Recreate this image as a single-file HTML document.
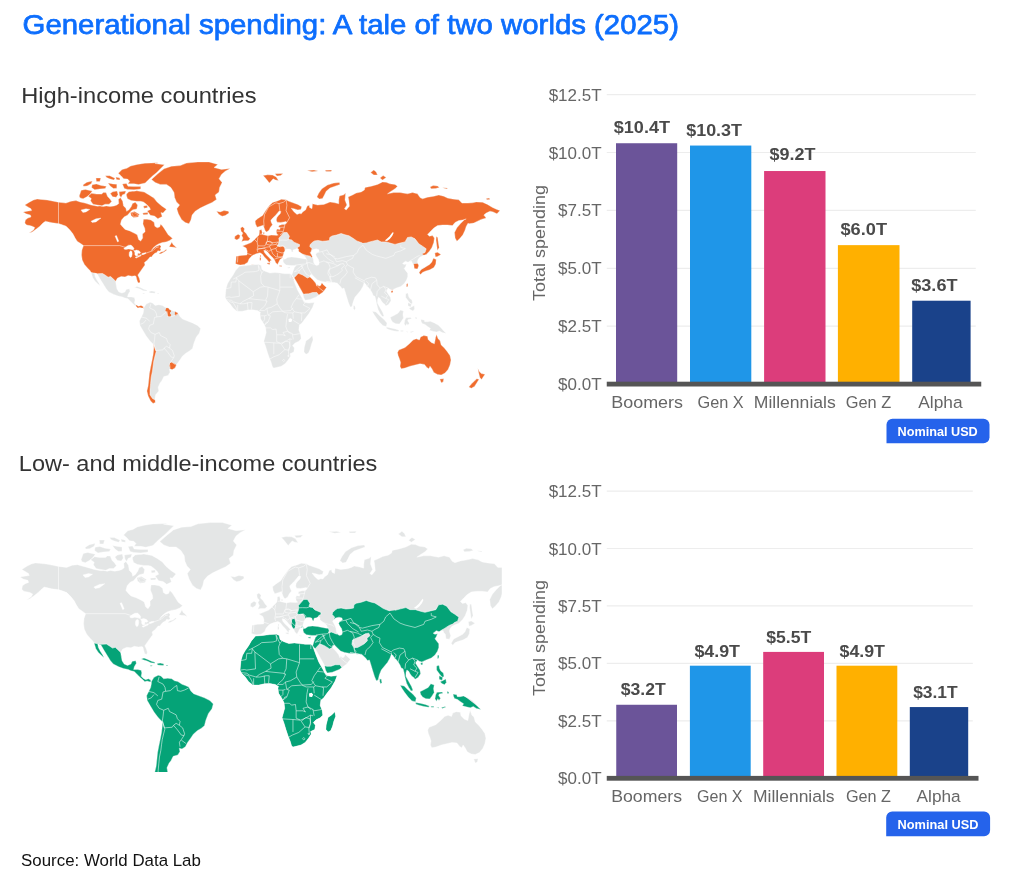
<!DOCTYPE html>
<html lang="en"><head><meta charset="utf-8"><title>Generational spending: A tale of two worlds (2025)</title>
<style>
html,body{margin:0;padding:0;background:#fff;}
body{width:1023px;height:881px;overflow:hidden;font-family:"Liberation Sans", sans-serif;}
svg{display:block;font-family:"Liberation Sans", sans-serif;}
</style></head><body>
<svg width="1023" height="881" viewBox="0 0 1023 881">
<rect width="1023" height="881" fill="#fff"/>
<text x="22.60" y="34.20" font-size="28.3" textLength="656.40" lengthAdjust="spacingAndGlyphs" fill="#0D6EFD" id="title" stroke="#0D6EFD" stroke-width="0.75" stroke-linejoin="round">Generational spending: A tale of two worlds (2025)</text>
<text x="21.20" y="102.60" font-size="21.6" textLength="235.40" lengthAdjust="spacingAndGlyphs" fill="#333" id="sub1">High-income countries</text>
<text x="18.80" y="471.30" font-size="21.6" textLength="358.50" lengthAdjust="spacingAndGlyphs" fill="#333" id="sub2">Low- and middle-income countries</text>
<text x="21.10" y="865.80" font-size="17.2" textLength="179.80" lengthAdjust="spacingAndGlyphs" fill="#111" id="src">Source: World Data Lab</text>
<defs>
<clipPath id="land"><path clip-rule="evenodd" d="M58.5,202.2 L53.5,201.2 L47.2,200.0 L41.0,199.4 L37.2,199.0 L33.5,200.0 L29.8,201.9 L24.8,205.0 L27.9,206.9 L31.0,208.8 L31.6,210.6 L27.2,211.2 L23.2,211.9 L26.0,213.8 L30.4,215.0 L31.0,216.9 L27.9,218.1 L25.4,220.0 L24.8,223.1 L26.6,225.0 L29.8,225.6 L32.2,226.2 L34.8,227.5 L33.5,230.0 L29.1,233.1 L32.2,231.9 L36.6,228.8 L39.8,226.2 L42.9,223.1 L45.4,221.2 L48.5,221.9 L52.2,222.8 L57.9,223.5 L61.0,224.4 L66.0,226.2 L69.8,230.0 L72.9,233.8 L74.8,237.5 L77.2,241.2 L81.0,243.8 L83.5,245.6 L81.9,250.0 L81.5,255.0 L82.2,260.0 L84.4,264.4 L87.5,268.1 L90.0,270.6 L91.2,272.6 L92.8,277.8 L95.1,281.2 L98.0,284.1 L100.2,286.1 L99.1,283.6 L96.9,280.1 L95.1,276.6 L94.5,273.2 L96.0,273.6 L97.5,274.4 L100.0,278.8 L103.1,283.8 L106.2,288.8 L108.8,291.9 L113.8,294.4 L118.1,296.0 L122.5,296.9 L125.0,298.1 L128.1,298.8 L131.2,301.9 L133.8,304.4 L136.2,306.5 L137.8,308.1 L139.8,307.5 L141.9,308.1 L143.5,308.1 L143.1,306.5 L141.0,305.4 L138.5,306.2 L136.2,305.0 L134.4,303.1 L135.0,300.0 L134.4,297.5 L131.2,296.9 L127.5,296.9 L128.1,294.4 L130.0,291.2 L129.4,288.8 L126.2,289.4 L125.0,291.9 L121.9,293.1 L118.8,291.9 L116.9,288.8 L116.2,285.0 L115.6,281.2 L117.5,278.1 L121.2,276.5 L125.0,276.9 L128.1,275.6 L131.9,276.2 L135.0,275.8 L136.1,276.5 L136.8,279.4 L137.6,282.1 L138.8,282.9 L139.6,282.8 L140.1,281.2 L139.2,278.1 L137.8,275.0 L140.0,271.9 L143.1,267.5 L145.0,265.0 L144.4,262.5 L147.5,260.0 L150.0,256.9 L151.6,257.0 L152.9,255.1 L154.8,253.2 L156.8,252.4 L157.8,250.8 L159.8,251.1 L161.1,250.0 L160.1,248.4 L161.1,246.5 L159.8,244.9 L156.0,246.5 L153.5,248.4 L151.3,250.6 L153.5,247.6 L156.0,245.4 L158.5,243.9 L162.2,242.6 L166.0,241.9 L169.8,240.4 L172.6,238.2 L172.1,238.0 L168.2,234.8 L165.8,230.9 L162.7,226.2 L160.7,224.3 L159.6,227.0 L157.2,227.8 L154.8,226.2 L154.1,222.3 L150.9,220.0 L147.0,219.2 L143.5,219.2 L142.9,223.9 L144.8,228.6 L145.1,231.7 L142.5,234.1 L142.7,238.0 L140.7,241.1 L138.6,239.6 L137.2,234.8 L134.5,233.3 L129.8,230.9 L125.1,229.4 L122.7,227.0 L120.4,224.3 L121.5,220.0 L124.3,216.8 L127.4,215.3 L130.9,211.3 L132.9,209.8 L136.8,209.0 L137.6,205.1 L135.3,202.3 L132.5,203.5 L131.3,206.6 L129.0,209.8 L126.6,211.3 L125.9,208.2 L123.5,205.9 L122.7,201.2 L120.4,197.6 L118.4,199.6 L118.8,203.5 L116.8,205.1 L114.1,205.9 L110.2,206.6 L106.3,205.9 L103.1,206.6 L100.0,205.9 L97.5,206.2 L91.2,205.0 L85.0,203.1 L80.0,201.9 L76.0,200.6 L71.0,201.2 L66.0,203.1ZM123.8,248.4 L126.0,246.7 L128.5,245.2 L131.0,245.1 L132.9,246.7 L134.1,248.6 L133.2,249.8 L131.0,249.2 L128.5,248.9 L126.0,249.5 L124.4,249.2ZM129.4,252.0 L130.7,250.8 L131.9,251.4 L132.2,253.9 L131.6,256.7 L130.4,257.6 L129.2,256.1 L129.1,253.9ZM134.1,250.8 L136.6,250.1 L139.1,250.8 L140.7,252.6 L139.8,253.6 L137.9,253.2 L137.6,255.4 L136.0,256.1 L134.8,254.5 L135.1,252.6ZM135.1,257.3 L137.2,256.4 L139.8,255.4 L141.0,254.8 L140.7,256.1 L138.5,257.0 L136.3,258.1ZM141.9,253.6 L144.1,252.9 L146.0,252.6 L145.7,253.6 L143.5,254.4 L141.9,254.5ZM81.0,210.0 L86.0,208.8 L89.8,209.4 L86.0,211.9 L82.9,212.5ZM91.0,221.2 L96.0,218.8 L101.0,218.1 L96.0,221.9 L92.2,222.5ZM115.0,236.0 L116.5,235.6 L118.8,241.2 L117.5,241.9Z"/>
<path clip-rule="evenodd" d="M169.1,246.7 L170.7,244.2 L171.8,242.0 L173.0,244.5 L174.8,245.9 L176.6,248.1 L174.1,247.2 L171.3,247.1Z"/>
<path clip-rule="evenodd" d="M159.1,253.4 L161.0,252.0 L163.5,251.4 L166.0,249.5 L166.9,250.1 L164.1,252.1 L161.0,253.7 L159.4,254.0Z"/>
<path clip-rule="evenodd" d="M126.6,195.2 L126.4,195.4 L127.5,198.7 L131.1,200.5 L136.8,201.3 L140.6,201.3 L143.5,202.0 L146.4,204.2 L149.4,207.2 L150.5,209.4 L147.2,211.0 L150.4,215.3 L154.5,216.1 L157.9,218.7 L162.2,216.5 L160.9,212.6 L163.0,213.1 L166.4,209.2 L161.7,205.9 L157.1,202.1 L153.9,198.1 L149.1,194.9 L144.2,192.1 L136.8,190.8 L134.1,191.2 L132.4,191.2 L128.9,191.7 L126.3,194.2Z"/>
<path clip-rule="evenodd" d="M130.5,212.4 L131.1,215.6 L133.5,217.6 L138.1,217.1 L139.3,214.2 L134.6,211.4Z"/>
<path clip-rule="evenodd" d="M143.5,206.0 L144.0,208.2 L147.3,207.7 L147.3,205.5Z"/>
<path clip-rule="evenodd" d="M142.7,213.0 L143.3,214.8 L147.6,214.5 L148.2,212.6Z"/>
<path clip-rule="evenodd" d="M79.2,196.1 L80.1,197.9 L83.1,198.8 L86.4,197.1 L89.6,194.7 L92.3,191.1 L85.4,189.4 L81.2,190.3Z"/>
<path clip-rule="evenodd" d="M88.0,196.0 L91.3,198.5 L90.5,200.8 L93.0,204.2 L97.1,205.0 L101.9,205.8 L105.1,204.2 L109.1,204.2 L111.7,201.6 L110.0,199.0 L107.6,196.6 L106.0,192.6 L103.3,192.6 L101.7,194.1 L96.4,194.1 L91.6,193.3Z"/>
<path clip-rule="evenodd" d="M82.9,184.9 L83.6,186.3 L87.1,185.9 L91.2,183.8 L92.3,181.0 L86.8,182.3Z"/>
<path clip-rule="evenodd" d="M92.1,184.7 L91.6,187.6 L94.7,189.8 L99.6,189.0 L105.2,188.6 L106.4,186.3 L101.2,185.5 L96.4,183.9Z"/>
<path clip-rule="evenodd" d="M95.9,178.0 L96.4,181.6 L99.8,181.6 L100.8,178.0Z"/>
<path clip-rule="evenodd" d="M108.0,182.9 L110.2,186.1 L113.5,188.6 L116.8,188.2 L116.8,184.3 L112.9,183.9Z"/>
<path clip-rule="evenodd" d="M105.4,175.7 L106.7,177.6 L109.6,178.8 L113.8,180.1 L115.0,178.3 L109.8,175.7Z"/>
<path clip-rule="evenodd" d="M115.8,177.1 L116.4,179.6 L119.9,180.1 L119.9,178.1Z"/>
<path clip-rule="evenodd" d="M118.3,173.3 L121.2,175.9 L123.7,178.7 L127.6,179.1 L129.7,181.2 L127.9,183.8 L134.0,183.8 L138.6,184.6 L138.6,184.6 L145.2,183.0 L149.0,179.2 L152.7,175.8 L156.5,172.7 L164.4,164.8 L155.0,163.5 L157.5,163.3 L157.5,162.8 L144.9,163.2 L137.1,164.4 L130.7,166.0 L126.8,168.3 L122.1,169.5Z"/>
<path clip-rule="evenodd" d="M122.4,184.0 L124.3,188.5 L127.6,189.4 L134.0,189.8 L140.7,189.0 L140.7,186.6 L134.0,186.6 L128.0,186.3 L126.4,183.5Z"/>
<path clip-rule="evenodd" d="M110.3,193.6 L112.6,196.8 L116.2,197.3 L118.0,194.6 L117.0,190.9 L112.7,191.8Z"/>
<path clip-rule="evenodd" d="M119.0,191.8 L119.5,195.4 L121.1,197.6 L122.5,194.8 L124.9,194.0 L125.9,190.9Z"/>
<path clip-rule="evenodd" d="M131.3,211.9 L133.8,216.9 L138.9,215.4 L134.9,212.9Z"/>
<path clip-rule="evenodd" d="M151.5,179.4 L157.8,173.8 L164.0,168.8 L171.5,166.2 L180.2,165.6 L186.5,163.1 L197.8,161.9 L209.0,161.9 L217.8,164.4 L214.0,167.5 L221.5,169.4 L230.2,168.5 L225.2,171.2 L221.5,174.4 L219.0,178.8 L222.1,182.5 L219.6,187.5 L219.0,191.9 L215.2,195.0 L216.5,199.4 L212.1,202.5 L206.5,205.0 L200.2,208.1 L195.2,211.2 L192.1,215.0 L190.9,220.0 L189.0,223.8 L185.2,222.5 L181.5,219.4 L178.4,213.8 L176.8,208.8 L179.6,205.0 L176.5,201.9 L174.6,197.5 L174.0,192.5 L170.9,187.5 L166.5,184.4 L160.2,184.4 L155.2,182.5Z"/>
<path clip-rule="evenodd" d="M216.5,211.2 L220.2,211.9 L224.0,210.6 L228.4,211.2 L229.0,213.1 L225.2,215.6 L222.1,216.2 L219.0,214.4Z"/>
<path clip-rule="evenodd" d="M263.1,175.6 L267.5,174.8 L272.5,175.0 L276.2,176.9 L278.5,180.6 L275.6,180.0 L273.1,178.8 L271.2,181.0 L269.4,183.1 L267.2,180.2 L265.2,177.8Z"/>
<path clip-rule="evenodd" d="M275.0,173.8 L283.1,173.4 L280.6,175.6 L276.9,176.0Z"/>
<path clip-rule="evenodd" d="M262.9,232.6 L264.3,232.4 L264.3,233.7 L263.1,233.8Z"/>
<path clip-rule="evenodd" d="M316.9,196.9 L318.8,193.1 L321.9,188.8 L327.5,185.0 L333.8,183.1 L339.4,182.5 L340.0,184.4 L335.0,186.2 L330.0,188.1 L326.2,191.2 L324.4,195.0 L322.5,198.5 L319.4,199.0Z"/>
<path clip-rule="evenodd" d="M240.5,228.1 L241.1,231.3 L242.9,233.1 L241.7,235.6 L243.0,238.1 L241.6,241.5 L244.4,240.8 L248.2,240.8 L250.2,238.8 L248.2,236.8 L246.4,233.7 L243.9,231.2 L244.5,228.7 L242.5,226.7Z"/>
<path clip-rule="evenodd" d="M234.9,236.2 L234.6,238.8 L236.9,239.9 L239.5,238.2 L240.2,235.6 L238.1,234.2Z"/>
<path clip-rule="evenodd" d="M143.8,307.9 L146.2,304.1 L150.0,302.2 L152.5,302.9 L155.0,305.4 L158.8,304.8 L162.5,305.4 L165.0,307.2 L168.1,307.9 L171.9,310.4 L175.0,311.6 L178.1,312.9 L180.0,316.6 L182.5,319.1 L187.5,321.0 L192.5,322.9 L197.5,325.4 L200.6,328.5 L199.4,332.9 L196.2,337.2 L193.8,343.5 L192.5,348.5 L189.4,351.0 L186.2,352.9 L182.5,356.0 L180.0,359.8 L176.9,364.1 L175.0,367.9 L171.9,369.8 L169.4,369.1 L170.0,372.2 L168.1,375.4 L163.8,376.6 L161.9,380.4 L160.0,382.9 L158.1,387.2 L158.8,391.0 L155.6,394.8 L155.0,398.5 L155.6,402.2 L153.1,403.5 L150.6,401.0 L148.1,396.0 L146.9,391.0 L148.1,386.0 L148.8,379.8 L149.4,373.5 L150.6,367.2 L151.9,361.0 L153.1,354.8 L153.8,348.5 L153.8,344.8 L150.0,341.0 L146.2,336.0 L142.5,329.8 L140.0,325.4 L139.4,321.0 L141.2,317.2 L143.1,313.5 L143.8,309.8Z"/>
<path clip-rule="evenodd" d="M239.4,266.2 L246.2,265.6 L252.5,264.8 L258.8,264.4 L261.2,265.6 L261.9,269.4 L265.0,271.2 L270.0,273.1 L275.0,272.5 L280.0,273.1 L285.0,273.8 L290.0,273.8 L291.9,275.0 L292.5,276.9 L295.0,283.8 L297.5,290.0 L300.6,295.6 L303.1,300.0 L305.0,302.5 L308.8,303.1 L314.4,302.5 L312.5,307.5 L308.8,313.8 L305.0,318.8 L301.9,323.1 L299.4,325.0 L298.8,330.0 L300.6,334.4 L301.2,338.8 L298.8,341.2 L295.0,343.1 L292.5,345.6 L294.4,348.1 L293.8,351.9 L290.0,353.8 L290.6,356.2 L288.1,360.0 L285.0,363.8 L281.2,366.2 L277.5,367.2 L273.8,368.1 L272.5,366.9 L271.2,362.5 L269.4,358.1 L267.5,352.5 L265.6,346.2 L263.8,341.2 L265.0,336.9 L266.2,332.5 L265.6,327.5 L263.8,323.8 L260.6,318.8 L260.0,313.8 L260.6,312.5 L257.5,310.6 L252.5,309.8 L247.5,310.0 L242.5,311.2 L236.9,311.2 L233.1,308.1 L230.0,303.8 L226.9,300.6 L225.2,297.5 L225.6,293.1 L226.0,288.8 L227.5,283.8 L230.0,279.4 L233.1,275.0 L235.6,270.6Z"/>
<path clip-rule="evenodd" d="M312.3,335.5 L309.4,338.5 L305.9,340.9 L305.4,343.2 L304.2,347.8 L304.0,351.9 L306.0,354.3 L308.5,353.1 L310.2,349.0 L311.4,344.4 L313.1,339.8Z"/>
<path clip-rule="evenodd" d="M397.5,352.5 L398.8,350.0 L405.0,347.5 L409.4,343.8 L413.1,340.0 L416.2,338.8 L419.4,340.0 L420.6,336.9 L423.8,335.6 L427.5,336.2 L428.1,339.4 L431.2,342.5 L434.4,343.8 L435.6,337.5 L436.5,334.4 L438.1,338.8 L440.0,340.6 L441.2,345.0 L444.4,348.1 L447.5,351.9 L450.0,355.6 L451.0,360.0 L450.0,365.0 L448.1,369.4 L445.0,373.1 L441.2,375.0 L437.5,374.4 L433.8,372.5 L431.9,368.8 L430.0,366.2 L428.8,368.8 L426.9,367.5 L424.4,364.4 L420.0,363.8 L415.0,365.0 L410.0,366.2 L405.0,368.1 L401.2,368.8 L400.0,366.2 L400.6,362.5 L399.4,358.8 L398.1,355.6Z"/>
<path clip-rule="evenodd" d="M439.8,379.0 L443.8,378.8 L443.1,381.9 L441.2,382.8Z"/>
<path clip-rule="evenodd" d="M477.8,368.7 L479.2,375.0 L479.9,377.6 L481.5,379.6 L483.2,377.0 L485.0,374.3 L481.3,373.6 L479.5,371.8 L477.9,368.7Z"/>
<path clip-rule="evenodd" d="M479.0,379.3 L476.8,378.8 L474.9,380.5 L471.8,383.6 L468.8,386.9 L471.3,388.3 L474.5,386.4 L477.0,382.6Z"/>
<path clip-rule="evenodd" d="M235.6,263.8 L236.0,259.4 L236.2,256.2 L241.2,255.4 L246.9,255.0 L247.2,251.2 L246.2,248.1 L242.5,246.0 L245.6,244.8 L248.8,243.5 L251.2,242.5 L253.5,240.6 L256.0,238.1 L258.1,236.0 L259.0,235.0 L259.0,235.0 L259.4,232.6 L259.4,230.3 L261.4,229.5 L262.2,232.2 L261.8,234.2 L262.9,234.6 L264.9,235.1 L268.0,235.7 L271.2,235.1 L275.9,235.3 L277.8,234.6 L276.7,233.4 L276.3,231.0 L277.1,229.1 L279.8,229.6 L280.2,227.9 L278.6,227.1 L279.0,225.4 L282.1,224.6 L284.9,224.6 L286.9,222.8 L286.1,221.5 L283.7,222.0 L280.6,222.4 L277.1,222.2 L276.3,220.1 L276.8,217.7 L278.2,215.8 L280.2,213.8 L281.0,211.4 L279.2,210.9 L277.1,213.4 L275.1,215.8 L272.7,218.1 L270.8,220.2 L271.2,222.2 L272.5,224.8 L270.4,227.3 L269.0,230.3 L266.5,232.0 L265.1,230.4 L264.0,227.5 L263.3,225.2 L260.2,226.3 L257.1,227.3 L255.5,224.0 L255.1,220.9 L257.9,218.5 L262.6,215.4 L264.9,211.8 L267.3,208.3 L269.6,205.2 L272.7,202.4 L277.4,200.9 L281.4,199.3 L286.1,199.7 L288.4,201.1 L293.1,202.8 L297.8,204.4 L301.7,206.8 L300.9,209.5 L297.8,209.9 L293.9,208.7 L291.2,208.2 L293.9,211.8 L297.0,214.4 L299.4,213.5 L301.3,213.8 L302.9,211.8 L305.6,209.9 L307.2,206.0 L309.2,205.2 L309.6,207.5 L312.0,208.7 L312.5,203.8 L317.5,205.0 L323.8,204.4 L327.5,203.1 L330.0,201.9 L335.0,202.8 L338.8,203.8 L338.8,200.0 L339.4,196.0 L343.8,194.8 L345.6,193.1 L345.0,200.0 L346.9,205.0 L344.4,208.8 L346.2,210.0 L349.4,206.2 L348.8,200.0 L348.1,196.9 L352.5,195.0 L356.2,193.1 L361.2,191.9 L364.4,190.0 L365.0,187.5 L371.2,186.2 L377.5,184.4 L382.5,181.9 L386.2,182.2 L390.0,183.8 L395.0,184.4 L397.5,186.2 L395.0,188.8 L390.0,191.9 L387.5,193.8 L393.8,192.5 L400.0,192.5 L407.5,193.8 L412.5,192.5 L417.5,193.8 L420.0,197.5 L422.5,198.8 L427.5,197.2 L433.8,196.2 L438.8,195.0 L443.8,196.2 L447.5,198.1 L452.5,199.0 L458.8,199.8 L461.9,203.1 L467.9,203.1 L472.5,202.8 L476.2,201.9 L482.5,202.2 L487.5,204.4 L492.5,207.5 L496.9,209.4 L500.0,210.6 L496.9,213.8 L493.1,211.9 L490.0,211.2 L486.2,213.1 L483.8,215.0 L486.2,218.1 L481.2,219.4 L477.5,221.2 L473.8,223.1 L468.8,223.8 L468.1,223.1 L466.2,226.5 L465.0,230.2 L462.9,234.8 L459.8,238.5 L456.9,241.2 L455.1,238.1 L454.5,232.5 L456.9,227.8 L460.6,223.5 L464.4,219.8 L466.2,219.0 L462.5,220.0 L458.8,220.6 L455.0,222.5 L452.5,225.6 L447.5,225.0 L442.5,225.0 L437.5,225.6 L433.8,228.1 L430.6,231.2 L427.5,234.4 L429.4,236.2 L432.5,235.6 L434.4,238.1 L433.8,242.5 L431.9,247.5 L429.4,251.2 L426.2,254.4 L423.1,255.6 L419.7,257.2 L418.0,259.5 L417.4,261.8 L418.7,265.8 L417.5,269.0 L414.3,268.6 L413.8,264.6 L412.3,262.9 L411.7,261.2 L410.0,261.2 L408.2,262.3 L405.4,261.2 L402.5,263.5 L404.2,264.6 L406.5,264.1 L405.4,266.9 L404.2,268.6 L405.9,270.9 L407.7,273.2 L407.7,276.7 L406.5,280.1 L404.2,283.6 L400.8,286.4 L396.2,288.1 L392.2,289.9 L389.9,289.3 L388.1,288.1 L386.4,291.0 L388.1,293.9 L390.4,297.3 L391.0,300.8 L388.7,304.2 L385.9,305.9 L384.7,304.2 L383.0,303.1 L381.3,300.8 L380.1,298.5 L378.4,297.3 L377.6,299.6 L377.5,303.1 L379.0,305.9 L381.0,309.4 L382.6,312.3 L383.9,315.7 L383.2,316.6 L382.1,316.3 L380.1,313.4 L378.1,309.4 L376.7,304.2 L375.8,299.6 L374.9,296.2 L373.2,295.6 L372.1,292.8 L370.4,289.9 L368.6,287.6 L366.9,286.4 L365.8,284.1 L364.1,283.0 L362.9,286.4 L360.6,290.4 L357.7,293.9 L354.9,297.3 L353.1,301.9 L352.0,306.5 L350.3,307.1 L348.6,303.1 L346.8,297.3 L345.1,291.6 L344.0,288.1 L342.2,288.7 L340.5,286.4 L338.8,284.7 L337.1,283.0 L333.1,282.4 L329.6,281.8 L326.2,281.3 L335.0,283.1 L330.0,282.5 L325.0,281.9 L321.2,281.2 L317.5,280.0 L314.4,276.9 L311.9,274.4 L310.0,275.0 L310.0,276.9 L313.1,280.0 L315.6,283.1 L316.9,286.2 L317.8,284.4 L318.8,286.2 L320.6,285.6 L321.9,282.8 L323.1,284.4 L326.5,287.5 L323.1,291.9 L318.8,295.0 L316.2,296.9 L310.0,299.4 L305.2,300.2 L303.8,297.5 L302.5,292.5 L299.4,286.9 L296.2,281.2 L294.0,277.5 L292.8,276.5 L291.9,275.0 L293.1,271.2 L294.4,267.5 L296.2,265.6 L291.2,265.6 L286.2,265.0 L283.8,263.1 L283.1,261.2 L283.1,259.4 L283.8,257.5 L283.8,259.0 L282.5,257.8 L280.0,259.4 L278.8,261.9 L277.5,264.4 L275.6,262.5 L274.8,260.6 L273.1,258.1 L270.0,255.0 L268.1,252.5 L266.0,250.6 L263.8,250.2 L264.4,252.5 L266.5,255.0 L269.0,257.5 L271.5,260.2 L270.0,261.0 L270.2,262.8 L268.8,261.9 L266.9,259.4 L264.4,256.9 L262.2,254.0 L260.0,252.8 L256.2,253.8 L252.8,255.2 L251.2,256.5 L249.0,259.0 L247.8,262.2 L244.4,264.4 L240.6,265.0 L238.8,264.8ZM284.0,252.6 L284.9,250.8 L285.7,249.4 L287.1,249.1 L289.4,249.1 L291.2,249.8 L291.6,251.7 L293.2,252.1 L292.9,250.6 L293.3,249.8 L295.5,249.3 L297.2,248.3 L298.6,249.1 L298.6,251.4 L300.9,253.2 L303.8,255.2 L305.5,257.2 L306.2,259.0 L304.4,258.9 L300.9,258.3 L296.3,257.4 L291.7,256.9 L287.7,257.4 L284.9,259.2 L283.1,258.9 L282.7,257.2 L283.2,254.9ZM311.0,251.5 L312.9,249.6 L316.1,248.8 L318.8,249.6 L319.2,251.5 L316.8,252.7 L315.7,254.6 L316.8,257.0 L318.4,259.3 L319.2,262.5 L318.8,264.8 L316.8,265.6 L314.9,264.8 L313.7,262.5 L313.3,259.3 L312.5,257.0 L311.3,254.6 L310.2,252.7Z"/>
<path clip-rule="evenodd" d="M266.9,263.1 L270.0,262.8 L269.8,264.4 L267.5,264.0Z"/>
<path clip-rule="evenodd" d="M259.8,257.5 L261.0,257.5 L261.0,260.2 L259.8,260.2Z"/>
<path clip-rule="evenodd" d="M260.2,255.0 L261.0,255.0 L261.0,256.9 L260.2,256.9Z"/>
<path clip-rule="evenodd" d="M279.4,265.6 L281.9,265.8 L281.9,266.4 L279.4,266.2Z"/>
<path clip-rule="evenodd" d="M287.5,267.5 L290.0,266.9 L290.0,268.1 L287.8,268.2Z"/>
<path clip-rule="evenodd" d="M370.6,172.5 L373.8,170.0 L376.2,171.9 L377.5,175.0 L373.8,175.0Z"/>
<path clip-rule="evenodd" d="M380.0,178.1 L383.1,175.6 L386.2,177.5 L382.5,180.0Z"/>
<path clip-rule="evenodd" d="M430.0,186.9 L433.1,185.6 L437.5,186.0 L439.4,187.5 L435.6,188.5 L431.2,188.8Z"/>
<path clip-rule="evenodd" d="M442.5,187.8 L447.5,188.1 L446.9,189.0Z"/>
<path clip-rule="evenodd" d="M486.2,198.5 L489.4,198.1 L489.8,199.4 L486.9,199.8Z"/>
<path clip-rule="evenodd" d="M436.3,236.5 L436.0,240.0 L436.7,245.0 L437.4,250.6 L439.2,247.5 L438.3,242.5 L437.7,237.4Z"/>
<path clip-rule="evenodd" d="M434.8,253.0 L435.5,257.1 L437.6,256.4 L441.0,254.4 L437.5,252.3Z"/>
<path clip-rule="evenodd" d="M433.4,258.2 L431.8,262.1 L429.6,264.6 L425.9,266.6 L421.4,268.8 L419.1,272.8 L420.6,274.6 L422.4,272.4 L425.1,271.2 L429.8,269.8 L433.9,267.6 L435.8,264.1 L436.2,259.6Z"/>
<path clip-rule="evenodd" d="M406.5,284.1 L407.9,283.6 L407.7,286.4 L406.5,287.0Z"/>
<path clip-rule="evenodd" d="M391.0,291.0 L392.8,290.4 L393.0,292.2 L391.4,292.8Z"/>
<path clip-rule="evenodd" d="M353.5,305.4 L354.9,305.9 L355.4,308.8 L354.3,310.2 L353.5,308.2Z"/>
<path clip-rule="evenodd" d="M405.7,293.7 L405.7,297.4 L407.5,299.8 L409.2,302.1 L411.1,304.0 L412.5,303.2 L411.9,300.1 L409.6,298.3 L408.5,296.1 L407.9,293.0Z"/>
<path clip-rule="evenodd" d="M408.0,302.7 L408.0,305.8 L410.7,306.9 L411.4,304.1Z"/>
<path clip-rule="evenodd" d="M409.0,308.2 L410.4,309.6 L412.9,310.9 L414.6,308.9 L414.2,305.6 L411.6,306.9Z"/>
<path clip-rule="evenodd" d="M372.3,311.3 L373.8,314.1 L376.1,317.6 L379.6,322.2 L383.1,325.7 L386.3,326.4 L387.0,323.1 L384.0,319.5 L380.0,316.1 L375.9,312.0Z"/>
<path clip-rule="evenodd" d="M386.3,327.1 L386.8,328.8 L389.5,329.7 L394.1,330.9 L398.3,331.5 L399.1,330.3 L395.3,329.0 L390.7,327.9Z"/>
<path clip-rule="evenodd" d="M400.4,330.6 L403.3,330.6 L403.1,331.5 L400.8,331.5Z"/>
<path clip-rule="evenodd" d="M405.6,331.5 L407.9,331.8 L407.7,332.5Z"/>
<path clip-rule="evenodd" d="M410.2,331.8 L413.6,330.9 L413.9,331.5 L410.8,332.7Z"/>
<path clip-rule="evenodd" d="M390.4,317.3 L391.1,319.8 L392.8,322.2 L395.8,323.7 L399.4,323.9 L401.2,321.6 L403.5,318.0 L402.9,314.6 L403.5,311.0 L400.4,310.0 L398.0,313.3 L394.0,315.5Z"/>
<path clip-rule="evenodd" d="M404.8,320.2 L404.2,323.8 L405.6,326.0 L406.8,323.7 L407.9,325.3 L409.3,323.2 L407.6,320.8 L408.1,319.4 L411.5,318.8 L410.9,317.5 L406.0,317.8Z"/>
<path clip-rule="evenodd" d="M415.4,316.9 L417.1,317.8 L416.5,319.1 L415.4,318.6Z"/>
<path clip-rule="evenodd" d="M420.8,319.4 L421.2,321.5 L422.1,323.4 L425.0,324.5 L427.3,326.2 L430.5,328.4 L429.3,330.2 L433.7,331.4 L436.6,332.0 L439.4,330.9 L442.2,332.6 L446.4,333.6 L443.7,331.0 L441.4,328.2 L438.5,325.3 L434.4,322.9 L430.3,321.2 L427.4,321.8 L424.7,321.8 L424.2,320.1Z"/>
<path clip-rule="evenodd" d="M134.5,287.2 L137.0,286.4 L140.4,287.6 L143.9,289.3 L147.1,290.2 L146.8,291.1 L143.3,290.7 L139.9,289.1 L136.8,288.1Z"/>
<path clip-rule="evenodd" d="M149.1,291.4 L151.9,291.0 L155.4,291.8 L154.8,293.2 L151.9,293.0 L149.4,292.8Z"/>
<path clip-rule="evenodd" d="M157.4,293.0 L158.8,293.0 L158.8,293.7 L157.4,293.7Z"/>
<path clip-rule="evenodd" d="M142.8,293.1 L144.5,293.1 L144.5,293.8 L142.8,293.8Z"/>
<path clip-rule="evenodd" d="M307.0,170.5 L314.0,170.0 L318.0,171.0 L312.0,171.8Z"/>
<path clip-rule="evenodd" d="M325.0,170.2 L332.0,170.0 L331.0,171.5 L326.0,171.5Z"/></clipPath>
<clipPath id="clipB"><rect x="0" y="480" width="501.8" height="292"/></clipPath>
</defs>
<g id="maptop"><g fill="#E4E6E6" fill-rule="evenodd"><path clip-rule="evenodd" d="M58.5,202.2 L53.5,201.2 L47.2,200.0 L41.0,199.4 L37.2,199.0 L33.5,200.0 L29.8,201.9 L24.8,205.0 L27.9,206.9 L31.0,208.8 L31.6,210.6 L27.2,211.2 L23.2,211.9 L26.0,213.8 L30.4,215.0 L31.0,216.9 L27.9,218.1 L25.4,220.0 L24.8,223.1 L26.6,225.0 L29.8,225.6 L32.2,226.2 L34.8,227.5 L33.5,230.0 L29.1,233.1 L32.2,231.9 L36.6,228.8 L39.8,226.2 L42.9,223.1 L45.4,221.2 L48.5,221.9 L52.2,222.8 L57.9,223.5 L61.0,224.4 L66.0,226.2 L69.8,230.0 L72.9,233.8 L74.8,237.5 L77.2,241.2 L81.0,243.8 L83.5,245.6 L81.9,250.0 L81.5,255.0 L82.2,260.0 L84.4,264.4 L87.5,268.1 L90.0,270.6 L91.2,272.6 L92.8,277.8 L95.1,281.2 L98.0,284.1 L100.2,286.1 L99.1,283.6 L96.9,280.1 L95.1,276.6 L94.5,273.2 L96.0,273.6 L97.5,274.4 L100.0,278.8 L103.1,283.8 L106.2,288.8 L108.8,291.9 L113.8,294.4 L118.1,296.0 L122.5,296.9 L125.0,298.1 L128.1,298.8 L131.2,301.9 L133.8,304.4 L136.2,306.5 L137.8,308.1 L139.8,307.5 L141.9,308.1 L143.5,308.1 L143.1,306.5 L141.0,305.4 L138.5,306.2 L136.2,305.0 L134.4,303.1 L135.0,300.0 L134.4,297.5 L131.2,296.9 L127.5,296.9 L128.1,294.4 L130.0,291.2 L129.4,288.8 L126.2,289.4 L125.0,291.9 L121.9,293.1 L118.8,291.9 L116.9,288.8 L116.2,285.0 L115.6,281.2 L117.5,278.1 L121.2,276.5 L125.0,276.9 L128.1,275.6 L131.9,276.2 L135.0,275.8 L136.1,276.5 L136.8,279.4 L137.6,282.1 L138.8,282.9 L139.6,282.8 L140.1,281.2 L139.2,278.1 L137.8,275.0 L140.0,271.9 L143.1,267.5 L145.0,265.0 L144.4,262.5 L147.5,260.0 L150.0,256.9 L151.6,257.0 L152.9,255.1 L154.8,253.2 L156.8,252.4 L157.8,250.8 L159.8,251.1 L161.1,250.0 L160.1,248.4 L161.1,246.5 L159.8,244.9 L156.0,246.5 L153.5,248.4 L151.3,250.6 L153.5,247.6 L156.0,245.4 L158.5,243.9 L162.2,242.6 L166.0,241.9 L169.8,240.4 L172.6,238.2 L172.1,238.0 L168.2,234.8 L165.8,230.9 L162.7,226.2 L160.7,224.3 L159.6,227.0 L157.2,227.8 L154.8,226.2 L154.1,222.3 L150.9,220.0 L147.0,219.2 L143.5,219.2 L142.9,223.9 L144.8,228.6 L145.1,231.7 L142.5,234.1 L142.7,238.0 L140.7,241.1 L138.6,239.6 L137.2,234.8 L134.5,233.3 L129.8,230.9 L125.1,229.4 L122.7,227.0 L120.4,224.3 L121.5,220.0 L124.3,216.8 L127.4,215.3 L130.9,211.3 L132.9,209.8 L136.8,209.0 L137.6,205.1 L135.3,202.3 L132.5,203.5 L131.3,206.6 L129.0,209.8 L126.6,211.3 L125.9,208.2 L123.5,205.9 L122.7,201.2 L120.4,197.6 L118.4,199.6 L118.8,203.5 L116.8,205.1 L114.1,205.9 L110.2,206.6 L106.3,205.9 L103.1,206.6 L100.0,205.9 L97.5,206.2 L91.2,205.0 L85.0,203.1 L80.0,201.9 L76.0,200.6 L71.0,201.2 L66.0,203.1ZM123.8,248.4 L126.0,246.7 L128.5,245.2 L131.0,245.1 L132.9,246.7 L134.1,248.6 L133.2,249.8 L131.0,249.2 L128.5,248.9 L126.0,249.5 L124.4,249.2ZM129.4,252.0 L130.7,250.8 L131.9,251.4 L132.2,253.9 L131.6,256.7 L130.4,257.6 L129.2,256.1 L129.1,253.9ZM134.1,250.8 L136.6,250.1 L139.1,250.8 L140.7,252.6 L139.8,253.6 L137.9,253.2 L137.6,255.4 L136.0,256.1 L134.8,254.5 L135.1,252.6ZM135.1,257.3 L137.2,256.4 L139.8,255.4 L141.0,254.8 L140.7,256.1 L138.5,257.0 L136.3,258.1ZM141.9,253.6 L144.1,252.9 L146.0,252.6 L145.7,253.6 L143.5,254.4 L141.9,254.5ZM81.0,210.0 L86.0,208.8 L89.8,209.4 L86.0,211.9 L82.9,212.5ZM91.0,221.2 L96.0,218.8 L101.0,218.1 L96.0,221.9 L92.2,222.5ZM115.0,236.0 L116.5,235.6 L118.8,241.2 L117.5,241.9Z"/>
<path clip-rule="evenodd" d="M169.1,246.7 L170.7,244.2 L171.8,242.0 L173.0,244.5 L174.8,245.9 L176.6,248.1 L174.1,247.2 L171.3,247.1Z"/>
<path clip-rule="evenodd" d="M159.1,253.4 L161.0,252.0 L163.5,251.4 L166.0,249.5 L166.9,250.1 L164.1,252.1 L161.0,253.7 L159.4,254.0Z"/>
<path clip-rule="evenodd" d="M126.6,195.2 L126.4,195.4 L127.5,198.7 L131.1,200.5 L136.8,201.3 L140.6,201.3 L143.5,202.0 L146.4,204.2 L149.4,207.2 L150.5,209.4 L147.2,211.0 L150.4,215.3 L154.5,216.1 L157.9,218.7 L162.2,216.5 L160.9,212.6 L163.0,213.1 L166.4,209.2 L161.7,205.9 L157.1,202.1 L153.9,198.1 L149.1,194.9 L144.2,192.1 L136.8,190.8 L134.1,191.2 L132.4,191.2 L128.9,191.7 L126.3,194.2Z"/>
<path clip-rule="evenodd" d="M130.5,212.4 L131.1,215.6 L133.5,217.6 L138.1,217.1 L139.3,214.2 L134.6,211.4Z"/>
<path clip-rule="evenodd" d="M143.5,206.0 L144.0,208.2 L147.3,207.7 L147.3,205.5Z"/>
<path clip-rule="evenodd" d="M142.7,213.0 L143.3,214.8 L147.6,214.5 L148.2,212.6Z"/>
<path clip-rule="evenodd" d="M79.2,196.1 L80.1,197.9 L83.1,198.8 L86.4,197.1 L89.6,194.7 L92.3,191.1 L85.4,189.4 L81.2,190.3Z"/>
<path clip-rule="evenodd" d="M88.0,196.0 L91.3,198.5 L90.5,200.8 L93.0,204.2 L97.1,205.0 L101.9,205.8 L105.1,204.2 L109.1,204.2 L111.7,201.6 L110.0,199.0 L107.6,196.6 L106.0,192.6 L103.3,192.6 L101.7,194.1 L96.4,194.1 L91.6,193.3Z"/>
<path clip-rule="evenodd" d="M82.9,184.9 L83.6,186.3 L87.1,185.9 L91.2,183.8 L92.3,181.0 L86.8,182.3Z"/>
<path clip-rule="evenodd" d="M92.1,184.7 L91.6,187.6 L94.7,189.8 L99.6,189.0 L105.2,188.6 L106.4,186.3 L101.2,185.5 L96.4,183.9Z"/>
<path clip-rule="evenodd" d="M95.9,178.0 L96.4,181.6 L99.8,181.6 L100.8,178.0Z"/>
<path clip-rule="evenodd" d="M108.0,182.9 L110.2,186.1 L113.5,188.6 L116.8,188.2 L116.8,184.3 L112.9,183.9Z"/>
<path clip-rule="evenodd" d="M105.4,175.7 L106.7,177.6 L109.6,178.8 L113.8,180.1 L115.0,178.3 L109.8,175.7Z"/>
<path clip-rule="evenodd" d="M115.8,177.1 L116.4,179.6 L119.9,180.1 L119.9,178.1Z"/>
<path clip-rule="evenodd" d="M118.3,173.3 L121.2,175.9 L123.7,178.7 L127.6,179.1 L129.7,181.2 L127.9,183.8 L134.0,183.8 L138.6,184.6 L138.6,184.6 L145.2,183.0 L149.0,179.2 L152.7,175.8 L156.5,172.7 L164.4,164.8 L155.0,163.5 L157.5,163.3 L157.5,162.8 L144.9,163.2 L137.1,164.4 L130.7,166.0 L126.8,168.3 L122.1,169.5Z"/>
<path clip-rule="evenodd" d="M122.4,184.0 L124.3,188.5 L127.6,189.4 L134.0,189.8 L140.7,189.0 L140.7,186.6 L134.0,186.6 L128.0,186.3 L126.4,183.5Z"/>
<path clip-rule="evenodd" d="M110.3,193.6 L112.6,196.8 L116.2,197.3 L118.0,194.6 L117.0,190.9 L112.7,191.8Z"/>
<path clip-rule="evenodd" d="M119.0,191.8 L119.5,195.4 L121.1,197.6 L122.5,194.8 L124.9,194.0 L125.9,190.9Z"/>
<path clip-rule="evenodd" d="M131.3,211.9 L133.8,216.9 L138.9,215.4 L134.9,212.9Z"/>
<path clip-rule="evenodd" d="M151.5,179.4 L157.8,173.8 L164.0,168.8 L171.5,166.2 L180.2,165.6 L186.5,163.1 L197.8,161.9 L209.0,161.9 L217.8,164.4 L214.0,167.5 L221.5,169.4 L230.2,168.5 L225.2,171.2 L221.5,174.4 L219.0,178.8 L222.1,182.5 L219.6,187.5 L219.0,191.9 L215.2,195.0 L216.5,199.4 L212.1,202.5 L206.5,205.0 L200.2,208.1 L195.2,211.2 L192.1,215.0 L190.9,220.0 L189.0,223.8 L185.2,222.5 L181.5,219.4 L178.4,213.8 L176.8,208.8 L179.6,205.0 L176.5,201.9 L174.6,197.5 L174.0,192.5 L170.9,187.5 L166.5,184.4 L160.2,184.4 L155.2,182.5Z"/>
<path clip-rule="evenodd" d="M216.5,211.2 L220.2,211.9 L224.0,210.6 L228.4,211.2 L229.0,213.1 L225.2,215.6 L222.1,216.2 L219.0,214.4Z"/>
<path clip-rule="evenodd" d="M263.1,175.6 L267.5,174.8 L272.5,175.0 L276.2,176.9 L278.5,180.6 L275.6,180.0 L273.1,178.8 L271.2,181.0 L269.4,183.1 L267.2,180.2 L265.2,177.8Z"/>
<path clip-rule="evenodd" d="M275.0,173.8 L283.1,173.4 L280.6,175.6 L276.9,176.0Z"/>
<path clip-rule="evenodd" d="M262.9,232.6 L264.3,232.4 L264.3,233.7 L263.1,233.8Z"/>
<path clip-rule="evenodd" d="M316.9,196.9 L318.8,193.1 L321.9,188.8 L327.5,185.0 L333.8,183.1 L339.4,182.5 L340.0,184.4 L335.0,186.2 L330.0,188.1 L326.2,191.2 L324.4,195.0 L322.5,198.5 L319.4,199.0Z"/>
<path clip-rule="evenodd" d="M240.5,228.1 L241.1,231.3 L242.9,233.1 L241.7,235.6 L243.0,238.1 L241.6,241.5 L244.4,240.8 L248.2,240.8 L250.2,238.8 L248.2,236.8 L246.4,233.7 L243.9,231.2 L244.5,228.7 L242.5,226.7Z"/>
<path clip-rule="evenodd" d="M234.9,236.2 L234.6,238.8 L236.9,239.9 L239.5,238.2 L240.2,235.6 L238.1,234.2Z"/>
<path clip-rule="evenodd" d="M143.8,307.9 L146.2,304.1 L150.0,302.2 L152.5,302.9 L155.0,305.4 L158.8,304.8 L162.5,305.4 L165.0,307.2 L168.1,307.9 L171.9,310.4 L175.0,311.6 L178.1,312.9 L180.0,316.6 L182.5,319.1 L187.5,321.0 L192.5,322.9 L197.5,325.4 L200.6,328.5 L199.4,332.9 L196.2,337.2 L193.8,343.5 L192.5,348.5 L189.4,351.0 L186.2,352.9 L182.5,356.0 L180.0,359.8 L176.9,364.1 L175.0,367.9 L171.9,369.8 L169.4,369.1 L170.0,372.2 L168.1,375.4 L163.8,376.6 L161.9,380.4 L160.0,382.9 L158.1,387.2 L158.8,391.0 L155.6,394.8 L155.0,398.5 L155.6,402.2 L153.1,403.5 L150.6,401.0 L148.1,396.0 L146.9,391.0 L148.1,386.0 L148.8,379.8 L149.4,373.5 L150.6,367.2 L151.9,361.0 L153.1,354.8 L153.8,348.5 L153.8,344.8 L150.0,341.0 L146.2,336.0 L142.5,329.8 L140.0,325.4 L139.4,321.0 L141.2,317.2 L143.1,313.5 L143.8,309.8Z"/>
<path clip-rule="evenodd" d="M239.4,266.2 L246.2,265.6 L252.5,264.8 L258.8,264.4 L261.2,265.6 L261.9,269.4 L265.0,271.2 L270.0,273.1 L275.0,272.5 L280.0,273.1 L285.0,273.8 L290.0,273.8 L291.9,275.0 L292.5,276.9 L295.0,283.8 L297.5,290.0 L300.6,295.6 L303.1,300.0 L305.0,302.5 L308.8,303.1 L314.4,302.5 L312.5,307.5 L308.8,313.8 L305.0,318.8 L301.9,323.1 L299.4,325.0 L298.8,330.0 L300.6,334.4 L301.2,338.8 L298.8,341.2 L295.0,343.1 L292.5,345.6 L294.4,348.1 L293.8,351.9 L290.0,353.8 L290.6,356.2 L288.1,360.0 L285.0,363.8 L281.2,366.2 L277.5,367.2 L273.8,368.1 L272.5,366.9 L271.2,362.5 L269.4,358.1 L267.5,352.5 L265.6,346.2 L263.8,341.2 L265.0,336.9 L266.2,332.5 L265.6,327.5 L263.8,323.8 L260.6,318.8 L260.0,313.8 L260.6,312.5 L257.5,310.6 L252.5,309.8 L247.5,310.0 L242.5,311.2 L236.9,311.2 L233.1,308.1 L230.0,303.8 L226.9,300.6 L225.2,297.5 L225.6,293.1 L226.0,288.8 L227.5,283.8 L230.0,279.4 L233.1,275.0 L235.6,270.6Z"/>
<path clip-rule="evenodd" d="M312.3,335.5 L309.4,338.5 L305.9,340.9 L305.4,343.2 L304.2,347.8 L304.0,351.9 L306.0,354.3 L308.5,353.1 L310.2,349.0 L311.4,344.4 L313.1,339.8Z"/>
<path clip-rule="evenodd" d="M397.5,352.5 L398.8,350.0 L405.0,347.5 L409.4,343.8 L413.1,340.0 L416.2,338.8 L419.4,340.0 L420.6,336.9 L423.8,335.6 L427.5,336.2 L428.1,339.4 L431.2,342.5 L434.4,343.8 L435.6,337.5 L436.5,334.4 L438.1,338.8 L440.0,340.6 L441.2,345.0 L444.4,348.1 L447.5,351.9 L450.0,355.6 L451.0,360.0 L450.0,365.0 L448.1,369.4 L445.0,373.1 L441.2,375.0 L437.5,374.4 L433.8,372.5 L431.9,368.8 L430.0,366.2 L428.8,368.8 L426.9,367.5 L424.4,364.4 L420.0,363.8 L415.0,365.0 L410.0,366.2 L405.0,368.1 L401.2,368.8 L400.0,366.2 L400.6,362.5 L399.4,358.8 L398.1,355.6Z"/>
<path clip-rule="evenodd" d="M439.8,379.0 L443.8,378.8 L443.1,381.9 L441.2,382.8Z"/>
<path clip-rule="evenodd" d="M477.8,368.7 L479.2,375.0 L479.9,377.6 L481.5,379.6 L483.2,377.0 L485.0,374.3 L481.3,373.6 L479.5,371.8 L477.9,368.7Z"/>
<path clip-rule="evenodd" d="M479.0,379.3 L476.8,378.8 L474.9,380.5 L471.8,383.6 L468.8,386.9 L471.3,388.3 L474.5,386.4 L477.0,382.6Z"/>
<path clip-rule="evenodd" d="M235.6,263.8 L236.0,259.4 L236.2,256.2 L241.2,255.4 L246.9,255.0 L247.2,251.2 L246.2,248.1 L242.5,246.0 L245.6,244.8 L248.8,243.5 L251.2,242.5 L253.5,240.6 L256.0,238.1 L258.1,236.0 L259.0,235.0 L259.0,235.0 L259.4,232.6 L259.4,230.3 L261.4,229.5 L262.2,232.2 L261.8,234.2 L262.9,234.6 L264.9,235.1 L268.0,235.7 L271.2,235.1 L275.9,235.3 L277.8,234.6 L276.7,233.4 L276.3,231.0 L277.1,229.1 L279.8,229.6 L280.2,227.9 L278.6,227.1 L279.0,225.4 L282.1,224.6 L284.9,224.6 L286.9,222.8 L286.1,221.5 L283.7,222.0 L280.6,222.4 L277.1,222.2 L276.3,220.1 L276.8,217.7 L278.2,215.8 L280.2,213.8 L281.0,211.4 L279.2,210.9 L277.1,213.4 L275.1,215.8 L272.7,218.1 L270.8,220.2 L271.2,222.2 L272.5,224.8 L270.4,227.3 L269.0,230.3 L266.5,232.0 L265.1,230.4 L264.0,227.5 L263.3,225.2 L260.2,226.3 L257.1,227.3 L255.5,224.0 L255.1,220.9 L257.9,218.5 L262.6,215.4 L264.9,211.8 L267.3,208.3 L269.6,205.2 L272.7,202.4 L277.4,200.9 L281.4,199.3 L286.1,199.7 L288.4,201.1 L293.1,202.8 L297.8,204.4 L301.7,206.8 L300.9,209.5 L297.8,209.9 L293.9,208.7 L291.2,208.2 L293.9,211.8 L297.0,214.4 L299.4,213.5 L301.3,213.8 L302.9,211.8 L305.6,209.9 L307.2,206.0 L309.2,205.2 L309.6,207.5 L312.0,208.7 L312.5,203.8 L317.5,205.0 L323.8,204.4 L327.5,203.1 L330.0,201.9 L335.0,202.8 L338.8,203.8 L338.8,200.0 L339.4,196.0 L343.8,194.8 L345.6,193.1 L345.0,200.0 L346.9,205.0 L344.4,208.8 L346.2,210.0 L349.4,206.2 L348.8,200.0 L348.1,196.9 L352.5,195.0 L356.2,193.1 L361.2,191.9 L364.4,190.0 L365.0,187.5 L371.2,186.2 L377.5,184.4 L382.5,181.9 L386.2,182.2 L390.0,183.8 L395.0,184.4 L397.5,186.2 L395.0,188.8 L390.0,191.9 L387.5,193.8 L393.8,192.5 L400.0,192.5 L407.5,193.8 L412.5,192.5 L417.5,193.8 L420.0,197.5 L422.5,198.8 L427.5,197.2 L433.8,196.2 L438.8,195.0 L443.8,196.2 L447.5,198.1 L452.5,199.0 L458.8,199.8 L461.9,203.1 L467.9,203.1 L472.5,202.8 L476.2,201.9 L482.5,202.2 L487.5,204.4 L492.5,207.5 L496.9,209.4 L500.0,210.6 L496.9,213.8 L493.1,211.9 L490.0,211.2 L486.2,213.1 L483.8,215.0 L486.2,218.1 L481.2,219.4 L477.5,221.2 L473.8,223.1 L468.8,223.8 L468.1,223.1 L466.2,226.5 L465.0,230.2 L462.9,234.8 L459.8,238.5 L456.9,241.2 L455.1,238.1 L454.5,232.5 L456.9,227.8 L460.6,223.5 L464.4,219.8 L466.2,219.0 L462.5,220.0 L458.8,220.6 L455.0,222.5 L452.5,225.6 L447.5,225.0 L442.5,225.0 L437.5,225.6 L433.8,228.1 L430.6,231.2 L427.5,234.4 L429.4,236.2 L432.5,235.6 L434.4,238.1 L433.8,242.5 L431.9,247.5 L429.4,251.2 L426.2,254.4 L423.1,255.6 L419.7,257.2 L418.0,259.5 L417.4,261.8 L418.7,265.8 L417.5,269.0 L414.3,268.6 L413.8,264.6 L412.3,262.9 L411.7,261.2 L410.0,261.2 L408.2,262.3 L405.4,261.2 L402.5,263.5 L404.2,264.6 L406.5,264.1 L405.4,266.9 L404.2,268.6 L405.9,270.9 L407.7,273.2 L407.7,276.7 L406.5,280.1 L404.2,283.6 L400.8,286.4 L396.2,288.1 L392.2,289.9 L389.9,289.3 L388.1,288.1 L386.4,291.0 L388.1,293.9 L390.4,297.3 L391.0,300.8 L388.7,304.2 L385.9,305.9 L384.7,304.2 L383.0,303.1 L381.3,300.8 L380.1,298.5 L378.4,297.3 L377.6,299.6 L377.5,303.1 L379.0,305.9 L381.0,309.4 L382.6,312.3 L383.9,315.7 L383.2,316.6 L382.1,316.3 L380.1,313.4 L378.1,309.4 L376.7,304.2 L375.8,299.6 L374.9,296.2 L373.2,295.6 L372.1,292.8 L370.4,289.9 L368.6,287.6 L366.9,286.4 L365.8,284.1 L364.1,283.0 L362.9,286.4 L360.6,290.4 L357.7,293.9 L354.9,297.3 L353.1,301.9 L352.0,306.5 L350.3,307.1 L348.6,303.1 L346.8,297.3 L345.1,291.6 L344.0,288.1 L342.2,288.7 L340.5,286.4 L338.8,284.7 L337.1,283.0 L333.1,282.4 L329.6,281.8 L326.2,281.3 L335.0,283.1 L330.0,282.5 L325.0,281.9 L321.2,281.2 L317.5,280.0 L314.4,276.9 L311.9,274.4 L310.0,275.0 L310.0,276.9 L313.1,280.0 L315.6,283.1 L316.9,286.2 L317.8,284.4 L318.8,286.2 L320.6,285.6 L321.9,282.8 L323.1,284.4 L326.5,287.5 L323.1,291.9 L318.8,295.0 L316.2,296.9 L310.0,299.4 L305.2,300.2 L303.8,297.5 L302.5,292.5 L299.4,286.9 L296.2,281.2 L294.0,277.5 L292.8,276.5 L291.9,275.0 L293.1,271.2 L294.4,267.5 L296.2,265.6 L291.2,265.6 L286.2,265.0 L283.8,263.1 L283.1,261.2 L283.1,259.4 L283.8,257.5 L283.8,259.0 L282.5,257.8 L280.0,259.4 L278.8,261.9 L277.5,264.4 L275.6,262.5 L274.8,260.6 L273.1,258.1 L270.0,255.0 L268.1,252.5 L266.0,250.6 L263.8,250.2 L264.4,252.5 L266.5,255.0 L269.0,257.5 L271.5,260.2 L270.0,261.0 L270.2,262.8 L268.8,261.9 L266.9,259.4 L264.4,256.9 L262.2,254.0 L260.0,252.8 L256.2,253.8 L252.8,255.2 L251.2,256.5 L249.0,259.0 L247.8,262.2 L244.4,264.4 L240.6,265.0 L238.8,264.8ZM284.0,252.6 L284.9,250.8 L285.7,249.4 L287.1,249.1 L289.4,249.1 L291.2,249.8 L291.6,251.7 L293.2,252.1 L292.9,250.6 L293.3,249.8 L295.5,249.3 L297.2,248.3 L298.6,249.1 L298.6,251.4 L300.9,253.2 L303.8,255.2 L305.5,257.2 L306.2,259.0 L304.4,258.9 L300.9,258.3 L296.3,257.4 L291.7,256.9 L287.7,257.4 L284.9,259.2 L283.1,258.9 L282.7,257.2 L283.2,254.9ZM311.0,251.5 L312.9,249.6 L316.1,248.8 L318.8,249.6 L319.2,251.5 L316.8,252.7 L315.7,254.6 L316.8,257.0 L318.4,259.3 L319.2,262.5 L318.8,264.8 L316.8,265.6 L314.9,264.8 L313.7,262.5 L313.3,259.3 L312.5,257.0 L311.3,254.6 L310.2,252.7Z"/>
<path clip-rule="evenodd" d="M266.9,263.1 L270.0,262.8 L269.8,264.4 L267.5,264.0Z"/>
<path clip-rule="evenodd" d="M259.8,257.5 L261.0,257.5 L261.0,260.2 L259.8,260.2Z"/>
<path clip-rule="evenodd" d="M260.2,255.0 L261.0,255.0 L261.0,256.9 L260.2,256.9Z"/>
<path clip-rule="evenodd" d="M279.4,265.6 L281.9,265.8 L281.9,266.4 L279.4,266.2Z"/>
<path clip-rule="evenodd" d="M287.5,267.5 L290.0,266.9 L290.0,268.1 L287.8,268.2Z"/>
<path clip-rule="evenodd" d="M370.6,172.5 L373.8,170.0 L376.2,171.9 L377.5,175.0 L373.8,175.0Z"/>
<path clip-rule="evenodd" d="M380.0,178.1 L383.1,175.6 L386.2,177.5 L382.5,180.0Z"/>
<path clip-rule="evenodd" d="M430.0,186.9 L433.1,185.6 L437.5,186.0 L439.4,187.5 L435.6,188.5 L431.2,188.8Z"/>
<path clip-rule="evenodd" d="M442.5,187.8 L447.5,188.1 L446.9,189.0Z"/>
<path clip-rule="evenodd" d="M486.2,198.5 L489.4,198.1 L489.8,199.4 L486.9,199.8Z"/>
<path clip-rule="evenodd" d="M436.3,236.5 L436.0,240.0 L436.7,245.0 L437.4,250.6 L439.2,247.5 L438.3,242.5 L437.7,237.4Z"/>
<path clip-rule="evenodd" d="M434.8,253.0 L435.5,257.1 L437.6,256.4 L441.0,254.4 L437.5,252.3Z"/>
<path clip-rule="evenodd" d="M433.4,258.2 L431.8,262.1 L429.6,264.6 L425.9,266.6 L421.4,268.8 L419.1,272.8 L420.6,274.6 L422.4,272.4 L425.1,271.2 L429.8,269.8 L433.9,267.6 L435.8,264.1 L436.2,259.6Z"/>
<path clip-rule="evenodd" d="M406.5,284.1 L407.9,283.6 L407.7,286.4 L406.5,287.0Z"/>
<path clip-rule="evenodd" d="M391.0,291.0 L392.8,290.4 L393.0,292.2 L391.4,292.8Z"/>
<path clip-rule="evenodd" d="M353.5,305.4 L354.9,305.9 L355.4,308.8 L354.3,310.2 L353.5,308.2Z"/>
<path clip-rule="evenodd" d="M405.7,293.7 L405.7,297.4 L407.5,299.8 L409.2,302.1 L411.1,304.0 L412.5,303.2 L411.9,300.1 L409.6,298.3 L408.5,296.1 L407.9,293.0Z"/>
<path clip-rule="evenodd" d="M408.0,302.7 L408.0,305.8 L410.7,306.9 L411.4,304.1Z"/>
<path clip-rule="evenodd" d="M409.0,308.2 L410.4,309.6 L412.9,310.9 L414.6,308.9 L414.2,305.6 L411.6,306.9Z"/>
<path clip-rule="evenodd" d="M372.3,311.3 L373.8,314.1 L376.1,317.6 L379.6,322.2 L383.1,325.7 L386.3,326.4 L387.0,323.1 L384.0,319.5 L380.0,316.1 L375.9,312.0Z"/>
<path clip-rule="evenodd" d="M386.3,327.1 L386.8,328.8 L389.5,329.7 L394.1,330.9 L398.3,331.5 L399.1,330.3 L395.3,329.0 L390.7,327.9Z"/>
<path clip-rule="evenodd" d="M400.4,330.6 L403.3,330.6 L403.1,331.5 L400.8,331.5Z"/>
<path clip-rule="evenodd" d="M405.6,331.5 L407.9,331.8 L407.7,332.5Z"/>
<path clip-rule="evenodd" d="M410.2,331.8 L413.6,330.9 L413.9,331.5 L410.8,332.7Z"/>
<path clip-rule="evenodd" d="M390.4,317.3 L391.1,319.8 L392.8,322.2 L395.8,323.7 L399.4,323.9 L401.2,321.6 L403.5,318.0 L402.9,314.6 L403.5,311.0 L400.4,310.0 L398.0,313.3 L394.0,315.5Z"/>
<path clip-rule="evenodd" d="M404.8,320.2 L404.2,323.8 L405.6,326.0 L406.8,323.7 L407.9,325.3 L409.3,323.2 L407.6,320.8 L408.1,319.4 L411.5,318.8 L410.9,317.5 L406.0,317.8Z"/>
<path clip-rule="evenodd" d="M415.4,316.9 L417.1,317.8 L416.5,319.1 L415.4,318.6Z"/>
<path clip-rule="evenodd" d="M420.8,319.4 L421.2,321.5 L422.1,323.4 L425.0,324.5 L427.3,326.2 L430.5,328.4 L429.3,330.2 L433.7,331.4 L436.6,332.0 L439.4,330.9 L442.2,332.6 L446.4,333.6 L443.7,331.0 L441.4,328.2 L438.5,325.3 L434.4,322.9 L430.3,321.2 L427.4,321.8 L424.7,321.8 L424.2,320.1Z"/>
<path clip-rule="evenodd" d="M134.5,287.2 L137.0,286.4 L140.4,287.6 L143.9,289.3 L147.1,290.2 L146.8,291.1 L143.3,290.7 L139.9,289.1 L136.8,288.1Z"/>
<path clip-rule="evenodd" d="M149.1,291.4 L151.9,291.0 L155.4,291.8 L154.8,293.2 L151.9,293.0 L149.4,292.8Z"/>
<path clip-rule="evenodd" d="M157.4,293.0 L158.8,293.0 L158.8,293.7 L157.4,293.7Z"/>
<path clip-rule="evenodd" d="M142.8,293.1 L144.5,293.1 L144.5,293.8 L142.8,293.8Z"/>
<path clip-rule="evenodd" d="M307.0,170.5 L314.0,170.0 L318.0,171.0 L312.0,171.8Z"/>
<path clip-rule="evenodd" d="M325.0,170.2 L332.0,170.0 L331.0,171.5 L326.0,171.5Z"/></g>
<g clip-path="url(#land)" fill="#F06C2D">
<path d="M10.0,150.0 L232.0,150.0 L232.0,222.0 L205.0,222.0 L205.0,284.0 L125.0,284.2 L118.8,283.1 L115.6,281.2 L113.1,278.8 L110.6,276.5 L108.1,277.2 L105.0,275.0 L102.5,273.5 L97.5,273.8 L91.2,272.6 L85.0,272.6 L10.0,272.6Z"/>
<path d="M136.1,303.8 L144.0,303.8 L144.0,309.0 L136.1,309.0Z"/>
<path d="M153.8,344.5 L155.0,347.9 L156.2,351.6 L155.0,356.0 L153.8,361.0 L153.1,366.0 L152.5,371.0 L151.2,377.2 L150.6,383.5 L150.0,389.8 L150.0,394.8 L152.5,398.5 L155.2,400.0 L155.8,404.8 L142.5,404.8 L142.5,344.5Z"/>
<path d="M170.0,362.9 L171.9,362.2 L175.0,364.1 L177.5,366.0 L176.2,369.8 L173.1,370.4 L170.2,368.5 L169.4,365.4Z"/>
<path d="M165.4,310.4 L166.2,308.3 L167.6,307.3 L168.9,308.3 L169.6,310.0 L171.1,310.5 L170.9,311.7 L170.0,312.4 L170.0,313.6 L171.3,315.1 L170.4,316.4 L168.8,316.9 L167.5,315.6 L167.2,313.6 L166.6,312.0Z"/>
<path d="M174.9,311.0 L176.7,310.8 L178.1,312.8 L177.4,314.5 L175.8,315.5 L174.9,314.9Z"/>
<path d="M232.5,265.8 L240.0,265.6 L245.0,265.1 L250.0,264.8 L257.5,263.5 L263.1,263.5 L265.6,265.0 L272.5,266.0 L278.8,267.5 L282.5,267.2 L283.1,265.0 L282.5,261.2 L283.1,259.0 L283.1,257.5 L284.4,256.2 L286.2,252.5 L285.1,250.7 L284.7,248.0 L283.1,246.0 L281.4,246.0 L279.1,246.5 L277.4,245.7 L278.5,243.4 L279.1,240.5 L278.8,238.2 L280.8,235.9 L283.7,232.5 L287.1,232.5 L289.4,236.2 L288.6,238.5 L288.9,239.4 L291.7,239.9 L294.0,242.2 L296.9,243.4 L299.5,244.5 L299.5,246.3 L297.5,247.4 L297.2,248.3 L297.8,249.1 L296.3,249.8 L298.6,252.0 L297.9,251.3 L301.9,253.9 L306.6,255.4 L310.2,256.2 L311.3,257.6 L313.5,256.0 L313.5,252.5 L311.3,250.7 L312.1,248.8 L309.8,246.4 L310.2,244.5 L312.5,242.3 L314.5,240.9 L318.0,240.4 L322.3,241.3 L326.0,241.0 L329.4,240.5 L329.8,237.4 L332.0,236.0 L336.4,235.1 L341.1,233.5 L345.0,234.8 L349.0,235.8 L353.0,238.3 L356.8,240.9 L357.5,241.2 L362.5,243.1 L367.5,242.5 L372.5,241.2 L377.5,240.0 L381.2,241.9 L386.2,241.9 L390.0,243.1 L395.0,244.4 L400.0,243.1 L405.0,241.9 L407.5,237.5 L411.2,236.9 L415.0,238.8 L418.8,243.8 L422.5,246.2 L426.2,248.8 L425.0,252.5 L421.9,253.8 L423.8,255.0 L427.0,257.5 L520.0,257.5 L520.0,140.0 L225.0,140.0 L225.0,266.0Z"/>
<path d="M294.1,277.8 L298.4,273.3 L302.7,275.0 L307.4,278.0 L309.5,277.0 L311.8,276.2 L312.5,276.9 L317.5,282.5 L320.0,283.8 L322.5,281.9 L328.1,287.5 L323.1,293.1 L319.0,295.4 L316.9,292.5 L312.5,292.5 L308.8,293.8 L304.4,294.0 L301.9,293.1 L297.5,286.2 L293.8,280.0 L292.5,277.2Z"/>
<path d="M413.1,264.0 L420.0,263.5 L420.0,270.0 L413.1,270.0Z"/>
<path d="M432.8,251.9 L442.5,251.9 L442.5,257.5 L437.5,260.0 L436.9,267.5 L431.2,271.2 L418.8,276.2 L417.5,271.9 L425.0,267.5 L431.2,262.5Z"/>
<path d="M405.4,282.4 L408.8,282.4 L408.8,288.1 L405.4,288.1Z"/>
<path d="M390.4,289.9 L393.9,289.9 L393.9,293.3 L390.4,293.3Z"/>
<path d="M390.0,340.0 L410.0,335.0 L428.0,334.0 L432.0,333.2 L441.0,333.2 L446.0,340.0 L500.0,340.0 L500.0,400.0 L390.0,400.0Z"/>
</g>
<path d="M258.3,265.3 L258.9,270.5 L255.5,271.6 L245.1,272.2 L242.8,273.9 L236.5,277.4 L233.1,279.1 M236.5,277.4 L235.9,282.0 L231.4,282.0 L230.8,287.7 L225.6,288.8 M236.5,277.9 L238.8,280.8 L253.2,291.7 M253.2,291.7 L260.6,287.1 L264.6,286.6 M264.6,286.6 L261.2,283.1 L260.6,276.2 L261.8,272.8 L260.1,269.3 L258.3,265.3 M261.8,272.8 L263.3,271.4 L263.7,270.2 M279.8,273.9 L279.8,287.1 L293.3,287.1 M279.8,287.1 L279.8,290.6 M264.6,286.6 L268.1,287.1 L279.8,290.6 M268.1,287.1 L267.5,296.3 L265.8,299.8 L266.9,301.5 M279.8,290.6 L278.4,294.6 L276.7,299.2 L277.3,303.8 L281.3,310.1 M238.8,280.8 L239.4,296.3 L231.4,297.4 L229.1,296.9 L225.6,297.4 M253.2,291.7 L253.7,295.7 L248.6,298.6 L247.4,299.2 L242.8,301.5 L240.0,303.8 M248.6,298.6 L253.7,299.2 L264.6,300.3 L266.9,301.5 M252.0,302.6 L251.4,309.5 M266.9,301.5 L264.6,306.1 L259.5,310.6 M237.7,304.9 L237.7,311.8 M247.4,302.6 L248.0,310.1 M229.1,301.5 L233.1,302.6 L235.9,307.2 L237.1,310.6 M226.8,299.8 L231.4,300.3 L233.7,302.0 L240.0,303.8 L243.4,303.8 L249.2,302.6 L252.0,302.6 M266.9,308.4 L271.5,307.2 L277.3,303.8 M259.5,310.6 L264.6,310.6 L266.9,308.4 L268.1,315.2 L270.4,315.8 M268.1,315.2 L272.7,311.8 L281.9,311.2 L285.9,312.9 M281.3,310.1 L283.0,311.2 L290.5,310.6 L293.3,307.8 M299.1,294.6 L296.2,298.6 L293.3,302.6 L291.1,307.2 L294.5,311.8 L300.2,312.9 M296.2,298.6 L302.5,299.2 L304.8,303.2 M304.8,303.2 L303.1,304.9 L310.0,308.4 L304.8,312.9 L300.2,312.9 L301.9,313.5 L301.4,321.0 M292.8,312.9 L293.3,318.7 M293.3,320.4 L299.7,324.4 M287.6,314.1 L286.5,319.8 L285.9,326.7 L287.6,331.3 L290.5,333.6 M285.9,312.9 L292.8,312.9 L294.5,311.8 M270.4,315.8 L268.1,322.1 L264.6,325.0 M265.2,327.9 L270.4,327.9 L272.7,329.6 L276.1,329.0 L276.7,334.8 L283.0,334.8 L285.3,335.9 L283.0,332.5 L287.6,331.3 M287.6,331.3 L292.2,333.6 L293.3,334.8 L300.2,333.6 M292.2,333.6 L293.3,339.4 M264.1,342.2 L273.8,342.8 L280.7,343.4 M276.7,334.8 L276.7,341.6 L280.7,343.4 L285.3,341.6 L289.9,338.8 L292.2,339.4 M273.8,342.8 L273.8,354.2 M289.9,338.8 L289.9,345.1 L288.8,350.8 M260.6,315.8 L264.6,315.8 L266.9,315.2 M264.6,315.8 L264.6,319.8 L262.4,322.1 M264.6,325.0 L266.4,322.1 L268.1,322.1 M294.5,271.6 L301.4,265.9 L303.7,265.3 M301.4,265.9 L306.0,273.9 L309.4,276.2 M150.9,303.7 L149.7,307.9 L154.5,310.3 L156.3,313.3 L156.9,316.9 M156.9,316.9 L161.1,316.3 L165.3,312.7 L167.1,311.5 M167.1,311.5 L167.7,316.3 L170.7,316.9 L174.3,315.7 L177.9,313.9 M140.7,316.9 L146.1,318.1 L149.7,321.1 M140.7,324.1 L143.7,322.9 L146.1,319.9 M156.9,316.9 L154.5,317.5 L153.3,324.1 L149.7,325.3 L148.5,328.9 L150.9,332.5 L155.1,334.3 M155.1,334.3 L154.5,339.7 L153.9,343.9 L155.7,350.5 M155.1,334.3 L159.3,332.5 L160.5,335.5 L166.5,338.5 L167.7,342.1 L170.1,344.5 L169.5,348.1 M155.7,350.5 L162.9,349.9 L164.1,348.1 L166.5,346.3 L169.5,348.1 M169.5,348.1 L172.5,350.5 L174.3,355.9 L173.7,357.6 M164.1,348.1 L167.7,352.3 L171.3,357.1 L173.7,357.6 L171.3,361.2 L169.5,363.6 L170.1,367.8 M171.3,361.8 L175.5,364.8 M326.2,253.7 L330.8,254.9 L334.8,258.3 L337.6,258.9 L342.2,257.7 L346.3,256.6 L353.7,255.4 L357.2,252.6 L358.9,248.6 L362.9,245.1 M362.9,245.1 L366.4,250.3 L372.1,254.3 L376.7,256.0 L385.9,258.3 L393.9,255.4 L395.0,252.6 L400.8,250.8 L405.4,248.6 L400.8,247.4 L400.8,245.1 M353.7,255.4 L352.6,258.3 L349.1,260.0 L346.3,261.8 L347.4,264.6 M347.4,264.6 L350.9,266.9 L353.7,268.1 L353.1,272.1 L356.0,276.7 L364.1,280.7 L365.8,279.0 L371.5,277.2 L375.5,277.8 L376.7,280.1 M354.9,277.8 L363.5,282.4 M347.4,264.6 L345.1,267.5 L347.4,272.1 L344.5,276.1 L341.1,279.0 L339.9,283.6 M329.6,276.7 L330.8,281.3 M364.1,281.3 L364.6,285.9 L367.5,286.4 L368.6,283.6 L366.4,281.3 M376.7,280.1 L372.1,283.6 L370.4,289.9 M376.7,280.1 L377.2,284.7 L380.1,288.1 L377.2,291.6 L376.7,296.2 M380.1,288.1 L383.6,286.4 L385.9,289.3 L384.7,292.8 L387.6,295.6 L385.9,298.5 M383.6,286.4 L388.1,288.1 M381.3,296.2 L385.9,298.5 L388.7,299.6 L385.9,304.2 M326.2,261.8 L333.1,263.5 L337.6,265.8 L340.5,264.1 M334.8,258.3 L336.5,261.8 L342.2,260.6 L346.3,261.8 M328.5,269.8 L331.9,268.1 L336.5,266.4 L340.5,264.1 L343.4,263.5 L344.5,265.8 L341.7,268.1 L342.2,270.4 L339.4,273.2 L336.5,274.9 L333.1,276.7 L329.6,276.7 L327.9,273.8 L328.5,269.8 M91.2,272.6 L97.5,273.8 L102.5,273.5 L105.0,275.0 L108.1,277.2 L110.6,276.5 L113.1,278.8 L115.6,281.2 M285.1,250.7 L284.7,248.0 L283.1,246.0 L281.4,246.0 L279.1,246.5 L277.4,245.7 L278.5,243.4 L279.1,240.5 L278.8,238.2 L280.8,235.9 L283.7,232.5 L287.1,232.5 M287.1,232.5 L289.4,236.2 L288.6,238.5 L288.9,239.4 L291.7,239.9 L294.0,242.2 L296.9,243.4 L299.5,244.5 L299.5,246.3 L297.5,247.4 L297.2,248.3 M297.9,251.3 L301.9,253.9 L306.6,255.4 L310.2,256.2 L311.3,257.6 M311.3,250.7 L312.1,248.8 L309.8,246.4 L310.2,244.5 L312.5,242.3 L314.5,240.9 L318.0,240.4 L322.3,241.3 L326.0,241.0 L329.4,240.5 L329.8,237.4 L332.0,236.0 L336.4,235.1 L341.1,233.5 L345.0,234.8 L349.0,235.8 L353.0,238.3 L356.8,240.9 L357.5,241.2 L362.5,243.1 M367.5,242.5 L372.5,241.2 L377.5,240.0 L381.2,241.9 L386.2,241.9 L390.0,243.1 L395.0,244.4 L400.0,243.1 L405.0,241.9 L407.5,237.5 L411.2,236.9 L415.0,238.8 L418.8,243.8 L422.5,246.2 L426.2,248.8 L425.0,252.5 L421.9,253.8 M419.7,255.4 L416.9,256.6 L413.4,258.9 L410.5,260.6 L408.2,262.3 M305.9,258.2 L307.0,260.9 L306.6,263.3 L309.0,262.5 L311.3,263.3 L313.9,264.4 M294.1,277.8 L298.4,273.3 L302.7,275.0 L307.4,278.0 L309.5,277.0 L311.8,276.2 M304.4,294.0 L308.8,293.8 L312.5,292.5 L316.9,292.5 L319.0,295.4 M153.8,344.5 L155.0,347.9 L156.2,351.6 L155.0,356.0 L153.8,361.0 L153.1,366.0 L152.5,371.0 L151.2,377.2 L150.6,383.5 L150.0,389.8 L150.0,394.8 L152.5,398.5 L155.2,400.0 M279.1,240.2 L282.6,240.1 L286.6,240.2 L288.9,239.4 M58.5,202.2 L58.5,223.8 L66.0,226.5 L69.8,230.2 L74.8,238.1 M83.5,245.6 L119.8,245.6 L123.8,246.9 L130.0,248.8 L133.8,250.0 L136.2,255.6 L141.2,255.0 L146.2,253.1 L153.1,250.6 L156.2,247.5 L158.8,246.9 M269.4,359.3 L273.4,357.0 L279.1,354.7 L284.9,349.6 L288.3,350.1 L288.9,357.0 M281.4,344.4 L284.9,349.6 M281.4,344.4 L285.4,341.0 L289.4,342.1 L290.0,346.7 L288.3,350.1 M282.6,360.5 L283.7,359.3 L284.9,360.5 L283.7,361.6 L282.6,360.5 M287.6,355.9 L288.3,355.2 L288.8,356.1 L288.1,356.7 L287.6,355.9 M264.1,226.3 L263.7,220.9 L264.5,214.6 L268.8,206.8 L275.9,202.8 L279.0,203.6 L279.8,210.7 M279.0,203.6 L283.7,202.1 L286.1,199.9 L286.9,205.2 L286.1,210.7 L289.6,217.7 L286.9,222.4 M284.9,224.6 L283.7,229.5 L282.9,232.6 L279.9,235.0 M279.0,227.5 L284.5,227.1 M276.7,231.2 L282.9,231.4 M275.9,235.3 L278.4,235.1 M268.0,235.7 L267.3,241.2 L272.7,242.8 L278.2,242.0 M259.8,234.2 L261.8,234.2 M257.9,237.3 L257.1,242.0 L257.9,245.9 L264.9,245.9 L266.5,242.0 L267.3,241.2 M254.3,239.3 L257.1,242.0 M257.9,245.9 L257.1,249.8 L257.9,252.2 M246.9,253.4 L251.6,254.9 M257.9,248.3 L261.0,248.7 L264.9,247.5 L269.6,246.7 L270.4,245.2 L266.5,244.4 L266.5,242.0 M266.5,242.0 L269.6,241.2 L272.7,242.8 L270.4,245.2 M257.1,249.8 L260.2,248.7 L264.9,248.3 L265.7,249.8 M270.4,245.2 L275.9,244.4 L278.2,242.0 M269.6,246.7 L271.2,249.8 L275.9,248.3 L278.2,245.9 L275.9,244.4 M275.9,248.3 L276.7,251.4 L282.1,253.0 L285.3,252.2 M278.2,245.9 L280.6,246.7 L283.7,245.9 L286.1,248.3 M277.4,253.0 L277.4,256.9 L283.7,256.9 M271.2,249.8 L272.7,253.8 L275.9,256.9 L277.4,256.9 M274.3,259.2 L279.0,257.7 L283.7,256.9 M237.9,255.3 L237.5,262.4 M266.5,249.8 L268.8,251.4 L271.2,249.8 M294.9,265.2 L300.4,264.4 L305.9,264.0 L307.0,262.5 M307.0,262.5 L307.8,267.2 L309.8,271.1 L312.1,275.0 M300.4,264.4 L302.7,267.2 L299.6,270.3 L298.4,273.3 M294.1,271.9 L299.6,270.3 M319.2,262.5 L323.9,260.9 L328.6,263.3 L330.1,267.2 M330.1,267.2 L329.0,271.9 L330.9,275.8 L330.1,278.1 L331.7,280.5 L330.9,282.9 M316.8,252.7 L322.3,251.5 L323.9,254.6 L328.6,259.3 L334.1,262.5 M322.3,251.5 L327.0,249.9 L329.4,253.9 L334.9,257.0 M317.6,286.4 L320.7,289.1 L323.9,291.5 M290.2,274.2 L290.2,278.1" fill="none" stroke="#fff" stroke-width="0.55" stroke-linejoin="round" opacity="0.9"/><path d="M288.5,318.9 L290.8,318.2 L292.4,319.8 L291.3,322.1 L288.8,321.9Z M384.8,240.5 L386.9,238.8 L389.4,236.6 L391.6,233.5 L393.0,232.0 L393.6,233.0 L392.2,236.0 L389.8,239.0 L387.0,241.0Z" fill="#fff"/>
<g fill="none" stroke="#fff" stroke-width="0.35"><path clip-rule="evenodd" d="M58.5,202.2 L53.5,201.2 L47.2,200.0 L41.0,199.4 L37.2,199.0 L33.5,200.0 L29.8,201.9 L24.8,205.0 L27.9,206.9 L31.0,208.8 L31.6,210.6 L27.2,211.2 L23.2,211.9 L26.0,213.8 L30.4,215.0 L31.0,216.9 L27.9,218.1 L25.4,220.0 L24.8,223.1 L26.6,225.0 L29.8,225.6 L32.2,226.2 L34.8,227.5 L33.5,230.0 L29.1,233.1 L32.2,231.9 L36.6,228.8 L39.8,226.2 L42.9,223.1 L45.4,221.2 L48.5,221.9 L52.2,222.8 L57.9,223.5 L61.0,224.4 L66.0,226.2 L69.8,230.0 L72.9,233.8 L74.8,237.5 L77.2,241.2 L81.0,243.8 L83.5,245.6 L81.9,250.0 L81.5,255.0 L82.2,260.0 L84.4,264.4 L87.5,268.1 L90.0,270.6 L91.2,272.6 L92.8,277.8 L95.1,281.2 L98.0,284.1 L100.2,286.1 L99.1,283.6 L96.9,280.1 L95.1,276.6 L94.5,273.2 L96.0,273.6 L97.5,274.4 L100.0,278.8 L103.1,283.8 L106.2,288.8 L108.8,291.9 L113.8,294.4 L118.1,296.0 L122.5,296.9 L125.0,298.1 L128.1,298.8 L131.2,301.9 L133.8,304.4 L136.2,306.5 L137.8,308.1 L139.8,307.5 L141.9,308.1 L143.5,308.1 L143.1,306.5 L141.0,305.4 L138.5,306.2 L136.2,305.0 L134.4,303.1 L135.0,300.0 L134.4,297.5 L131.2,296.9 L127.5,296.9 L128.1,294.4 L130.0,291.2 L129.4,288.8 L126.2,289.4 L125.0,291.9 L121.9,293.1 L118.8,291.9 L116.9,288.8 L116.2,285.0 L115.6,281.2 L117.5,278.1 L121.2,276.5 L125.0,276.9 L128.1,275.6 L131.9,276.2 L135.0,275.8 L136.1,276.5 L136.8,279.4 L137.6,282.1 L138.8,282.9 L139.6,282.8 L140.1,281.2 L139.2,278.1 L137.8,275.0 L140.0,271.9 L143.1,267.5 L145.0,265.0 L144.4,262.5 L147.5,260.0 L150.0,256.9 L151.6,257.0 L152.9,255.1 L154.8,253.2 L156.8,252.4 L157.8,250.8 L159.8,251.1 L161.1,250.0 L160.1,248.4 L161.1,246.5 L159.8,244.9 L156.0,246.5 L153.5,248.4 L151.3,250.6 L153.5,247.6 L156.0,245.4 L158.5,243.9 L162.2,242.6 L166.0,241.9 L169.8,240.4 L172.6,238.2 L172.1,238.0 L168.2,234.8 L165.8,230.9 L162.7,226.2 L160.7,224.3 L159.6,227.0 L157.2,227.8 L154.8,226.2 L154.1,222.3 L150.9,220.0 L147.0,219.2 L143.5,219.2 L142.9,223.9 L144.8,228.6 L145.1,231.7 L142.5,234.1 L142.7,238.0 L140.7,241.1 L138.6,239.6 L137.2,234.8 L134.5,233.3 L129.8,230.9 L125.1,229.4 L122.7,227.0 L120.4,224.3 L121.5,220.0 L124.3,216.8 L127.4,215.3 L130.9,211.3 L132.9,209.8 L136.8,209.0 L137.6,205.1 L135.3,202.3 L132.5,203.5 L131.3,206.6 L129.0,209.8 L126.6,211.3 L125.9,208.2 L123.5,205.9 L122.7,201.2 L120.4,197.6 L118.4,199.6 L118.8,203.5 L116.8,205.1 L114.1,205.9 L110.2,206.6 L106.3,205.9 L103.1,206.6 L100.0,205.9 L97.5,206.2 L91.2,205.0 L85.0,203.1 L80.0,201.9 L76.0,200.6 L71.0,201.2 L66.0,203.1ZM123.8,248.4 L126.0,246.7 L128.5,245.2 L131.0,245.1 L132.9,246.7 L134.1,248.6 L133.2,249.8 L131.0,249.2 L128.5,248.9 L126.0,249.5 L124.4,249.2ZM129.4,252.0 L130.7,250.8 L131.9,251.4 L132.2,253.9 L131.6,256.7 L130.4,257.6 L129.2,256.1 L129.1,253.9ZM134.1,250.8 L136.6,250.1 L139.1,250.8 L140.7,252.6 L139.8,253.6 L137.9,253.2 L137.6,255.4 L136.0,256.1 L134.8,254.5 L135.1,252.6ZM135.1,257.3 L137.2,256.4 L139.8,255.4 L141.0,254.8 L140.7,256.1 L138.5,257.0 L136.3,258.1ZM141.9,253.6 L144.1,252.9 L146.0,252.6 L145.7,253.6 L143.5,254.4 L141.9,254.5ZM81.0,210.0 L86.0,208.8 L89.8,209.4 L86.0,211.9 L82.9,212.5ZM91.0,221.2 L96.0,218.8 L101.0,218.1 L96.0,221.9 L92.2,222.5ZM115.0,236.0 L116.5,235.6 L118.8,241.2 L117.5,241.9Z"/>
<path clip-rule="evenodd" d="M169.1,246.7 L170.7,244.2 L171.8,242.0 L173.0,244.5 L174.8,245.9 L176.6,248.1 L174.1,247.2 L171.3,247.1Z"/>
<path clip-rule="evenodd" d="M159.1,253.4 L161.0,252.0 L163.5,251.4 L166.0,249.5 L166.9,250.1 L164.1,252.1 L161.0,253.7 L159.4,254.0Z"/>
<path clip-rule="evenodd" d="M126.6,195.2 L126.4,195.4 L127.5,198.7 L131.1,200.5 L136.8,201.3 L140.6,201.3 L143.5,202.0 L146.4,204.2 L149.4,207.2 L150.5,209.4 L147.2,211.0 L150.4,215.3 L154.5,216.1 L157.9,218.7 L162.2,216.5 L160.9,212.6 L163.0,213.1 L166.4,209.2 L161.7,205.9 L157.1,202.1 L153.9,198.1 L149.1,194.9 L144.2,192.1 L136.8,190.8 L134.1,191.2 L132.4,191.2 L128.9,191.7 L126.3,194.2Z"/>
<path clip-rule="evenodd" d="M130.5,212.4 L131.1,215.6 L133.5,217.6 L138.1,217.1 L139.3,214.2 L134.6,211.4Z"/>
<path clip-rule="evenodd" d="M143.5,206.0 L144.0,208.2 L147.3,207.7 L147.3,205.5Z"/>
<path clip-rule="evenodd" d="M142.7,213.0 L143.3,214.8 L147.6,214.5 L148.2,212.6Z"/>
<path clip-rule="evenodd" d="M79.2,196.1 L80.1,197.9 L83.1,198.8 L86.4,197.1 L89.6,194.7 L92.3,191.1 L85.4,189.4 L81.2,190.3Z"/>
<path clip-rule="evenodd" d="M88.0,196.0 L91.3,198.5 L90.5,200.8 L93.0,204.2 L97.1,205.0 L101.9,205.8 L105.1,204.2 L109.1,204.2 L111.7,201.6 L110.0,199.0 L107.6,196.6 L106.0,192.6 L103.3,192.6 L101.7,194.1 L96.4,194.1 L91.6,193.3Z"/>
<path clip-rule="evenodd" d="M82.9,184.9 L83.6,186.3 L87.1,185.9 L91.2,183.8 L92.3,181.0 L86.8,182.3Z"/>
<path clip-rule="evenodd" d="M92.1,184.7 L91.6,187.6 L94.7,189.8 L99.6,189.0 L105.2,188.6 L106.4,186.3 L101.2,185.5 L96.4,183.9Z"/>
<path clip-rule="evenodd" d="M95.9,178.0 L96.4,181.6 L99.8,181.6 L100.8,178.0Z"/>
<path clip-rule="evenodd" d="M108.0,182.9 L110.2,186.1 L113.5,188.6 L116.8,188.2 L116.8,184.3 L112.9,183.9Z"/>
<path clip-rule="evenodd" d="M105.4,175.7 L106.7,177.6 L109.6,178.8 L113.8,180.1 L115.0,178.3 L109.8,175.7Z"/>
<path clip-rule="evenodd" d="M115.8,177.1 L116.4,179.6 L119.9,180.1 L119.9,178.1Z"/>
<path clip-rule="evenodd" d="M118.3,173.3 L121.2,175.9 L123.7,178.7 L127.6,179.1 L129.7,181.2 L127.9,183.8 L134.0,183.8 L138.6,184.6 L138.6,184.6 L145.2,183.0 L149.0,179.2 L152.7,175.8 L156.5,172.7 L164.4,164.8 L155.0,163.5 L157.5,163.3 L157.5,162.8 L144.9,163.2 L137.1,164.4 L130.7,166.0 L126.8,168.3 L122.1,169.5Z"/>
<path clip-rule="evenodd" d="M122.4,184.0 L124.3,188.5 L127.6,189.4 L134.0,189.8 L140.7,189.0 L140.7,186.6 L134.0,186.6 L128.0,186.3 L126.4,183.5Z"/>
<path clip-rule="evenodd" d="M110.3,193.6 L112.6,196.8 L116.2,197.3 L118.0,194.6 L117.0,190.9 L112.7,191.8Z"/>
<path clip-rule="evenodd" d="M119.0,191.8 L119.5,195.4 L121.1,197.6 L122.5,194.8 L124.9,194.0 L125.9,190.9Z"/>
<path clip-rule="evenodd" d="M131.3,211.9 L133.8,216.9 L138.9,215.4 L134.9,212.9Z"/>
<path clip-rule="evenodd" d="M151.5,179.4 L157.8,173.8 L164.0,168.8 L171.5,166.2 L180.2,165.6 L186.5,163.1 L197.8,161.9 L209.0,161.9 L217.8,164.4 L214.0,167.5 L221.5,169.4 L230.2,168.5 L225.2,171.2 L221.5,174.4 L219.0,178.8 L222.1,182.5 L219.6,187.5 L219.0,191.9 L215.2,195.0 L216.5,199.4 L212.1,202.5 L206.5,205.0 L200.2,208.1 L195.2,211.2 L192.1,215.0 L190.9,220.0 L189.0,223.8 L185.2,222.5 L181.5,219.4 L178.4,213.8 L176.8,208.8 L179.6,205.0 L176.5,201.9 L174.6,197.5 L174.0,192.5 L170.9,187.5 L166.5,184.4 L160.2,184.4 L155.2,182.5Z"/>
<path clip-rule="evenodd" d="M216.5,211.2 L220.2,211.9 L224.0,210.6 L228.4,211.2 L229.0,213.1 L225.2,215.6 L222.1,216.2 L219.0,214.4Z"/>
<path clip-rule="evenodd" d="M263.1,175.6 L267.5,174.8 L272.5,175.0 L276.2,176.9 L278.5,180.6 L275.6,180.0 L273.1,178.8 L271.2,181.0 L269.4,183.1 L267.2,180.2 L265.2,177.8Z"/>
<path clip-rule="evenodd" d="M275.0,173.8 L283.1,173.4 L280.6,175.6 L276.9,176.0Z"/>
<path clip-rule="evenodd" d="M262.9,232.6 L264.3,232.4 L264.3,233.7 L263.1,233.8Z"/>
<path clip-rule="evenodd" d="M316.9,196.9 L318.8,193.1 L321.9,188.8 L327.5,185.0 L333.8,183.1 L339.4,182.5 L340.0,184.4 L335.0,186.2 L330.0,188.1 L326.2,191.2 L324.4,195.0 L322.5,198.5 L319.4,199.0Z"/>
<path clip-rule="evenodd" d="M240.5,228.1 L241.1,231.3 L242.9,233.1 L241.7,235.6 L243.0,238.1 L241.6,241.5 L244.4,240.8 L248.2,240.8 L250.2,238.8 L248.2,236.8 L246.4,233.7 L243.9,231.2 L244.5,228.7 L242.5,226.7Z"/>
<path clip-rule="evenodd" d="M234.9,236.2 L234.6,238.8 L236.9,239.9 L239.5,238.2 L240.2,235.6 L238.1,234.2Z"/>
<path clip-rule="evenodd" d="M143.8,307.9 L146.2,304.1 L150.0,302.2 L152.5,302.9 L155.0,305.4 L158.8,304.8 L162.5,305.4 L165.0,307.2 L168.1,307.9 L171.9,310.4 L175.0,311.6 L178.1,312.9 L180.0,316.6 L182.5,319.1 L187.5,321.0 L192.5,322.9 L197.5,325.4 L200.6,328.5 L199.4,332.9 L196.2,337.2 L193.8,343.5 L192.5,348.5 L189.4,351.0 L186.2,352.9 L182.5,356.0 L180.0,359.8 L176.9,364.1 L175.0,367.9 L171.9,369.8 L169.4,369.1 L170.0,372.2 L168.1,375.4 L163.8,376.6 L161.9,380.4 L160.0,382.9 L158.1,387.2 L158.8,391.0 L155.6,394.8 L155.0,398.5 L155.6,402.2 L153.1,403.5 L150.6,401.0 L148.1,396.0 L146.9,391.0 L148.1,386.0 L148.8,379.8 L149.4,373.5 L150.6,367.2 L151.9,361.0 L153.1,354.8 L153.8,348.5 L153.8,344.8 L150.0,341.0 L146.2,336.0 L142.5,329.8 L140.0,325.4 L139.4,321.0 L141.2,317.2 L143.1,313.5 L143.8,309.8Z"/>
<path clip-rule="evenodd" d="M239.4,266.2 L246.2,265.6 L252.5,264.8 L258.8,264.4 L261.2,265.6 L261.9,269.4 L265.0,271.2 L270.0,273.1 L275.0,272.5 L280.0,273.1 L285.0,273.8 L290.0,273.8 L291.9,275.0 L292.5,276.9 L295.0,283.8 L297.5,290.0 L300.6,295.6 L303.1,300.0 L305.0,302.5 L308.8,303.1 L314.4,302.5 L312.5,307.5 L308.8,313.8 L305.0,318.8 L301.9,323.1 L299.4,325.0 L298.8,330.0 L300.6,334.4 L301.2,338.8 L298.8,341.2 L295.0,343.1 L292.5,345.6 L294.4,348.1 L293.8,351.9 L290.0,353.8 L290.6,356.2 L288.1,360.0 L285.0,363.8 L281.2,366.2 L277.5,367.2 L273.8,368.1 L272.5,366.9 L271.2,362.5 L269.4,358.1 L267.5,352.5 L265.6,346.2 L263.8,341.2 L265.0,336.9 L266.2,332.5 L265.6,327.5 L263.8,323.8 L260.6,318.8 L260.0,313.8 L260.6,312.5 L257.5,310.6 L252.5,309.8 L247.5,310.0 L242.5,311.2 L236.9,311.2 L233.1,308.1 L230.0,303.8 L226.9,300.6 L225.2,297.5 L225.6,293.1 L226.0,288.8 L227.5,283.8 L230.0,279.4 L233.1,275.0 L235.6,270.6Z"/>
<path clip-rule="evenodd" d="M312.3,335.5 L309.4,338.5 L305.9,340.9 L305.4,343.2 L304.2,347.8 L304.0,351.9 L306.0,354.3 L308.5,353.1 L310.2,349.0 L311.4,344.4 L313.1,339.8Z"/>
<path clip-rule="evenodd" d="M397.5,352.5 L398.8,350.0 L405.0,347.5 L409.4,343.8 L413.1,340.0 L416.2,338.8 L419.4,340.0 L420.6,336.9 L423.8,335.6 L427.5,336.2 L428.1,339.4 L431.2,342.5 L434.4,343.8 L435.6,337.5 L436.5,334.4 L438.1,338.8 L440.0,340.6 L441.2,345.0 L444.4,348.1 L447.5,351.9 L450.0,355.6 L451.0,360.0 L450.0,365.0 L448.1,369.4 L445.0,373.1 L441.2,375.0 L437.5,374.4 L433.8,372.5 L431.9,368.8 L430.0,366.2 L428.8,368.8 L426.9,367.5 L424.4,364.4 L420.0,363.8 L415.0,365.0 L410.0,366.2 L405.0,368.1 L401.2,368.8 L400.0,366.2 L400.6,362.5 L399.4,358.8 L398.1,355.6Z"/>
<path clip-rule="evenodd" d="M439.8,379.0 L443.8,378.8 L443.1,381.9 L441.2,382.8Z"/>
<path clip-rule="evenodd" d="M477.8,368.7 L479.2,375.0 L479.9,377.6 L481.5,379.6 L483.2,377.0 L485.0,374.3 L481.3,373.6 L479.5,371.8 L477.9,368.7Z"/>
<path clip-rule="evenodd" d="M479.0,379.3 L476.8,378.8 L474.9,380.5 L471.8,383.6 L468.8,386.9 L471.3,388.3 L474.5,386.4 L477.0,382.6Z"/>
<path clip-rule="evenodd" d="M235.6,263.8 L236.0,259.4 L236.2,256.2 L241.2,255.4 L246.9,255.0 L247.2,251.2 L246.2,248.1 L242.5,246.0 L245.6,244.8 L248.8,243.5 L251.2,242.5 L253.5,240.6 L256.0,238.1 L258.1,236.0 L259.0,235.0 L259.0,235.0 L259.4,232.6 L259.4,230.3 L261.4,229.5 L262.2,232.2 L261.8,234.2 L262.9,234.6 L264.9,235.1 L268.0,235.7 L271.2,235.1 L275.9,235.3 L277.8,234.6 L276.7,233.4 L276.3,231.0 L277.1,229.1 L279.8,229.6 L280.2,227.9 L278.6,227.1 L279.0,225.4 L282.1,224.6 L284.9,224.6 L286.9,222.8 L286.1,221.5 L283.7,222.0 L280.6,222.4 L277.1,222.2 L276.3,220.1 L276.8,217.7 L278.2,215.8 L280.2,213.8 L281.0,211.4 L279.2,210.9 L277.1,213.4 L275.1,215.8 L272.7,218.1 L270.8,220.2 L271.2,222.2 L272.5,224.8 L270.4,227.3 L269.0,230.3 L266.5,232.0 L265.1,230.4 L264.0,227.5 L263.3,225.2 L260.2,226.3 L257.1,227.3 L255.5,224.0 L255.1,220.9 L257.9,218.5 L262.6,215.4 L264.9,211.8 L267.3,208.3 L269.6,205.2 L272.7,202.4 L277.4,200.9 L281.4,199.3 L286.1,199.7 L288.4,201.1 L293.1,202.8 L297.8,204.4 L301.7,206.8 L300.9,209.5 L297.8,209.9 L293.9,208.7 L291.2,208.2 L293.9,211.8 L297.0,214.4 L299.4,213.5 L301.3,213.8 L302.9,211.8 L305.6,209.9 L307.2,206.0 L309.2,205.2 L309.6,207.5 L312.0,208.7 L312.5,203.8 L317.5,205.0 L323.8,204.4 L327.5,203.1 L330.0,201.9 L335.0,202.8 L338.8,203.8 L338.8,200.0 L339.4,196.0 L343.8,194.8 L345.6,193.1 L345.0,200.0 L346.9,205.0 L344.4,208.8 L346.2,210.0 L349.4,206.2 L348.8,200.0 L348.1,196.9 L352.5,195.0 L356.2,193.1 L361.2,191.9 L364.4,190.0 L365.0,187.5 L371.2,186.2 L377.5,184.4 L382.5,181.9 L386.2,182.2 L390.0,183.8 L395.0,184.4 L397.5,186.2 L395.0,188.8 L390.0,191.9 L387.5,193.8 L393.8,192.5 L400.0,192.5 L407.5,193.8 L412.5,192.5 L417.5,193.8 L420.0,197.5 L422.5,198.8 L427.5,197.2 L433.8,196.2 L438.8,195.0 L443.8,196.2 L447.5,198.1 L452.5,199.0 L458.8,199.8 L461.9,203.1 L467.9,203.1 L472.5,202.8 L476.2,201.9 L482.5,202.2 L487.5,204.4 L492.5,207.5 L496.9,209.4 L500.0,210.6 L496.9,213.8 L493.1,211.9 L490.0,211.2 L486.2,213.1 L483.8,215.0 L486.2,218.1 L481.2,219.4 L477.5,221.2 L473.8,223.1 L468.8,223.8 L468.1,223.1 L466.2,226.5 L465.0,230.2 L462.9,234.8 L459.8,238.5 L456.9,241.2 L455.1,238.1 L454.5,232.5 L456.9,227.8 L460.6,223.5 L464.4,219.8 L466.2,219.0 L462.5,220.0 L458.8,220.6 L455.0,222.5 L452.5,225.6 L447.5,225.0 L442.5,225.0 L437.5,225.6 L433.8,228.1 L430.6,231.2 L427.5,234.4 L429.4,236.2 L432.5,235.6 L434.4,238.1 L433.8,242.5 L431.9,247.5 L429.4,251.2 L426.2,254.4 L423.1,255.6 L419.7,257.2 L418.0,259.5 L417.4,261.8 L418.7,265.8 L417.5,269.0 L414.3,268.6 L413.8,264.6 L412.3,262.9 L411.7,261.2 L410.0,261.2 L408.2,262.3 L405.4,261.2 L402.5,263.5 L404.2,264.6 L406.5,264.1 L405.4,266.9 L404.2,268.6 L405.9,270.9 L407.7,273.2 L407.7,276.7 L406.5,280.1 L404.2,283.6 L400.8,286.4 L396.2,288.1 L392.2,289.9 L389.9,289.3 L388.1,288.1 L386.4,291.0 L388.1,293.9 L390.4,297.3 L391.0,300.8 L388.7,304.2 L385.9,305.9 L384.7,304.2 L383.0,303.1 L381.3,300.8 L380.1,298.5 L378.4,297.3 L377.6,299.6 L377.5,303.1 L379.0,305.9 L381.0,309.4 L382.6,312.3 L383.9,315.7 L383.2,316.6 L382.1,316.3 L380.1,313.4 L378.1,309.4 L376.7,304.2 L375.8,299.6 L374.9,296.2 L373.2,295.6 L372.1,292.8 L370.4,289.9 L368.6,287.6 L366.9,286.4 L365.8,284.1 L364.1,283.0 L362.9,286.4 L360.6,290.4 L357.7,293.9 L354.9,297.3 L353.1,301.9 L352.0,306.5 L350.3,307.1 L348.6,303.1 L346.8,297.3 L345.1,291.6 L344.0,288.1 L342.2,288.7 L340.5,286.4 L338.8,284.7 L337.1,283.0 L333.1,282.4 L329.6,281.8 L326.2,281.3 L335.0,283.1 L330.0,282.5 L325.0,281.9 L321.2,281.2 L317.5,280.0 L314.4,276.9 L311.9,274.4 L310.0,275.0 L310.0,276.9 L313.1,280.0 L315.6,283.1 L316.9,286.2 L317.8,284.4 L318.8,286.2 L320.6,285.6 L321.9,282.8 L323.1,284.4 L326.5,287.5 L323.1,291.9 L318.8,295.0 L316.2,296.9 L310.0,299.4 L305.2,300.2 L303.8,297.5 L302.5,292.5 L299.4,286.9 L296.2,281.2 L294.0,277.5 L292.8,276.5 L291.9,275.0 L293.1,271.2 L294.4,267.5 L296.2,265.6 L291.2,265.6 L286.2,265.0 L283.8,263.1 L283.1,261.2 L283.1,259.4 L283.8,257.5 L283.8,259.0 L282.5,257.8 L280.0,259.4 L278.8,261.9 L277.5,264.4 L275.6,262.5 L274.8,260.6 L273.1,258.1 L270.0,255.0 L268.1,252.5 L266.0,250.6 L263.8,250.2 L264.4,252.5 L266.5,255.0 L269.0,257.5 L271.5,260.2 L270.0,261.0 L270.2,262.8 L268.8,261.9 L266.9,259.4 L264.4,256.9 L262.2,254.0 L260.0,252.8 L256.2,253.8 L252.8,255.2 L251.2,256.5 L249.0,259.0 L247.8,262.2 L244.4,264.4 L240.6,265.0 L238.8,264.8ZM284.0,252.6 L284.9,250.8 L285.7,249.4 L287.1,249.1 L289.4,249.1 L291.2,249.8 L291.6,251.7 L293.2,252.1 L292.9,250.6 L293.3,249.8 L295.5,249.3 L297.2,248.3 L298.6,249.1 L298.6,251.4 L300.9,253.2 L303.8,255.2 L305.5,257.2 L306.2,259.0 L304.4,258.9 L300.9,258.3 L296.3,257.4 L291.7,256.9 L287.7,257.4 L284.9,259.2 L283.1,258.9 L282.7,257.2 L283.2,254.9ZM311.0,251.5 L312.9,249.6 L316.1,248.8 L318.8,249.6 L319.2,251.5 L316.8,252.7 L315.7,254.6 L316.8,257.0 L318.4,259.3 L319.2,262.5 L318.8,264.8 L316.8,265.6 L314.9,264.8 L313.7,262.5 L313.3,259.3 L312.5,257.0 L311.3,254.6 L310.2,252.7Z"/>
<path clip-rule="evenodd" d="M266.9,263.1 L270.0,262.8 L269.8,264.4 L267.5,264.0Z"/>
<path clip-rule="evenodd" d="M259.8,257.5 L261.0,257.5 L261.0,260.2 L259.8,260.2Z"/>
<path clip-rule="evenodd" d="M260.2,255.0 L261.0,255.0 L261.0,256.9 L260.2,256.9Z"/>
<path clip-rule="evenodd" d="M279.4,265.6 L281.9,265.8 L281.9,266.4 L279.4,266.2Z"/>
<path clip-rule="evenodd" d="M287.5,267.5 L290.0,266.9 L290.0,268.1 L287.8,268.2Z"/>
<path clip-rule="evenodd" d="M370.6,172.5 L373.8,170.0 L376.2,171.9 L377.5,175.0 L373.8,175.0Z"/>
<path clip-rule="evenodd" d="M380.0,178.1 L383.1,175.6 L386.2,177.5 L382.5,180.0Z"/>
<path clip-rule="evenodd" d="M430.0,186.9 L433.1,185.6 L437.5,186.0 L439.4,187.5 L435.6,188.5 L431.2,188.8Z"/>
<path clip-rule="evenodd" d="M442.5,187.8 L447.5,188.1 L446.9,189.0Z"/>
<path clip-rule="evenodd" d="M486.2,198.5 L489.4,198.1 L489.8,199.4 L486.9,199.8Z"/>
<path clip-rule="evenodd" d="M436.3,236.5 L436.0,240.0 L436.7,245.0 L437.4,250.6 L439.2,247.5 L438.3,242.5 L437.7,237.4Z"/>
<path clip-rule="evenodd" d="M434.8,253.0 L435.5,257.1 L437.6,256.4 L441.0,254.4 L437.5,252.3Z"/>
<path clip-rule="evenodd" d="M433.4,258.2 L431.8,262.1 L429.6,264.6 L425.9,266.6 L421.4,268.8 L419.1,272.8 L420.6,274.6 L422.4,272.4 L425.1,271.2 L429.8,269.8 L433.9,267.6 L435.8,264.1 L436.2,259.6Z"/>
<path clip-rule="evenodd" d="M406.5,284.1 L407.9,283.6 L407.7,286.4 L406.5,287.0Z"/>
<path clip-rule="evenodd" d="M391.0,291.0 L392.8,290.4 L393.0,292.2 L391.4,292.8Z"/>
<path clip-rule="evenodd" d="M353.5,305.4 L354.9,305.9 L355.4,308.8 L354.3,310.2 L353.5,308.2Z"/>
<path clip-rule="evenodd" d="M405.7,293.7 L405.7,297.4 L407.5,299.8 L409.2,302.1 L411.1,304.0 L412.5,303.2 L411.9,300.1 L409.6,298.3 L408.5,296.1 L407.9,293.0Z"/>
<path clip-rule="evenodd" d="M408.0,302.7 L408.0,305.8 L410.7,306.9 L411.4,304.1Z"/>
<path clip-rule="evenodd" d="M409.0,308.2 L410.4,309.6 L412.9,310.9 L414.6,308.9 L414.2,305.6 L411.6,306.9Z"/>
<path clip-rule="evenodd" d="M372.3,311.3 L373.8,314.1 L376.1,317.6 L379.6,322.2 L383.1,325.7 L386.3,326.4 L387.0,323.1 L384.0,319.5 L380.0,316.1 L375.9,312.0Z"/>
<path clip-rule="evenodd" d="M386.3,327.1 L386.8,328.8 L389.5,329.7 L394.1,330.9 L398.3,331.5 L399.1,330.3 L395.3,329.0 L390.7,327.9Z"/>
<path clip-rule="evenodd" d="M400.4,330.6 L403.3,330.6 L403.1,331.5 L400.8,331.5Z"/>
<path clip-rule="evenodd" d="M405.6,331.5 L407.9,331.8 L407.7,332.5Z"/>
<path clip-rule="evenodd" d="M410.2,331.8 L413.6,330.9 L413.9,331.5 L410.8,332.7Z"/>
<path clip-rule="evenodd" d="M390.4,317.3 L391.1,319.8 L392.8,322.2 L395.8,323.7 L399.4,323.9 L401.2,321.6 L403.5,318.0 L402.9,314.6 L403.5,311.0 L400.4,310.0 L398.0,313.3 L394.0,315.5Z"/>
<path clip-rule="evenodd" d="M404.8,320.2 L404.2,323.8 L405.6,326.0 L406.8,323.7 L407.9,325.3 L409.3,323.2 L407.6,320.8 L408.1,319.4 L411.5,318.8 L410.9,317.5 L406.0,317.8Z"/>
<path clip-rule="evenodd" d="M415.4,316.9 L417.1,317.8 L416.5,319.1 L415.4,318.6Z"/>
<path clip-rule="evenodd" d="M420.8,319.4 L421.2,321.5 L422.1,323.4 L425.0,324.5 L427.3,326.2 L430.5,328.4 L429.3,330.2 L433.7,331.4 L436.6,332.0 L439.4,330.9 L442.2,332.6 L446.4,333.6 L443.7,331.0 L441.4,328.2 L438.5,325.3 L434.4,322.9 L430.3,321.2 L427.4,321.8 L424.7,321.8 L424.2,320.1Z"/>
<path clip-rule="evenodd" d="M134.5,287.2 L137.0,286.4 L140.4,287.6 L143.9,289.3 L147.1,290.2 L146.8,291.1 L143.3,290.7 L139.9,289.1 L136.8,288.1Z"/>
<path clip-rule="evenodd" d="M149.1,291.4 L151.9,291.0 L155.4,291.8 L154.8,293.2 L151.9,293.0 L149.4,292.8Z"/>
<path clip-rule="evenodd" d="M157.4,293.0 L158.8,293.0 L158.8,293.7 L157.4,293.7Z"/>
<path clip-rule="evenodd" d="M142.8,293.1 L144.5,293.1 L144.5,293.8 L142.8,293.8Z"/>
<path clip-rule="evenodd" d="M307.0,170.5 L314.0,170.0 L318.0,171.0 L312.0,171.8Z"/>
<path clip-rule="evenodd" d="M325.0,170.2 L332.0,170.0 L331.0,171.5 L326.0,171.5Z"/></g>
</g>
<g id="mapbot" clip-path="url(#clipB)"><g transform="translate(-5.2,346.2) scale(1.089)">
<g fill="#E4E6E6" fill-rule="evenodd"><path clip-rule="evenodd" d="M58.5,202.2 L53.5,201.2 L47.2,200.0 L41.0,199.4 L37.2,199.0 L33.5,200.0 L29.8,201.9 L24.8,205.0 L27.9,206.9 L31.0,208.8 L31.6,210.6 L27.2,211.2 L23.2,211.9 L26.0,213.8 L30.4,215.0 L31.0,216.9 L27.9,218.1 L25.4,220.0 L24.8,223.1 L26.6,225.0 L29.8,225.6 L32.2,226.2 L34.8,227.5 L33.5,230.0 L29.1,233.1 L32.2,231.9 L36.6,228.8 L39.8,226.2 L42.9,223.1 L45.4,221.2 L48.5,221.9 L52.2,222.8 L57.9,223.5 L61.0,224.4 L66.0,226.2 L69.8,230.0 L72.9,233.8 L74.8,237.5 L77.2,241.2 L81.0,243.8 L83.5,245.6 L81.9,250.0 L81.5,255.0 L82.2,260.0 L84.4,264.4 L87.5,268.1 L90.0,270.6 L91.2,272.6 L92.8,277.8 L95.1,281.2 L98.0,284.1 L100.2,286.1 L99.1,283.6 L96.9,280.1 L95.1,276.6 L94.5,273.2 L96.0,273.6 L97.5,274.4 L100.0,278.8 L103.1,283.8 L106.2,288.8 L108.8,291.9 L113.8,294.4 L118.1,296.0 L122.5,296.9 L125.0,298.1 L128.1,298.8 L131.2,301.9 L133.8,304.4 L136.2,306.5 L137.8,308.1 L139.8,307.5 L141.9,308.1 L143.5,308.1 L143.1,306.5 L141.0,305.4 L138.5,306.2 L136.2,305.0 L134.4,303.1 L135.0,300.0 L134.4,297.5 L131.2,296.9 L127.5,296.9 L128.1,294.4 L130.0,291.2 L129.4,288.8 L126.2,289.4 L125.0,291.9 L121.9,293.1 L118.8,291.9 L116.9,288.8 L116.2,285.0 L115.6,281.2 L117.5,278.1 L121.2,276.5 L125.0,276.9 L128.1,275.6 L131.9,276.2 L135.0,275.8 L136.1,276.5 L136.8,279.4 L137.6,282.1 L138.8,282.9 L139.6,282.8 L140.1,281.2 L139.2,278.1 L137.8,275.0 L140.0,271.9 L143.1,267.5 L145.0,265.0 L144.4,262.5 L147.5,260.0 L150.0,256.9 L151.6,257.0 L152.9,255.1 L154.8,253.2 L156.8,252.4 L157.8,250.8 L159.8,251.1 L161.1,250.0 L160.1,248.4 L161.1,246.5 L159.8,244.9 L156.0,246.5 L153.5,248.4 L151.3,250.6 L153.5,247.6 L156.0,245.4 L158.5,243.9 L162.2,242.6 L166.0,241.9 L169.8,240.4 L172.6,238.2 L172.1,238.0 L168.2,234.8 L165.8,230.9 L162.7,226.2 L160.7,224.3 L159.6,227.0 L157.2,227.8 L154.8,226.2 L154.1,222.3 L150.9,220.0 L147.0,219.2 L143.5,219.2 L142.9,223.9 L144.8,228.6 L145.1,231.7 L142.5,234.1 L142.7,238.0 L140.7,241.1 L138.6,239.6 L137.2,234.8 L134.5,233.3 L129.8,230.9 L125.1,229.4 L122.7,227.0 L120.4,224.3 L121.5,220.0 L124.3,216.8 L127.4,215.3 L130.9,211.3 L132.9,209.8 L136.8,209.0 L137.6,205.1 L135.3,202.3 L132.5,203.5 L131.3,206.6 L129.0,209.8 L126.6,211.3 L125.9,208.2 L123.5,205.9 L122.7,201.2 L120.4,197.6 L118.4,199.6 L118.8,203.5 L116.8,205.1 L114.1,205.9 L110.2,206.6 L106.3,205.9 L103.1,206.6 L100.0,205.9 L97.5,206.2 L91.2,205.0 L85.0,203.1 L80.0,201.9 L76.0,200.6 L71.0,201.2 L66.0,203.1ZM123.8,248.4 L126.0,246.7 L128.5,245.2 L131.0,245.1 L132.9,246.7 L134.1,248.6 L133.2,249.8 L131.0,249.2 L128.5,248.9 L126.0,249.5 L124.4,249.2ZM129.4,252.0 L130.7,250.8 L131.9,251.4 L132.2,253.9 L131.6,256.7 L130.4,257.6 L129.2,256.1 L129.1,253.9ZM134.1,250.8 L136.6,250.1 L139.1,250.8 L140.7,252.6 L139.8,253.6 L137.9,253.2 L137.6,255.4 L136.0,256.1 L134.8,254.5 L135.1,252.6ZM135.1,257.3 L137.2,256.4 L139.8,255.4 L141.0,254.8 L140.7,256.1 L138.5,257.0 L136.3,258.1ZM141.9,253.6 L144.1,252.9 L146.0,252.6 L145.7,253.6 L143.5,254.4 L141.9,254.5ZM81.0,210.0 L86.0,208.8 L89.8,209.4 L86.0,211.9 L82.9,212.5ZM91.0,221.2 L96.0,218.8 L101.0,218.1 L96.0,221.9 L92.2,222.5ZM115.0,236.0 L116.5,235.6 L118.8,241.2 L117.5,241.9Z"/>
<path clip-rule="evenodd" d="M169.1,246.7 L170.7,244.2 L171.8,242.0 L173.0,244.5 L174.8,245.9 L176.6,248.1 L174.1,247.2 L171.3,247.1Z"/>
<path clip-rule="evenodd" d="M159.1,253.4 L161.0,252.0 L163.5,251.4 L166.0,249.5 L166.9,250.1 L164.1,252.1 L161.0,253.7 L159.4,254.0Z"/>
<path clip-rule="evenodd" d="M126.6,195.2 L126.4,195.4 L127.5,198.7 L131.1,200.5 L136.8,201.3 L140.6,201.3 L143.5,202.0 L146.4,204.2 L149.4,207.2 L150.5,209.4 L147.2,211.0 L150.4,215.3 L154.5,216.1 L157.9,218.7 L162.2,216.5 L160.9,212.6 L163.0,213.1 L166.4,209.2 L161.7,205.9 L157.1,202.1 L153.9,198.1 L149.1,194.9 L144.2,192.1 L136.8,190.8 L134.1,191.2 L132.4,191.2 L128.9,191.7 L126.3,194.2Z"/>
<path clip-rule="evenodd" d="M130.5,212.4 L131.1,215.6 L133.5,217.6 L138.1,217.1 L139.3,214.2 L134.6,211.4Z"/>
<path clip-rule="evenodd" d="M143.5,206.0 L144.0,208.2 L147.3,207.7 L147.3,205.5Z"/>
<path clip-rule="evenodd" d="M142.7,213.0 L143.3,214.8 L147.6,214.5 L148.2,212.6Z"/>
<path clip-rule="evenodd" d="M79.2,196.1 L80.1,197.9 L83.1,198.8 L86.4,197.1 L89.6,194.7 L92.3,191.1 L85.4,189.4 L81.2,190.3Z"/>
<path clip-rule="evenodd" d="M88.0,196.0 L91.3,198.5 L90.5,200.8 L93.0,204.2 L97.1,205.0 L101.9,205.8 L105.1,204.2 L109.1,204.2 L111.7,201.6 L110.0,199.0 L107.6,196.6 L106.0,192.6 L103.3,192.6 L101.7,194.1 L96.4,194.1 L91.6,193.3Z"/>
<path clip-rule="evenodd" d="M82.9,184.9 L83.6,186.3 L87.1,185.9 L91.2,183.8 L92.3,181.0 L86.8,182.3Z"/>
<path clip-rule="evenodd" d="M92.1,184.7 L91.6,187.6 L94.7,189.8 L99.6,189.0 L105.2,188.6 L106.4,186.3 L101.2,185.5 L96.4,183.9Z"/>
<path clip-rule="evenodd" d="M95.9,178.0 L96.4,181.6 L99.8,181.6 L100.8,178.0Z"/>
<path clip-rule="evenodd" d="M108.0,182.9 L110.2,186.1 L113.5,188.6 L116.8,188.2 L116.8,184.3 L112.9,183.9Z"/>
<path clip-rule="evenodd" d="M105.4,175.7 L106.7,177.6 L109.6,178.8 L113.8,180.1 L115.0,178.3 L109.8,175.7Z"/>
<path clip-rule="evenodd" d="M115.8,177.1 L116.4,179.6 L119.9,180.1 L119.9,178.1Z"/>
<path clip-rule="evenodd" d="M118.3,173.3 L121.2,175.9 L123.7,178.7 L127.6,179.1 L129.7,181.2 L127.9,183.8 L134.0,183.8 L138.6,184.6 L138.6,184.6 L145.2,183.0 L149.0,179.2 L152.7,175.8 L156.5,172.7 L164.4,164.8 L155.0,163.5 L157.5,163.3 L157.5,162.8 L144.9,163.2 L137.1,164.4 L130.7,166.0 L126.8,168.3 L122.1,169.5Z"/>
<path clip-rule="evenodd" d="M122.4,184.0 L124.3,188.5 L127.6,189.4 L134.0,189.8 L140.7,189.0 L140.7,186.6 L134.0,186.6 L128.0,186.3 L126.4,183.5Z"/>
<path clip-rule="evenodd" d="M110.3,193.6 L112.6,196.8 L116.2,197.3 L118.0,194.6 L117.0,190.9 L112.7,191.8Z"/>
<path clip-rule="evenodd" d="M119.0,191.8 L119.5,195.4 L121.1,197.6 L122.5,194.8 L124.9,194.0 L125.9,190.9Z"/>
<path clip-rule="evenodd" d="M131.3,211.9 L133.8,216.9 L138.9,215.4 L134.9,212.9Z"/>
<path clip-rule="evenodd" d="M151.5,179.4 L157.8,173.8 L164.0,168.8 L171.5,166.2 L180.2,165.6 L186.5,163.1 L197.8,161.9 L209.0,161.9 L217.8,164.4 L214.0,167.5 L221.5,169.4 L230.2,168.5 L225.2,171.2 L221.5,174.4 L219.0,178.8 L222.1,182.5 L219.6,187.5 L219.0,191.9 L215.2,195.0 L216.5,199.4 L212.1,202.5 L206.5,205.0 L200.2,208.1 L195.2,211.2 L192.1,215.0 L190.9,220.0 L189.0,223.8 L185.2,222.5 L181.5,219.4 L178.4,213.8 L176.8,208.8 L179.6,205.0 L176.5,201.9 L174.6,197.5 L174.0,192.5 L170.9,187.5 L166.5,184.4 L160.2,184.4 L155.2,182.5Z"/>
<path clip-rule="evenodd" d="M216.5,211.2 L220.2,211.9 L224.0,210.6 L228.4,211.2 L229.0,213.1 L225.2,215.6 L222.1,216.2 L219.0,214.4Z"/>
<path clip-rule="evenodd" d="M263.1,175.6 L267.5,174.8 L272.5,175.0 L276.2,176.9 L278.5,180.6 L275.6,180.0 L273.1,178.8 L271.2,181.0 L269.4,183.1 L267.2,180.2 L265.2,177.8Z"/>
<path clip-rule="evenodd" d="M275.0,173.8 L283.1,173.4 L280.6,175.6 L276.9,176.0Z"/>
<path clip-rule="evenodd" d="M262.9,232.6 L264.3,232.4 L264.3,233.7 L263.1,233.8Z"/>
<path clip-rule="evenodd" d="M316.9,196.9 L318.8,193.1 L321.9,188.8 L327.5,185.0 L333.8,183.1 L339.4,182.5 L340.0,184.4 L335.0,186.2 L330.0,188.1 L326.2,191.2 L324.4,195.0 L322.5,198.5 L319.4,199.0Z"/>
<path clip-rule="evenodd" d="M240.5,228.1 L241.1,231.3 L242.9,233.1 L241.7,235.6 L243.0,238.1 L241.6,241.5 L244.4,240.8 L248.2,240.8 L250.2,238.8 L248.2,236.8 L246.4,233.7 L243.9,231.2 L244.5,228.7 L242.5,226.7Z"/>
<path clip-rule="evenodd" d="M234.9,236.2 L234.6,238.8 L236.9,239.9 L239.5,238.2 L240.2,235.6 L238.1,234.2Z"/>
<path clip-rule="evenodd" d="M143.8,307.9 L146.2,304.1 L150.0,302.2 L152.5,302.9 L155.0,305.4 L158.8,304.8 L162.5,305.4 L165.0,307.2 L168.1,307.9 L171.9,310.4 L175.0,311.6 L178.1,312.9 L180.0,316.6 L182.5,319.1 L187.5,321.0 L192.5,322.9 L197.5,325.4 L200.6,328.5 L199.4,332.9 L196.2,337.2 L193.8,343.5 L192.5,348.5 L189.4,351.0 L186.2,352.9 L182.5,356.0 L180.0,359.8 L176.9,364.1 L175.0,367.9 L171.9,369.8 L169.4,369.1 L170.0,372.2 L168.1,375.4 L163.8,376.6 L161.9,380.4 L160.0,382.9 L158.1,387.2 L158.8,391.0 L155.6,394.8 L155.0,398.5 L155.6,402.2 L153.1,403.5 L150.6,401.0 L148.1,396.0 L146.9,391.0 L148.1,386.0 L148.8,379.8 L149.4,373.5 L150.6,367.2 L151.9,361.0 L153.1,354.8 L153.8,348.5 L153.8,344.8 L150.0,341.0 L146.2,336.0 L142.5,329.8 L140.0,325.4 L139.4,321.0 L141.2,317.2 L143.1,313.5 L143.8,309.8Z"/>
<path clip-rule="evenodd" d="M239.4,266.2 L246.2,265.6 L252.5,264.8 L258.8,264.4 L261.2,265.6 L261.9,269.4 L265.0,271.2 L270.0,273.1 L275.0,272.5 L280.0,273.1 L285.0,273.8 L290.0,273.8 L291.9,275.0 L292.5,276.9 L295.0,283.8 L297.5,290.0 L300.6,295.6 L303.1,300.0 L305.0,302.5 L308.8,303.1 L314.4,302.5 L312.5,307.5 L308.8,313.8 L305.0,318.8 L301.9,323.1 L299.4,325.0 L298.8,330.0 L300.6,334.4 L301.2,338.8 L298.8,341.2 L295.0,343.1 L292.5,345.6 L294.4,348.1 L293.8,351.9 L290.0,353.8 L290.6,356.2 L288.1,360.0 L285.0,363.8 L281.2,366.2 L277.5,367.2 L273.8,368.1 L272.5,366.9 L271.2,362.5 L269.4,358.1 L267.5,352.5 L265.6,346.2 L263.8,341.2 L265.0,336.9 L266.2,332.5 L265.6,327.5 L263.8,323.8 L260.6,318.8 L260.0,313.8 L260.6,312.5 L257.5,310.6 L252.5,309.8 L247.5,310.0 L242.5,311.2 L236.9,311.2 L233.1,308.1 L230.0,303.8 L226.9,300.6 L225.2,297.5 L225.6,293.1 L226.0,288.8 L227.5,283.8 L230.0,279.4 L233.1,275.0 L235.6,270.6Z"/>
<path clip-rule="evenodd" d="M312.3,335.5 L309.4,338.5 L305.9,340.9 L305.4,343.2 L304.2,347.8 L304.0,351.9 L306.0,354.3 L308.5,353.1 L310.2,349.0 L311.4,344.4 L313.1,339.8Z"/>
<path clip-rule="evenodd" d="M397.5,352.5 L398.8,350.0 L405.0,347.5 L409.4,343.8 L413.1,340.0 L416.2,338.8 L419.4,340.0 L420.6,336.9 L423.8,335.6 L427.5,336.2 L428.1,339.4 L431.2,342.5 L434.4,343.8 L435.6,337.5 L436.5,334.4 L438.1,338.8 L440.0,340.6 L441.2,345.0 L444.4,348.1 L447.5,351.9 L450.0,355.6 L451.0,360.0 L450.0,365.0 L448.1,369.4 L445.0,373.1 L441.2,375.0 L437.5,374.4 L433.8,372.5 L431.9,368.8 L430.0,366.2 L428.8,368.8 L426.9,367.5 L424.4,364.4 L420.0,363.8 L415.0,365.0 L410.0,366.2 L405.0,368.1 L401.2,368.8 L400.0,366.2 L400.6,362.5 L399.4,358.8 L398.1,355.6Z"/>
<path clip-rule="evenodd" d="M439.8,379.0 L443.8,378.8 L443.1,381.9 L441.2,382.8Z"/>
<path clip-rule="evenodd" d="M477.8,368.7 L479.2,375.0 L479.9,377.6 L481.5,379.6 L483.2,377.0 L485.0,374.3 L481.3,373.6 L479.5,371.8 L477.9,368.7Z"/>
<path clip-rule="evenodd" d="M479.0,379.3 L476.8,378.8 L474.9,380.5 L471.8,383.6 L468.8,386.9 L471.3,388.3 L474.5,386.4 L477.0,382.6Z"/>
<path clip-rule="evenodd" d="M235.6,263.8 L236.0,259.4 L236.2,256.2 L241.2,255.4 L246.9,255.0 L247.2,251.2 L246.2,248.1 L242.5,246.0 L245.6,244.8 L248.8,243.5 L251.2,242.5 L253.5,240.6 L256.0,238.1 L258.1,236.0 L259.0,235.0 L259.0,235.0 L259.4,232.6 L259.4,230.3 L261.4,229.5 L262.2,232.2 L261.8,234.2 L262.9,234.6 L264.9,235.1 L268.0,235.7 L271.2,235.1 L275.9,235.3 L277.8,234.6 L276.7,233.4 L276.3,231.0 L277.1,229.1 L279.8,229.6 L280.2,227.9 L278.6,227.1 L279.0,225.4 L282.1,224.6 L284.9,224.6 L286.9,222.8 L286.1,221.5 L283.7,222.0 L280.6,222.4 L277.1,222.2 L276.3,220.1 L276.8,217.7 L278.2,215.8 L280.2,213.8 L281.0,211.4 L279.2,210.9 L277.1,213.4 L275.1,215.8 L272.7,218.1 L270.8,220.2 L271.2,222.2 L272.5,224.8 L270.4,227.3 L269.0,230.3 L266.5,232.0 L265.1,230.4 L264.0,227.5 L263.3,225.2 L260.2,226.3 L257.1,227.3 L255.5,224.0 L255.1,220.9 L257.9,218.5 L262.6,215.4 L264.9,211.8 L267.3,208.3 L269.6,205.2 L272.7,202.4 L277.4,200.9 L281.4,199.3 L286.1,199.7 L288.4,201.1 L293.1,202.8 L297.8,204.4 L301.7,206.8 L300.9,209.5 L297.8,209.9 L293.9,208.7 L291.2,208.2 L293.9,211.8 L297.0,214.4 L299.4,213.5 L301.3,213.8 L302.9,211.8 L305.6,209.9 L307.2,206.0 L309.2,205.2 L309.6,207.5 L312.0,208.7 L312.5,203.8 L317.5,205.0 L323.8,204.4 L327.5,203.1 L330.0,201.9 L335.0,202.8 L338.8,203.8 L338.8,200.0 L339.4,196.0 L343.8,194.8 L345.6,193.1 L345.0,200.0 L346.9,205.0 L344.4,208.8 L346.2,210.0 L349.4,206.2 L348.8,200.0 L348.1,196.9 L352.5,195.0 L356.2,193.1 L361.2,191.9 L364.4,190.0 L365.0,187.5 L371.2,186.2 L377.5,184.4 L382.5,181.9 L386.2,182.2 L390.0,183.8 L395.0,184.4 L397.5,186.2 L395.0,188.8 L390.0,191.9 L387.5,193.8 L393.8,192.5 L400.0,192.5 L407.5,193.8 L412.5,192.5 L417.5,193.8 L420.0,197.5 L422.5,198.8 L427.5,197.2 L433.8,196.2 L438.8,195.0 L443.8,196.2 L447.5,198.1 L452.5,199.0 L458.8,199.8 L461.9,203.1 L467.9,203.1 L472.5,202.8 L476.2,201.9 L482.5,202.2 L487.5,204.4 L492.5,207.5 L496.9,209.4 L500.0,210.6 L496.9,213.8 L493.1,211.9 L490.0,211.2 L486.2,213.1 L483.8,215.0 L486.2,218.1 L481.2,219.4 L477.5,221.2 L473.8,223.1 L468.8,223.8 L468.1,223.1 L466.2,226.5 L465.0,230.2 L462.9,234.8 L459.8,238.5 L456.9,241.2 L455.1,238.1 L454.5,232.5 L456.9,227.8 L460.6,223.5 L464.4,219.8 L466.2,219.0 L462.5,220.0 L458.8,220.6 L455.0,222.5 L452.5,225.6 L447.5,225.0 L442.5,225.0 L437.5,225.6 L433.8,228.1 L430.6,231.2 L427.5,234.4 L429.4,236.2 L432.5,235.6 L434.4,238.1 L433.8,242.5 L431.9,247.5 L429.4,251.2 L426.2,254.4 L423.1,255.6 L419.7,257.2 L418.0,259.5 L417.4,261.8 L418.7,265.8 L417.5,269.0 L414.3,268.6 L413.8,264.6 L412.3,262.9 L411.7,261.2 L410.0,261.2 L408.2,262.3 L405.4,261.2 L402.5,263.5 L404.2,264.6 L406.5,264.1 L405.4,266.9 L404.2,268.6 L405.9,270.9 L407.7,273.2 L407.7,276.7 L406.5,280.1 L404.2,283.6 L400.8,286.4 L396.2,288.1 L392.2,289.9 L389.9,289.3 L388.1,288.1 L386.4,291.0 L388.1,293.9 L390.4,297.3 L391.0,300.8 L388.7,304.2 L385.9,305.9 L384.7,304.2 L383.0,303.1 L381.3,300.8 L380.1,298.5 L378.4,297.3 L377.6,299.6 L377.5,303.1 L379.0,305.9 L381.0,309.4 L382.6,312.3 L383.9,315.7 L383.2,316.6 L382.1,316.3 L380.1,313.4 L378.1,309.4 L376.7,304.2 L375.8,299.6 L374.9,296.2 L373.2,295.6 L372.1,292.8 L370.4,289.9 L368.6,287.6 L366.9,286.4 L365.8,284.1 L364.1,283.0 L362.9,286.4 L360.6,290.4 L357.7,293.9 L354.9,297.3 L353.1,301.9 L352.0,306.5 L350.3,307.1 L348.6,303.1 L346.8,297.3 L345.1,291.6 L344.0,288.1 L342.2,288.7 L340.5,286.4 L338.8,284.7 L337.1,283.0 L333.1,282.4 L329.6,281.8 L326.2,281.3 L335.0,283.1 L330.0,282.5 L325.0,281.9 L321.2,281.2 L317.5,280.0 L314.4,276.9 L311.9,274.4 L310.0,275.0 L310.0,276.9 L313.1,280.0 L315.6,283.1 L316.9,286.2 L317.8,284.4 L318.8,286.2 L320.6,285.6 L321.9,282.8 L323.1,284.4 L326.5,287.5 L323.1,291.9 L318.8,295.0 L316.2,296.9 L310.0,299.4 L305.2,300.2 L303.8,297.5 L302.5,292.5 L299.4,286.9 L296.2,281.2 L294.0,277.5 L292.8,276.5 L291.9,275.0 L293.1,271.2 L294.4,267.5 L296.2,265.6 L291.2,265.6 L286.2,265.0 L283.8,263.1 L283.1,261.2 L283.1,259.4 L283.8,257.5 L283.8,259.0 L282.5,257.8 L280.0,259.4 L278.8,261.9 L277.5,264.4 L275.6,262.5 L274.8,260.6 L273.1,258.1 L270.0,255.0 L268.1,252.5 L266.0,250.6 L263.8,250.2 L264.4,252.5 L266.5,255.0 L269.0,257.5 L271.5,260.2 L270.0,261.0 L270.2,262.8 L268.8,261.9 L266.9,259.4 L264.4,256.9 L262.2,254.0 L260.0,252.8 L256.2,253.8 L252.8,255.2 L251.2,256.5 L249.0,259.0 L247.8,262.2 L244.4,264.4 L240.6,265.0 L238.8,264.8ZM284.0,252.6 L284.9,250.8 L285.7,249.4 L287.1,249.1 L289.4,249.1 L291.2,249.8 L291.6,251.7 L293.2,252.1 L292.9,250.6 L293.3,249.8 L295.5,249.3 L297.2,248.3 L298.6,249.1 L298.6,251.4 L300.9,253.2 L303.8,255.2 L305.5,257.2 L306.2,259.0 L304.4,258.9 L300.9,258.3 L296.3,257.4 L291.7,256.9 L287.7,257.4 L284.9,259.2 L283.1,258.9 L282.7,257.2 L283.2,254.9ZM311.0,251.5 L312.9,249.6 L316.1,248.8 L318.8,249.6 L319.2,251.5 L316.8,252.7 L315.7,254.6 L316.8,257.0 L318.4,259.3 L319.2,262.5 L318.8,264.8 L316.8,265.6 L314.9,264.8 L313.7,262.5 L313.3,259.3 L312.5,257.0 L311.3,254.6 L310.2,252.7Z"/>
<path clip-rule="evenodd" d="M266.9,263.1 L270.0,262.8 L269.8,264.4 L267.5,264.0Z"/>
<path clip-rule="evenodd" d="M259.8,257.5 L261.0,257.5 L261.0,260.2 L259.8,260.2Z"/>
<path clip-rule="evenodd" d="M260.2,255.0 L261.0,255.0 L261.0,256.9 L260.2,256.9Z"/>
<path clip-rule="evenodd" d="M279.4,265.6 L281.9,265.8 L281.9,266.4 L279.4,266.2Z"/>
<path clip-rule="evenodd" d="M287.5,267.5 L290.0,266.9 L290.0,268.1 L287.8,268.2Z"/>
<path clip-rule="evenodd" d="M370.6,172.5 L373.8,170.0 L376.2,171.9 L377.5,175.0 L373.8,175.0Z"/>
<path clip-rule="evenodd" d="M380.0,178.1 L383.1,175.6 L386.2,177.5 L382.5,180.0Z"/>
<path clip-rule="evenodd" d="M430.0,186.9 L433.1,185.6 L437.5,186.0 L439.4,187.5 L435.6,188.5 L431.2,188.8Z"/>
<path clip-rule="evenodd" d="M442.5,187.8 L447.5,188.1 L446.9,189.0Z"/>
<path clip-rule="evenodd" d="M486.2,198.5 L489.4,198.1 L489.8,199.4 L486.9,199.8Z"/>
<path clip-rule="evenodd" d="M436.3,236.5 L436.0,240.0 L436.7,245.0 L437.4,250.6 L439.2,247.5 L438.3,242.5 L437.7,237.4Z"/>
<path clip-rule="evenodd" d="M434.8,253.0 L435.5,257.1 L437.6,256.4 L441.0,254.4 L437.5,252.3Z"/>
<path clip-rule="evenodd" d="M433.4,258.2 L431.8,262.1 L429.6,264.6 L425.9,266.6 L421.4,268.8 L419.1,272.8 L420.6,274.6 L422.4,272.4 L425.1,271.2 L429.8,269.8 L433.9,267.6 L435.8,264.1 L436.2,259.6Z"/>
<path clip-rule="evenodd" d="M406.5,284.1 L407.9,283.6 L407.7,286.4 L406.5,287.0Z"/>
<path clip-rule="evenodd" d="M391.0,291.0 L392.8,290.4 L393.0,292.2 L391.4,292.8Z"/>
<path clip-rule="evenodd" d="M353.5,305.4 L354.9,305.9 L355.4,308.8 L354.3,310.2 L353.5,308.2Z"/>
<path clip-rule="evenodd" d="M405.7,293.7 L405.7,297.4 L407.5,299.8 L409.2,302.1 L411.1,304.0 L412.5,303.2 L411.9,300.1 L409.6,298.3 L408.5,296.1 L407.9,293.0Z"/>
<path clip-rule="evenodd" d="M408.0,302.7 L408.0,305.8 L410.7,306.9 L411.4,304.1Z"/>
<path clip-rule="evenodd" d="M409.0,308.2 L410.4,309.6 L412.9,310.9 L414.6,308.9 L414.2,305.6 L411.6,306.9Z"/>
<path clip-rule="evenodd" d="M372.3,311.3 L373.8,314.1 L376.1,317.6 L379.6,322.2 L383.1,325.7 L386.3,326.4 L387.0,323.1 L384.0,319.5 L380.0,316.1 L375.9,312.0Z"/>
<path clip-rule="evenodd" d="M386.3,327.1 L386.8,328.8 L389.5,329.7 L394.1,330.9 L398.3,331.5 L399.1,330.3 L395.3,329.0 L390.7,327.9Z"/>
<path clip-rule="evenodd" d="M400.4,330.6 L403.3,330.6 L403.1,331.5 L400.8,331.5Z"/>
<path clip-rule="evenodd" d="M405.6,331.5 L407.9,331.8 L407.7,332.5Z"/>
<path clip-rule="evenodd" d="M410.2,331.8 L413.6,330.9 L413.9,331.5 L410.8,332.7Z"/>
<path clip-rule="evenodd" d="M390.4,317.3 L391.1,319.8 L392.8,322.2 L395.8,323.7 L399.4,323.9 L401.2,321.6 L403.5,318.0 L402.9,314.6 L403.5,311.0 L400.4,310.0 L398.0,313.3 L394.0,315.5Z"/>
<path clip-rule="evenodd" d="M404.8,320.2 L404.2,323.8 L405.6,326.0 L406.8,323.7 L407.9,325.3 L409.3,323.2 L407.6,320.8 L408.1,319.4 L411.5,318.8 L410.9,317.5 L406.0,317.8Z"/>
<path clip-rule="evenodd" d="M415.4,316.9 L417.1,317.8 L416.5,319.1 L415.4,318.6Z"/>
<path clip-rule="evenodd" d="M420.8,319.4 L421.2,321.5 L422.1,323.4 L425.0,324.5 L427.3,326.2 L430.5,328.4 L429.3,330.2 L433.7,331.4 L436.6,332.0 L439.4,330.9 L442.2,332.6 L446.4,333.6 L443.7,331.0 L441.4,328.2 L438.5,325.3 L434.4,322.9 L430.3,321.2 L427.4,321.8 L424.7,321.8 L424.2,320.1Z"/>
<path clip-rule="evenodd" d="M134.5,287.2 L137.0,286.4 L140.4,287.6 L143.9,289.3 L147.1,290.2 L146.8,291.1 L143.3,290.7 L139.9,289.1 L136.8,288.1Z"/>
<path clip-rule="evenodd" d="M149.1,291.4 L151.9,291.0 L155.4,291.8 L154.8,293.2 L151.9,293.0 L149.4,292.8Z"/>
<path clip-rule="evenodd" d="M157.4,293.0 L158.8,293.0 L158.8,293.7 L157.4,293.7Z"/>
<path clip-rule="evenodd" d="M142.8,293.1 L144.5,293.1 L144.5,293.8 L142.8,293.8Z"/>
<path clip-rule="evenodd" d="M307.0,170.5 L314.0,170.0 L318.0,171.0 L312.0,171.8Z"/>
<path clip-rule="evenodd" d="M325.0,170.2 L332.0,170.0 L331.0,171.5 L326.0,171.5Z"/></g>
<g clip-path="url(#land)"><g fill="#05A377">
<path d="M60.0,272.6 L85.0,272.6 L91.2,272.6 L97.5,273.8 L102.5,273.5 L105.0,275.0 L108.1,277.2 L110.6,276.5 L113.1,278.8 L115.6,281.2 L118.8,283.1 L125.0,284.2 L215.0,284.2 L215.0,420.0 L60.0,420.0Z"/>
<path d="M239.4,266.2 L246.2,265.6 L252.5,264.8 L258.8,264.4 L261.2,265.6 L261.9,269.4 L265.0,271.2 L270.0,273.1 L275.0,272.5 L280.0,273.1 L285.0,273.8 L290.0,273.8 L291.9,275.0 L292.5,276.9 L295.0,283.8 L297.5,290.0 L300.6,295.6 L303.1,300.0 L305.0,302.5 L308.8,303.1 L314.4,302.5 L312.5,307.5 L308.8,313.8 L305.0,318.8 L301.9,323.1 L299.4,325.0 L298.8,330.0 L300.6,334.4 L301.2,338.8 L298.8,341.2 L295.0,343.1 L292.5,345.6 L294.4,348.1 L293.8,351.9 L290.0,353.8 L290.6,356.2 L288.1,360.0 L285.0,363.8 L281.2,366.2 L277.5,367.2 L273.8,368.1 L272.5,366.9 L271.2,362.5 L269.4,358.1 L267.5,352.5 L265.6,346.2 L263.8,341.2 L265.0,336.9 L266.2,332.5 L265.6,327.5 L263.8,323.8 L260.6,318.8 L260.0,313.8 L260.6,312.5 L257.5,310.6 L252.5,309.8 L247.5,310.0 L242.5,311.2 L236.9,311.2 L233.1,308.1 L230.0,303.8 L226.9,300.6 L225.2,297.5 L225.6,293.1 L226.0,288.8 L227.5,283.8 L230.0,279.4 L233.1,275.0 L235.6,270.6Z"/>
<path d="M312.2,335.8 L313.0,339.8 L311.2,344.4 L310.1,349.0 L308.4,353.0 L306.1,354.2 L304.1,351.9 L304.4,347.8 L305.5,343.2 L306.1,341.0 L309.5,338.7Z"/>
<path d="M285.1,250.7 L284.7,248.0 L283.1,246.0 L281.4,246.0 L279.1,246.5 L277.4,245.7 L278.5,243.4 L279.1,240.5 L278.8,238.2 L280.8,235.9 L283.7,232.5 L287.1,232.5 L289.4,236.2 L288.6,238.5 L288.9,239.4 L291.7,239.9 L294.0,242.2 L296.9,243.4 L299.5,244.5 L299.5,246.3 L297.5,247.4 L297.2,248.3 L296.3,249.7 L294.0,250.6 L294.0,253.2 L290.6,253.2 L289.4,250.6 L286.0,251.4Z"/>
<path d="M272.9,250.9 L275.1,250.2 L276.1,253.8 L275.5,258.9 L273.6,259.7 L272.6,255.3Z"/>
<path d="M304.4,294.0 L308.8,293.8 L312.5,292.5 L316.9,292.5 L319.0,295.4 L317.5,298.1 L310.0,300.6 L305.0,301.5 L303.1,298.1 L302.5,293.8Z"/>
<path d="M311.3,250.7 L312.1,248.8 L309.8,246.4 L310.2,244.5 L312.5,242.3 L314.5,240.9 L318.0,240.4 L322.3,241.3 L326.0,241.0 L329.4,240.5 L329.8,237.4 L332.0,236.0 L336.4,235.1 L341.1,233.5 L345.0,234.8 L349.0,235.8 L353.0,238.3 L356.8,240.9 L357.5,241.2 L362.5,243.1 L367.5,242.5 L372.5,241.2 L377.5,240.0 L381.2,241.9 L386.2,241.9 L390.0,243.1 L395.0,244.4 L400.0,243.1 L405.0,241.9 L407.5,237.5 L411.2,236.9 L415.0,238.8 L418.8,243.8 L422.5,246.2 L426.2,248.8 L425.0,252.5 L421.9,253.8 L419.7,255.4 L416.9,256.6 L413.4,258.9 L410.5,260.6 L408.2,262.3 L406.5,262.9 L409.0,263.8 L409.4,269.8 L410.0,279.0 L409.7,284.7 L415.7,292.8 L418.0,311.1 L449.2,335.2 L446.0,340.0 L441.0,333.2 L432.0,333.2 L428.0,334.0 L410.0,335.0 L390.0,340.0 L330.0,340.0 L330.0,300.0 L335.0,285.6 L328.8,284.4 L323.8,282.8 L321.6,282.0 L318.8,281.9 L315.6,280.0 L312.8,277.5 L312.3,277.0 L311.8,276.2 L309.5,277.0 L307.4,278.0 L302.7,275.0 L298.4,273.3 L294.1,277.8 L292.5,276.5 L290.6,273.8 L290.0,268.8 L285.0,266.9 L281.9,263.8 L281.2,260.0 L281.9,256.9 L285.0,256.0 L290.0,256.9 L297.5,256.2 L305.0,256.9 L305.9,258.2 L307.0,260.9 L306.6,263.3 L309.0,262.5 L311.3,263.3 L313.9,264.4 L315.5,263.0 L315.0,258.0 L314.0,254.0 L313.2,251.5Z"/>
</g><g fill="#E4E6E6">
<path d="M328.5,269.8 L331.9,268.1 L336.5,266.4 L340.5,264.1 L343.4,263.5 L344.5,265.8 L341.7,268.1 L342.2,270.4 L339.4,273.2 L336.5,274.9 L333.1,276.7 L329.6,276.7 L327.9,273.8Z"/>
</g></g>
<path d="M258.3,265.3 L258.9,270.5 L255.5,271.6 L245.1,272.2 L242.8,273.9 L236.5,277.4 L233.1,279.1 M236.5,277.4 L235.9,282.0 L231.4,282.0 L230.8,287.7 L225.6,288.8 M236.5,277.9 L238.8,280.8 L253.2,291.7 M253.2,291.7 L260.6,287.1 L264.6,286.6 M264.6,286.6 L261.2,283.1 L260.6,276.2 L261.8,272.8 L260.1,269.3 L258.3,265.3 M261.8,272.8 L263.3,271.4 L263.7,270.2 M279.8,273.9 L279.8,287.1 L293.3,287.1 M279.8,287.1 L279.8,290.6 M264.6,286.6 L268.1,287.1 L279.8,290.6 M268.1,287.1 L267.5,296.3 L265.8,299.8 L266.9,301.5 M279.8,290.6 L278.4,294.6 L276.7,299.2 L277.3,303.8 L281.3,310.1 M238.8,280.8 L239.4,296.3 L231.4,297.4 L229.1,296.9 L225.6,297.4 M253.2,291.7 L253.7,295.7 L248.6,298.6 L247.4,299.2 L242.8,301.5 L240.0,303.8 M248.6,298.6 L253.7,299.2 L264.6,300.3 L266.9,301.5 M252.0,302.6 L251.4,309.5 M266.9,301.5 L264.6,306.1 L259.5,310.6 M237.7,304.9 L237.7,311.8 M247.4,302.6 L248.0,310.1 M229.1,301.5 L233.1,302.6 L235.9,307.2 L237.1,310.6 M226.8,299.8 L231.4,300.3 L233.7,302.0 L240.0,303.8 L243.4,303.8 L249.2,302.6 L252.0,302.6 M266.9,308.4 L271.5,307.2 L277.3,303.8 M259.5,310.6 L264.6,310.6 L266.9,308.4 L268.1,315.2 L270.4,315.8 M268.1,315.2 L272.7,311.8 L281.9,311.2 L285.9,312.9 M281.3,310.1 L283.0,311.2 L290.5,310.6 L293.3,307.8 M299.1,294.6 L296.2,298.6 L293.3,302.6 L291.1,307.2 L294.5,311.8 L300.2,312.9 M296.2,298.6 L302.5,299.2 L304.8,303.2 M304.8,303.2 L303.1,304.9 L310.0,308.4 L304.8,312.9 L300.2,312.9 L301.9,313.5 L301.4,321.0 M292.8,312.9 L293.3,318.7 M293.3,320.4 L299.7,324.4 M287.6,314.1 L286.5,319.8 L285.9,326.7 L287.6,331.3 L290.5,333.6 M285.9,312.9 L292.8,312.9 L294.5,311.8 M270.4,315.8 L268.1,322.1 L264.6,325.0 M265.2,327.9 L270.4,327.9 L272.7,329.6 L276.1,329.0 L276.7,334.8 L283.0,334.8 L285.3,335.9 L283.0,332.5 L287.6,331.3 M287.6,331.3 L292.2,333.6 L293.3,334.8 L300.2,333.6 M292.2,333.6 L293.3,339.4 M264.1,342.2 L273.8,342.8 L280.7,343.4 M276.7,334.8 L276.7,341.6 L280.7,343.4 L285.3,341.6 L289.9,338.8 L292.2,339.4 M273.8,342.8 L273.8,354.2 M289.9,338.8 L289.9,345.1 L288.8,350.8 M260.6,315.8 L264.6,315.8 L266.9,315.2 M264.6,315.8 L264.6,319.8 L262.4,322.1 M264.6,325.0 L266.4,322.1 L268.1,322.1 M294.5,271.6 L301.4,265.9 L303.7,265.3 M301.4,265.9 L306.0,273.9 L309.4,276.2 M150.9,303.7 L149.7,307.9 L154.5,310.3 L156.3,313.3 L156.9,316.9 M156.9,316.9 L161.1,316.3 L165.3,312.7 L167.1,311.5 M167.1,311.5 L167.7,316.3 L170.7,316.9 L174.3,315.7 L177.9,313.9 M140.7,316.9 L146.1,318.1 L149.7,321.1 M140.7,324.1 L143.7,322.9 L146.1,319.9 M156.9,316.9 L154.5,317.5 L153.3,324.1 L149.7,325.3 L148.5,328.9 L150.9,332.5 L155.1,334.3 M155.1,334.3 L154.5,339.7 L153.9,343.9 L155.7,350.5 M155.1,334.3 L159.3,332.5 L160.5,335.5 L166.5,338.5 L167.7,342.1 L170.1,344.5 L169.5,348.1 M155.7,350.5 L162.9,349.9 L164.1,348.1 L166.5,346.3 L169.5,348.1 M169.5,348.1 L172.5,350.5 L174.3,355.9 L173.7,357.6 M164.1,348.1 L167.7,352.3 L171.3,357.1 L173.7,357.6 L171.3,361.2 L169.5,363.6 L170.1,367.8 M171.3,361.8 L175.5,364.8 M326.2,253.7 L330.8,254.9 L334.8,258.3 L337.6,258.9 L342.2,257.7 L346.3,256.6 L353.7,255.4 L357.2,252.6 L358.9,248.6 L362.9,245.1 M362.9,245.1 L366.4,250.3 L372.1,254.3 L376.7,256.0 L385.9,258.3 L393.9,255.4 L395.0,252.6 L400.8,250.8 L405.4,248.6 L400.8,247.4 L400.8,245.1 M353.7,255.4 L352.6,258.3 L349.1,260.0 L346.3,261.8 L347.4,264.6 M347.4,264.6 L350.9,266.9 L353.7,268.1 L353.1,272.1 L356.0,276.7 L364.1,280.7 L365.8,279.0 L371.5,277.2 L375.5,277.8 L376.7,280.1 M354.9,277.8 L363.5,282.4 M347.4,264.6 L345.1,267.5 L347.4,272.1 L344.5,276.1 L341.1,279.0 L339.9,283.6 M329.6,276.7 L330.8,281.3 M364.1,281.3 L364.6,285.9 L367.5,286.4 L368.6,283.6 L366.4,281.3 M376.7,280.1 L372.1,283.6 L370.4,289.9 M376.7,280.1 L377.2,284.7 L380.1,288.1 L377.2,291.6 L376.7,296.2 M380.1,288.1 L383.6,286.4 L385.9,289.3 L384.7,292.8 L387.6,295.6 L385.9,298.5 M383.6,286.4 L388.1,288.1 M381.3,296.2 L385.9,298.5 L388.7,299.6 L385.9,304.2 M326.2,261.8 L333.1,263.5 L337.6,265.8 L340.5,264.1 M334.8,258.3 L336.5,261.8 L342.2,260.6 L346.3,261.8 M328.5,269.8 L331.9,268.1 L336.5,266.4 L340.5,264.1 L343.4,263.5 L344.5,265.8 L341.7,268.1 L342.2,270.4 L339.4,273.2 L336.5,274.9 L333.1,276.7 L329.6,276.7 L327.9,273.8 L328.5,269.8 M91.2,272.6 L97.5,273.8 L102.5,273.5 L105.0,275.0 L108.1,277.2 L110.6,276.5 L113.1,278.8 L115.6,281.2 M285.1,250.7 L284.7,248.0 L283.1,246.0 L281.4,246.0 L279.1,246.5 L277.4,245.7 L278.5,243.4 L279.1,240.5 L278.8,238.2 L280.8,235.9 L283.7,232.5 L287.1,232.5 M287.1,232.5 L289.4,236.2 L288.6,238.5 L288.9,239.4 L291.7,239.9 L294.0,242.2 L296.9,243.4 L299.5,244.5 L299.5,246.3 L297.5,247.4 L297.2,248.3 M297.9,251.3 L301.9,253.9 L306.6,255.4 L310.2,256.2 L311.3,257.6 M311.3,250.7 L312.1,248.8 L309.8,246.4 L310.2,244.5 L312.5,242.3 L314.5,240.9 L318.0,240.4 L322.3,241.3 L326.0,241.0 L329.4,240.5 L329.8,237.4 L332.0,236.0 L336.4,235.1 L341.1,233.5 L345.0,234.8 L349.0,235.8 L353.0,238.3 L356.8,240.9 L357.5,241.2 L362.5,243.1 M367.5,242.5 L372.5,241.2 L377.5,240.0 L381.2,241.9 L386.2,241.9 L390.0,243.1 L395.0,244.4 L400.0,243.1 L405.0,241.9 L407.5,237.5 L411.2,236.9 L415.0,238.8 L418.8,243.8 L422.5,246.2 L426.2,248.8 L425.0,252.5 L421.9,253.8 M419.7,255.4 L416.9,256.6 L413.4,258.9 L410.5,260.6 L408.2,262.3 M305.9,258.2 L307.0,260.9 L306.6,263.3 L309.0,262.5 L311.3,263.3 L313.9,264.4 M294.1,277.8 L298.4,273.3 L302.7,275.0 L307.4,278.0 L309.5,277.0 L311.8,276.2 M304.4,294.0 L308.8,293.8 L312.5,292.5 L316.9,292.5 L319.0,295.4 M153.8,344.5 L155.0,347.9 L156.2,351.6 L155.0,356.0 L153.8,361.0 L153.1,366.0 L152.5,371.0 L151.2,377.2 L150.6,383.5 L150.0,389.8 L150.0,394.8 L152.5,398.5 L155.2,400.0 M279.1,240.2 L282.6,240.1 L286.6,240.2 L288.9,239.4 M58.5,202.2 L58.5,223.8 L66.0,226.5 L69.8,230.2 L74.8,238.1 M83.5,245.6 L119.8,245.6 L123.8,246.9 L130.0,248.8 L133.8,250.0 L136.2,255.6 L141.2,255.0 L146.2,253.1 L153.1,250.6 L156.2,247.5 L158.8,246.9 M269.4,359.3 L273.4,357.0 L279.1,354.7 L284.9,349.6 L288.3,350.1 L288.9,357.0 M281.4,344.4 L284.9,349.6 M281.4,344.4 L285.4,341.0 L289.4,342.1 L290.0,346.7 L288.3,350.1 M282.6,360.5 L283.7,359.3 L284.9,360.5 L283.7,361.6 L282.6,360.5 M287.6,355.9 L288.3,355.2 L288.8,356.1 L288.1,356.7 L287.6,355.9 M264.1,226.3 L263.7,220.9 L264.5,214.6 L268.8,206.8 L275.9,202.8 L279.0,203.6 L279.8,210.7 M279.0,203.6 L283.7,202.1 L286.1,199.9 L286.9,205.2 L286.1,210.7 L289.6,217.7 L286.9,222.4 M284.9,224.6 L283.7,229.5 L282.9,232.6 L279.9,235.0 M279.0,227.5 L284.5,227.1 M276.7,231.2 L282.9,231.4 M275.9,235.3 L278.4,235.1 M268.0,235.7 L267.3,241.2 L272.7,242.8 L278.2,242.0 M259.8,234.2 L261.8,234.2 M257.9,237.3 L257.1,242.0 L257.9,245.9 L264.9,245.9 L266.5,242.0 L267.3,241.2 M254.3,239.3 L257.1,242.0 M257.9,245.9 L257.1,249.8 L257.9,252.2 M246.9,253.4 L251.6,254.9 M257.9,248.3 L261.0,248.7 L264.9,247.5 L269.6,246.7 L270.4,245.2 L266.5,244.4 L266.5,242.0 M266.5,242.0 L269.6,241.2 L272.7,242.8 L270.4,245.2 M257.1,249.8 L260.2,248.7 L264.9,248.3 L265.7,249.8 M270.4,245.2 L275.9,244.4 L278.2,242.0 M269.6,246.7 L271.2,249.8 L275.9,248.3 L278.2,245.9 L275.9,244.4 M275.9,248.3 L276.7,251.4 L282.1,253.0 L285.3,252.2 M278.2,245.9 L280.6,246.7 L283.7,245.9 L286.1,248.3 M277.4,253.0 L277.4,256.9 L283.7,256.9 M271.2,249.8 L272.7,253.8 L275.9,256.9 L277.4,256.9 M274.3,259.2 L279.0,257.7 L283.7,256.9 M237.9,255.3 L237.5,262.4 M266.5,249.8 L268.8,251.4 L271.2,249.8 M294.9,265.2 L300.4,264.4 L305.9,264.0 L307.0,262.5 M307.0,262.5 L307.8,267.2 L309.8,271.1 L312.1,275.0 M300.4,264.4 L302.7,267.2 L299.6,270.3 L298.4,273.3 M294.1,271.9 L299.6,270.3 M319.2,262.5 L323.9,260.9 L328.6,263.3 L330.1,267.2 M330.1,267.2 L329.0,271.9 L330.9,275.8 L330.1,278.1 L331.7,280.5 L330.9,282.9 M316.8,252.7 L322.3,251.5 L323.9,254.6 L328.6,259.3 L334.1,262.5 M322.3,251.5 L327.0,249.9 L329.4,253.9 L334.9,257.0 M317.6,286.4 L320.7,289.1 L323.9,291.5 M290.2,274.2 L290.2,278.1" fill="none" stroke="#fff" stroke-width="0.55" stroke-linejoin="round" opacity="0.9"/><path d="M288.5,318.9 L290.8,318.2 L292.4,319.8 L291.3,322.1 L288.8,321.9Z M384.8,240.5 L386.9,238.8 L389.4,236.6 L391.6,233.5 L393.0,232.0 L393.6,233.0 L392.2,236.0 L389.8,239.0 L387.0,241.0Z" fill="#fff"/>
<g fill="none" stroke="#fff" stroke-width="0.35"><path clip-rule="evenodd" d="M58.5,202.2 L53.5,201.2 L47.2,200.0 L41.0,199.4 L37.2,199.0 L33.5,200.0 L29.8,201.9 L24.8,205.0 L27.9,206.9 L31.0,208.8 L31.6,210.6 L27.2,211.2 L23.2,211.9 L26.0,213.8 L30.4,215.0 L31.0,216.9 L27.9,218.1 L25.4,220.0 L24.8,223.1 L26.6,225.0 L29.8,225.6 L32.2,226.2 L34.8,227.5 L33.5,230.0 L29.1,233.1 L32.2,231.9 L36.6,228.8 L39.8,226.2 L42.9,223.1 L45.4,221.2 L48.5,221.9 L52.2,222.8 L57.9,223.5 L61.0,224.4 L66.0,226.2 L69.8,230.0 L72.9,233.8 L74.8,237.5 L77.2,241.2 L81.0,243.8 L83.5,245.6 L81.9,250.0 L81.5,255.0 L82.2,260.0 L84.4,264.4 L87.5,268.1 L90.0,270.6 L91.2,272.6 L92.8,277.8 L95.1,281.2 L98.0,284.1 L100.2,286.1 L99.1,283.6 L96.9,280.1 L95.1,276.6 L94.5,273.2 L96.0,273.6 L97.5,274.4 L100.0,278.8 L103.1,283.8 L106.2,288.8 L108.8,291.9 L113.8,294.4 L118.1,296.0 L122.5,296.9 L125.0,298.1 L128.1,298.8 L131.2,301.9 L133.8,304.4 L136.2,306.5 L137.8,308.1 L139.8,307.5 L141.9,308.1 L143.5,308.1 L143.1,306.5 L141.0,305.4 L138.5,306.2 L136.2,305.0 L134.4,303.1 L135.0,300.0 L134.4,297.5 L131.2,296.9 L127.5,296.9 L128.1,294.4 L130.0,291.2 L129.4,288.8 L126.2,289.4 L125.0,291.9 L121.9,293.1 L118.8,291.9 L116.9,288.8 L116.2,285.0 L115.6,281.2 L117.5,278.1 L121.2,276.5 L125.0,276.9 L128.1,275.6 L131.9,276.2 L135.0,275.8 L136.1,276.5 L136.8,279.4 L137.6,282.1 L138.8,282.9 L139.6,282.8 L140.1,281.2 L139.2,278.1 L137.8,275.0 L140.0,271.9 L143.1,267.5 L145.0,265.0 L144.4,262.5 L147.5,260.0 L150.0,256.9 L151.6,257.0 L152.9,255.1 L154.8,253.2 L156.8,252.4 L157.8,250.8 L159.8,251.1 L161.1,250.0 L160.1,248.4 L161.1,246.5 L159.8,244.9 L156.0,246.5 L153.5,248.4 L151.3,250.6 L153.5,247.6 L156.0,245.4 L158.5,243.9 L162.2,242.6 L166.0,241.9 L169.8,240.4 L172.6,238.2 L172.1,238.0 L168.2,234.8 L165.8,230.9 L162.7,226.2 L160.7,224.3 L159.6,227.0 L157.2,227.8 L154.8,226.2 L154.1,222.3 L150.9,220.0 L147.0,219.2 L143.5,219.2 L142.9,223.9 L144.8,228.6 L145.1,231.7 L142.5,234.1 L142.7,238.0 L140.7,241.1 L138.6,239.6 L137.2,234.8 L134.5,233.3 L129.8,230.9 L125.1,229.4 L122.7,227.0 L120.4,224.3 L121.5,220.0 L124.3,216.8 L127.4,215.3 L130.9,211.3 L132.9,209.8 L136.8,209.0 L137.6,205.1 L135.3,202.3 L132.5,203.5 L131.3,206.6 L129.0,209.8 L126.6,211.3 L125.9,208.2 L123.5,205.9 L122.7,201.2 L120.4,197.6 L118.4,199.6 L118.8,203.5 L116.8,205.1 L114.1,205.9 L110.2,206.6 L106.3,205.9 L103.1,206.6 L100.0,205.9 L97.5,206.2 L91.2,205.0 L85.0,203.1 L80.0,201.9 L76.0,200.6 L71.0,201.2 L66.0,203.1ZM123.8,248.4 L126.0,246.7 L128.5,245.2 L131.0,245.1 L132.9,246.7 L134.1,248.6 L133.2,249.8 L131.0,249.2 L128.5,248.9 L126.0,249.5 L124.4,249.2ZM129.4,252.0 L130.7,250.8 L131.9,251.4 L132.2,253.9 L131.6,256.7 L130.4,257.6 L129.2,256.1 L129.1,253.9ZM134.1,250.8 L136.6,250.1 L139.1,250.8 L140.7,252.6 L139.8,253.6 L137.9,253.2 L137.6,255.4 L136.0,256.1 L134.8,254.5 L135.1,252.6ZM135.1,257.3 L137.2,256.4 L139.8,255.4 L141.0,254.8 L140.7,256.1 L138.5,257.0 L136.3,258.1ZM141.9,253.6 L144.1,252.9 L146.0,252.6 L145.7,253.6 L143.5,254.4 L141.9,254.5ZM81.0,210.0 L86.0,208.8 L89.8,209.4 L86.0,211.9 L82.9,212.5ZM91.0,221.2 L96.0,218.8 L101.0,218.1 L96.0,221.9 L92.2,222.5ZM115.0,236.0 L116.5,235.6 L118.8,241.2 L117.5,241.9Z"/>
<path clip-rule="evenodd" d="M169.1,246.7 L170.7,244.2 L171.8,242.0 L173.0,244.5 L174.8,245.9 L176.6,248.1 L174.1,247.2 L171.3,247.1Z"/>
<path clip-rule="evenodd" d="M159.1,253.4 L161.0,252.0 L163.5,251.4 L166.0,249.5 L166.9,250.1 L164.1,252.1 L161.0,253.7 L159.4,254.0Z"/>
<path clip-rule="evenodd" d="M126.6,195.2 L126.4,195.4 L127.5,198.7 L131.1,200.5 L136.8,201.3 L140.6,201.3 L143.5,202.0 L146.4,204.2 L149.4,207.2 L150.5,209.4 L147.2,211.0 L150.4,215.3 L154.5,216.1 L157.9,218.7 L162.2,216.5 L160.9,212.6 L163.0,213.1 L166.4,209.2 L161.7,205.9 L157.1,202.1 L153.9,198.1 L149.1,194.9 L144.2,192.1 L136.8,190.8 L134.1,191.2 L132.4,191.2 L128.9,191.7 L126.3,194.2Z"/>
<path clip-rule="evenodd" d="M130.5,212.4 L131.1,215.6 L133.5,217.6 L138.1,217.1 L139.3,214.2 L134.6,211.4Z"/>
<path clip-rule="evenodd" d="M143.5,206.0 L144.0,208.2 L147.3,207.7 L147.3,205.5Z"/>
<path clip-rule="evenodd" d="M142.7,213.0 L143.3,214.8 L147.6,214.5 L148.2,212.6Z"/>
<path clip-rule="evenodd" d="M79.2,196.1 L80.1,197.9 L83.1,198.8 L86.4,197.1 L89.6,194.7 L92.3,191.1 L85.4,189.4 L81.2,190.3Z"/>
<path clip-rule="evenodd" d="M88.0,196.0 L91.3,198.5 L90.5,200.8 L93.0,204.2 L97.1,205.0 L101.9,205.8 L105.1,204.2 L109.1,204.2 L111.7,201.6 L110.0,199.0 L107.6,196.6 L106.0,192.6 L103.3,192.6 L101.7,194.1 L96.4,194.1 L91.6,193.3Z"/>
<path clip-rule="evenodd" d="M82.9,184.9 L83.6,186.3 L87.1,185.9 L91.2,183.8 L92.3,181.0 L86.8,182.3Z"/>
<path clip-rule="evenodd" d="M92.1,184.7 L91.6,187.6 L94.7,189.8 L99.6,189.0 L105.2,188.6 L106.4,186.3 L101.2,185.5 L96.4,183.9Z"/>
<path clip-rule="evenodd" d="M95.9,178.0 L96.4,181.6 L99.8,181.6 L100.8,178.0Z"/>
<path clip-rule="evenodd" d="M108.0,182.9 L110.2,186.1 L113.5,188.6 L116.8,188.2 L116.8,184.3 L112.9,183.9Z"/>
<path clip-rule="evenodd" d="M105.4,175.7 L106.7,177.6 L109.6,178.8 L113.8,180.1 L115.0,178.3 L109.8,175.7Z"/>
<path clip-rule="evenodd" d="M115.8,177.1 L116.4,179.6 L119.9,180.1 L119.9,178.1Z"/>
<path clip-rule="evenodd" d="M118.3,173.3 L121.2,175.9 L123.7,178.7 L127.6,179.1 L129.7,181.2 L127.9,183.8 L134.0,183.8 L138.6,184.6 L138.6,184.6 L145.2,183.0 L149.0,179.2 L152.7,175.8 L156.5,172.7 L164.4,164.8 L155.0,163.5 L157.5,163.3 L157.5,162.8 L144.9,163.2 L137.1,164.4 L130.7,166.0 L126.8,168.3 L122.1,169.5Z"/>
<path clip-rule="evenodd" d="M122.4,184.0 L124.3,188.5 L127.6,189.4 L134.0,189.8 L140.7,189.0 L140.7,186.6 L134.0,186.6 L128.0,186.3 L126.4,183.5Z"/>
<path clip-rule="evenodd" d="M110.3,193.6 L112.6,196.8 L116.2,197.3 L118.0,194.6 L117.0,190.9 L112.7,191.8Z"/>
<path clip-rule="evenodd" d="M119.0,191.8 L119.5,195.4 L121.1,197.6 L122.5,194.8 L124.9,194.0 L125.9,190.9Z"/>
<path clip-rule="evenodd" d="M131.3,211.9 L133.8,216.9 L138.9,215.4 L134.9,212.9Z"/>
<path clip-rule="evenodd" d="M151.5,179.4 L157.8,173.8 L164.0,168.8 L171.5,166.2 L180.2,165.6 L186.5,163.1 L197.8,161.9 L209.0,161.9 L217.8,164.4 L214.0,167.5 L221.5,169.4 L230.2,168.5 L225.2,171.2 L221.5,174.4 L219.0,178.8 L222.1,182.5 L219.6,187.5 L219.0,191.9 L215.2,195.0 L216.5,199.4 L212.1,202.5 L206.5,205.0 L200.2,208.1 L195.2,211.2 L192.1,215.0 L190.9,220.0 L189.0,223.8 L185.2,222.5 L181.5,219.4 L178.4,213.8 L176.8,208.8 L179.6,205.0 L176.5,201.9 L174.6,197.5 L174.0,192.5 L170.9,187.5 L166.5,184.4 L160.2,184.4 L155.2,182.5Z"/>
<path clip-rule="evenodd" d="M216.5,211.2 L220.2,211.9 L224.0,210.6 L228.4,211.2 L229.0,213.1 L225.2,215.6 L222.1,216.2 L219.0,214.4Z"/>
<path clip-rule="evenodd" d="M263.1,175.6 L267.5,174.8 L272.5,175.0 L276.2,176.9 L278.5,180.6 L275.6,180.0 L273.1,178.8 L271.2,181.0 L269.4,183.1 L267.2,180.2 L265.2,177.8Z"/>
<path clip-rule="evenodd" d="M275.0,173.8 L283.1,173.4 L280.6,175.6 L276.9,176.0Z"/>
<path clip-rule="evenodd" d="M262.9,232.6 L264.3,232.4 L264.3,233.7 L263.1,233.8Z"/>
<path clip-rule="evenodd" d="M316.9,196.9 L318.8,193.1 L321.9,188.8 L327.5,185.0 L333.8,183.1 L339.4,182.5 L340.0,184.4 L335.0,186.2 L330.0,188.1 L326.2,191.2 L324.4,195.0 L322.5,198.5 L319.4,199.0Z"/>
<path clip-rule="evenodd" d="M240.5,228.1 L241.1,231.3 L242.9,233.1 L241.7,235.6 L243.0,238.1 L241.6,241.5 L244.4,240.8 L248.2,240.8 L250.2,238.8 L248.2,236.8 L246.4,233.7 L243.9,231.2 L244.5,228.7 L242.5,226.7Z"/>
<path clip-rule="evenodd" d="M234.9,236.2 L234.6,238.8 L236.9,239.9 L239.5,238.2 L240.2,235.6 L238.1,234.2Z"/>
<path clip-rule="evenodd" d="M143.8,307.9 L146.2,304.1 L150.0,302.2 L152.5,302.9 L155.0,305.4 L158.8,304.8 L162.5,305.4 L165.0,307.2 L168.1,307.9 L171.9,310.4 L175.0,311.6 L178.1,312.9 L180.0,316.6 L182.5,319.1 L187.5,321.0 L192.5,322.9 L197.5,325.4 L200.6,328.5 L199.4,332.9 L196.2,337.2 L193.8,343.5 L192.5,348.5 L189.4,351.0 L186.2,352.9 L182.5,356.0 L180.0,359.8 L176.9,364.1 L175.0,367.9 L171.9,369.8 L169.4,369.1 L170.0,372.2 L168.1,375.4 L163.8,376.6 L161.9,380.4 L160.0,382.9 L158.1,387.2 L158.8,391.0 L155.6,394.8 L155.0,398.5 L155.6,402.2 L153.1,403.5 L150.6,401.0 L148.1,396.0 L146.9,391.0 L148.1,386.0 L148.8,379.8 L149.4,373.5 L150.6,367.2 L151.9,361.0 L153.1,354.8 L153.8,348.5 L153.8,344.8 L150.0,341.0 L146.2,336.0 L142.5,329.8 L140.0,325.4 L139.4,321.0 L141.2,317.2 L143.1,313.5 L143.8,309.8Z"/>
<path clip-rule="evenodd" d="M239.4,266.2 L246.2,265.6 L252.5,264.8 L258.8,264.4 L261.2,265.6 L261.9,269.4 L265.0,271.2 L270.0,273.1 L275.0,272.5 L280.0,273.1 L285.0,273.8 L290.0,273.8 L291.9,275.0 L292.5,276.9 L295.0,283.8 L297.5,290.0 L300.6,295.6 L303.1,300.0 L305.0,302.5 L308.8,303.1 L314.4,302.5 L312.5,307.5 L308.8,313.8 L305.0,318.8 L301.9,323.1 L299.4,325.0 L298.8,330.0 L300.6,334.4 L301.2,338.8 L298.8,341.2 L295.0,343.1 L292.5,345.6 L294.4,348.1 L293.8,351.9 L290.0,353.8 L290.6,356.2 L288.1,360.0 L285.0,363.8 L281.2,366.2 L277.5,367.2 L273.8,368.1 L272.5,366.9 L271.2,362.5 L269.4,358.1 L267.5,352.5 L265.6,346.2 L263.8,341.2 L265.0,336.9 L266.2,332.5 L265.6,327.5 L263.8,323.8 L260.6,318.8 L260.0,313.8 L260.6,312.5 L257.5,310.6 L252.5,309.8 L247.5,310.0 L242.5,311.2 L236.9,311.2 L233.1,308.1 L230.0,303.8 L226.9,300.6 L225.2,297.5 L225.6,293.1 L226.0,288.8 L227.5,283.8 L230.0,279.4 L233.1,275.0 L235.6,270.6Z"/>
<path clip-rule="evenodd" d="M312.3,335.5 L309.4,338.5 L305.9,340.9 L305.4,343.2 L304.2,347.8 L304.0,351.9 L306.0,354.3 L308.5,353.1 L310.2,349.0 L311.4,344.4 L313.1,339.8Z"/>
<path clip-rule="evenodd" d="M397.5,352.5 L398.8,350.0 L405.0,347.5 L409.4,343.8 L413.1,340.0 L416.2,338.8 L419.4,340.0 L420.6,336.9 L423.8,335.6 L427.5,336.2 L428.1,339.4 L431.2,342.5 L434.4,343.8 L435.6,337.5 L436.5,334.4 L438.1,338.8 L440.0,340.6 L441.2,345.0 L444.4,348.1 L447.5,351.9 L450.0,355.6 L451.0,360.0 L450.0,365.0 L448.1,369.4 L445.0,373.1 L441.2,375.0 L437.5,374.4 L433.8,372.5 L431.9,368.8 L430.0,366.2 L428.8,368.8 L426.9,367.5 L424.4,364.4 L420.0,363.8 L415.0,365.0 L410.0,366.2 L405.0,368.1 L401.2,368.8 L400.0,366.2 L400.6,362.5 L399.4,358.8 L398.1,355.6Z"/>
<path clip-rule="evenodd" d="M439.8,379.0 L443.8,378.8 L443.1,381.9 L441.2,382.8Z"/>
<path clip-rule="evenodd" d="M477.8,368.7 L479.2,375.0 L479.9,377.6 L481.5,379.6 L483.2,377.0 L485.0,374.3 L481.3,373.6 L479.5,371.8 L477.9,368.7Z"/>
<path clip-rule="evenodd" d="M479.0,379.3 L476.8,378.8 L474.9,380.5 L471.8,383.6 L468.8,386.9 L471.3,388.3 L474.5,386.4 L477.0,382.6Z"/>
<path clip-rule="evenodd" d="M235.6,263.8 L236.0,259.4 L236.2,256.2 L241.2,255.4 L246.9,255.0 L247.2,251.2 L246.2,248.1 L242.5,246.0 L245.6,244.8 L248.8,243.5 L251.2,242.5 L253.5,240.6 L256.0,238.1 L258.1,236.0 L259.0,235.0 L259.0,235.0 L259.4,232.6 L259.4,230.3 L261.4,229.5 L262.2,232.2 L261.8,234.2 L262.9,234.6 L264.9,235.1 L268.0,235.7 L271.2,235.1 L275.9,235.3 L277.8,234.6 L276.7,233.4 L276.3,231.0 L277.1,229.1 L279.8,229.6 L280.2,227.9 L278.6,227.1 L279.0,225.4 L282.1,224.6 L284.9,224.6 L286.9,222.8 L286.1,221.5 L283.7,222.0 L280.6,222.4 L277.1,222.2 L276.3,220.1 L276.8,217.7 L278.2,215.8 L280.2,213.8 L281.0,211.4 L279.2,210.9 L277.1,213.4 L275.1,215.8 L272.7,218.1 L270.8,220.2 L271.2,222.2 L272.5,224.8 L270.4,227.3 L269.0,230.3 L266.5,232.0 L265.1,230.4 L264.0,227.5 L263.3,225.2 L260.2,226.3 L257.1,227.3 L255.5,224.0 L255.1,220.9 L257.9,218.5 L262.6,215.4 L264.9,211.8 L267.3,208.3 L269.6,205.2 L272.7,202.4 L277.4,200.9 L281.4,199.3 L286.1,199.7 L288.4,201.1 L293.1,202.8 L297.8,204.4 L301.7,206.8 L300.9,209.5 L297.8,209.9 L293.9,208.7 L291.2,208.2 L293.9,211.8 L297.0,214.4 L299.4,213.5 L301.3,213.8 L302.9,211.8 L305.6,209.9 L307.2,206.0 L309.2,205.2 L309.6,207.5 L312.0,208.7 L312.5,203.8 L317.5,205.0 L323.8,204.4 L327.5,203.1 L330.0,201.9 L335.0,202.8 L338.8,203.8 L338.8,200.0 L339.4,196.0 L343.8,194.8 L345.6,193.1 L345.0,200.0 L346.9,205.0 L344.4,208.8 L346.2,210.0 L349.4,206.2 L348.8,200.0 L348.1,196.9 L352.5,195.0 L356.2,193.1 L361.2,191.9 L364.4,190.0 L365.0,187.5 L371.2,186.2 L377.5,184.4 L382.5,181.9 L386.2,182.2 L390.0,183.8 L395.0,184.4 L397.5,186.2 L395.0,188.8 L390.0,191.9 L387.5,193.8 L393.8,192.5 L400.0,192.5 L407.5,193.8 L412.5,192.5 L417.5,193.8 L420.0,197.5 L422.5,198.8 L427.5,197.2 L433.8,196.2 L438.8,195.0 L443.8,196.2 L447.5,198.1 L452.5,199.0 L458.8,199.8 L461.9,203.1 L467.9,203.1 L472.5,202.8 L476.2,201.9 L482.5,202.2 L487.5,204.4 L492.5,207.5 L496.9,209.4 L500.0,210.6 L496.9,213.8 L493.1,211.9 L490.0,211.2 L486.2,213.1 L483.8,215.0 L486.2,218.1 L481.2,219.4 L477.5,221.2 L473.8,223.1 L468.8,223.8 L468.1,223.1 L466.2,226.5 L465.0,230.2 L462.9,234.8 L459.8,238.5 L456.9,241.2 L455.1,238.1 L454.5,232.5 L456.9,227.8 L460.6,223.5 L464.4,219.8 L466.2,219.0 L462.5,220.0 L458.8,220.6 L455.0,222.5 L452.5,225.6 L447.5,225.0 L442.5,225.0 L437.5,225.6 L433.8,228.1 L430.6,231.2 L427.5,234.4 L429.4,236.2 L432.5,235.6 L434.4,238.1 L433.8,242.5 L431.9,247.5 L429.4,251.2 L426.2,254.4 L423.1,255.6 L419.7,257.2 L418.0,259.5 L417.4,261.8 L418.7,265.8 L417.5,269.0 L414.3,268.6 L413.8,264.6 L412.3,262.9 L411.7,261.2 L410.0,261.2 L408.2,262.3 L405.4,261.2 L402.5,263.5 L404.2,264.6 L406.5,264.1 L405.4,266.9 L404.2,268.6 L405.9,270.9 L407.7,273.2 L407.7,276.7 L406.5,280.1 L404.2,283.6 L400.8,286.4 L396.2,288.1 L392.2,289.9 L389.9,289.3 L388.1,288.1 L386.4,291.0 L388.1,293.9 L390.4,297.3 L391.0,300.8 L388.7,304.2 L385.9,305.9 L384.7,304.2 L383.0,303.1 L381.3,300.8 L380.1,298.5 L378.4,297.3 L377.6,299.6 L377.5,303.1 L379.0,305.9 L381.0,309.4 L382.6,312.3 L383.9,315.7 L383.2,316.6 L382.1,316.3 L380.1,313.4 L378.1,309.4 L376.7,304.2 L375.8,299.6 L374.9,296.2 L373.2,295.6 L372.1,292.8 L370.4,289.9 L368.6,287.6 L366.9,286.4 L365.8,284.1 L364.1,283.0 L362.9,286.4 L360.6,290.4 L357.7,293.9 L354.9,297.3 L353.1,301.9 L352.0,306.5 L350.3,307.1 L348.6,303.1 L346.8,297.3 L345.1,291.6 L344.0,288.1 L342.2,288.7 L340.5,286.4 L338.8,284.7 L337.1,283.0 L333.1,282.4 L329.6,281.8 L326.2,281.3 L335.0,283.1 L330.0,282.5 L325.0,281.9 L321.2,281.2 L317.5,280.0 L314.4,276.9 L311.9,274.4 L310.0,275.0 L310.0,276.9 L313.1,280.0 L315.6,283.1 L316.9,286.2 L317.8,284.4 L318.8,286.2 L320.6,285.6 L321.9,282.8 L323.1,284.4 L326.5,287.5 L323.1,291.9 L318.8,295.0 L316.2,296.9 L310.0,299.4 L305.2,300.2 L303.8,297.5 L302.5,292.5 L299.4,286.9 L296.2,281.2 L294.0,277.5 L292.8,276.5 L291.9,275.0 L293.1,271.2 L294.4,267.5 L296.2,265.6 L291.2,265.6 L286.2,265.0 L283.8,263.1 L283.1,261.2 L283.1,259.4 L283.8,257.5 L283.8,259.0 L282.5,257.8 L280.0,259.4 L278.8,261.9 L277.5,264.4 L275.6,262.5 L274.8,260.6 L273.1,258.1 L270.0,255.0 L268.1,252.5 L266.0,250.6 L263.8,250.2 L264.4,252.5 L266.5,255.0 L269.0,257.5 L271.5,260.2 L270.0,261.0 L270.2,262.8 L268.8,261.9 L266.9,259.4 L264.4,256.9 L262.2,254.0 L260.0,252.8 L256.2,253.8 L252.8,255.2 L251.2,256.5 L249.0,259.0 L247.8,262.2 L244.4,264.4 L240.6,265.0 L238.8,264.8ZM284.0,252.6 L284.9,250.8 L285.7,249.4 L287.1,249.1 L289.4,249.1 L291.2,249.8 L291.6,251.7 L293.2,252.1 L292.9,250.6 L293.3,249.8 L295.5,249.3 L297.2,248.3 L298.6,249.1 L298.6,251.4 L300.9,253.2 L303.8,255.2 L305.5,257.2 L306.2,259.0 L304.4,258.9 L300.9,258.3 L296.3,257.4 L291.7,256.9 L287.7,257.4 L284.9,259.2 L283.1,258.9 L282.7,257.2 L283.2,254.9ZM311.0,251.5 L312.9,249.6 L316.1,248.8 L318.8,249.6 L319.2,251.5 L316.8,252.7 L315.7,254.6 L316.8,257.0 L318.4,259.3 L319.2,262.5 L318.8,264.8 L316.8,265.6 L314.9,264.8 L313.7,262.5 L313.3,259.3 L312.5,257.0 L311.3,254.6 L310.2,252.7Z"/>
<path clip-rule="evenodd" d="M266.9,263.1 L270.0,262.8 L269.8,264.4 L267.5,264.0Z"/>
<path clip-rule="evenodd" d="M259.8,257.5 L261.0,257.5 L261.0,260.2 L259.8,260.2Z"/>
<path clip-rule="evenodd" d="M260.2,255.0 L261.0,255.0 L261.0,256.9 L260.2,256.9Z"/>
<path clip-rule="evenodd" d="M279.4,265.6 L281.9,265.8 L281.9,266.4 L279.4,266.2Z"/>
<path clip-rule="evenodd" d="M287.5,267.5 L290.0,266.9 L290.0,268.1 L287.8,268.2Z"/>
<path clip-rule="evenodd" d="M370.6,172.5 L373.8,170.0 L376.2,171.9 L377.5,175.0 L373.8,175.0Z"/>
<path clip-rule="evenodd" d="M380.0,178.1 L383.1,175.6 L386.2,177.5 L382.5,180.0Z"/>
<path clip-rule="evenodd" d="M430.0,186.9 L433.1,185.6 L437.5,186.0 L439.4,187.5 L435.6,188.5 L431.2,188.8Z"/>
<path clip-rule="evenodd" d="M442.5,187.8 L447.5,188.1 L446.9,189.0Z"/>
<path clip-rule="evenodd" d="M486.2,198.5 L489.4,198.1 L489.8,199.4 L486.9,199.8Z"/>
<path clip-rule="evenodd" d="M436.3,236.5 L436.0,240.0 L436.7,245.0 L437.4,250.6 L439.2,247.5 L438.3,242.5 L437.7,237.4Z"/>
<path clip-rule="evenodd" d="M434.8,253.0 L435.5,257.1 L437.6,256.4 L441.0,254.4 L437.5,252.3Z"/>
<path clip-rule="evenodd" d="M433.4,258.2 L431.8,262.1 L429.6,264.6 L425.9,266.6 L421.4,268.8 L419.1,272.8 L420.6,274.6 L422.4,272.4 L425.1,271.2 L429.8,269.8 L433.9,267.6 L435.8,264.1 L436.2,259.6Z"/>
<path clip-rule="evenodd" d="M406.5,284.1 L407.9,283.6 L407.7,286.4 L406.5,287.0Z"/>
<path clip-rule="evenodd" d="M391.0,291.0 L392.8,290.4 L393.0,292.2 L391.4,292.8Z"/>
<path clip-rule="evenodd" d="M353.5,305.4 L354.9,305.9 L355.4,308.8 L354.3,310.2 L353.5,308.2Z"/>
<path clip-rule="evenodd" d="M405.7,293.7 L405.7,297.4 L407.5,299.8 L409.2,302.1 L411.1,304.0 L412.5,303.2 L411.9,300.1 L409.6,298.3 L408.5,296.1 L407.9,293.0Z"/>
<path clip-rule="evenodd" d="M408.0,302.7 L408.0,305.8 L410.7,306.9 L411.4,304.1Z"/>
<path clip-rule="evenodd" d="M409.0,308.2 L410.4,309.6 L412.9,310.9 L414.6,308.9 L414.2,305.6 L411.6,306.9Z"/>
<path clip-rule="evenodd" d="M372.3,311.3 L373.8,314.1 L376.1,317.6 L379.6,322.2 L383.1,325.7 L386.3,326.4 L387.0,323.1 L384.0,319.5 L380.0,316.1 L375.9,312.0Z"/>
<path clip-rule="evenodd" d="M386.3,327.1 L386.8,328.8 L389.5,329.7 L394.1,330.9 L398.3,331.5 L399.1,330.3 L395.3,329.0 L390.7,327.9Z"/>
<path clip-rule="evenodd" d="M400.4,330.6 L403.3,330.6 L403.1,331.5 L400.8,331.5Z"/>
<path clip-rule="evenodd" d="M405.6,331.5 L407.9,331.8 L407.7,332.5Z"/>
<path clip-rule="evenodd" d="M410.2,331.8 L413.6,330.9 L413.9,331.5 L410.8,332.7Z"/>
<path clip-rule="evenodd" d="M390.4,317.3 L391.1,319.8 L392.8,322.2 L395.8,323.7 L399.4,323.9 L401.2,321.6 L403.5,318.0 L402.9,314.6 L403.5,311.0 L400.4,310.0 L398.0,313.3 L394.0,315.5Z"/>
<path clip-rule="evenodd" d="M404.8,320.2 L404.2,323.8 L405.6,326.0 L406.8,323.7 L407.9,325.3 L409.3,323.2 L407.6,320.8 L408.1,319.4 L411.5,318.8 L410.9,317.5 L406.0,317.8Z"/>
<path clip-rule="evenodd" d="M415.4,316.9 L417.1,317.8 L416.5,319.1 L415.4,318.6Z"/>
<path clip-rule="evenodd" d="M420.8,319.4 L421.2,321.5 L422.1,323.4 L425.0,324.5 L427.3,326.2 L430.5,328.4 L429.3,330.2 L433.7,331.4 L436.6,332.0 L439.4,330.9 L442.2,332.6 L446.4,333.6 L443.7,331.0 L441.4,328.2 L438.5,325.3 L434.4,322.9 L430.3,321.2 L427.4,321.8 L424.7,321.8 L424.2,320.1Z"/>
<path clip-rule="evenodd" d="M134.5,287.2 L137.0,286.4 L140.4,287.6 L143.9,289.3 L147.1,290.2 L146.8,291.1 L143.3,290.7 L139.9,289.1 L136.8,288.1Z"/>
<path clip-rule="evenodd" d="M149.1,291.4 L151.9,291.0 L155.4,291.8 L154.8,293.2 L151.9,293.0 L149.4,292.8Z"/>
<path clip-rule="evenodd" d="M157.4,293.0 L158.8,293.0 L158.8,293.7 L157.4,293.7Z"/>
<path clip-rule="evenodd" d="M142.8,293.1 L144.5,293.1 L144.5,293.8 L142.8,293.8Z"/>
<path clip-rule="evenodd" d="M307.0,170.5 L314.0,170.0 L318.0,171.0 L312.0,171.8Z"/>
<path clip-rule="evenodd" d="M325.0,170.2 L332.0,170.0 L331.0,171.5 L326.0,171.5Z"/></g>
</g></g>
<line x1="606.75" x2="975.75" y1="326.20" y2="326.20" stroke="#ededed" stroke-width="1.2"/>
<line x1="606.75" x2="975.75" y1="268.30" y2="268.30" stroke="#ededed" stroke-width="1.2"/>
<line x1="606.75" x2="975.75" y1="210.40" y2="210.40" stroke="#ededed" stroke-width="1.2"/>
<line x1="606.75" x2="975.75" y1="152.50" y2="152.50" stroke="#ededed" stroke-width="1.2"/>
<line x1="606.75" x2="975.75" y1="94.60" y2="94.60" stroke="#ededed" stroke-width="1.2"/>
<text x="601.6" y="390.10" text-anchor="end" font-size="17" fill="#666">$0.0T</text>
<text x="601.6" y="332.20" text-anchor="end" font-size="17" fill="#666">$2.5T</text>
<text x="601.6" y="274.30" text-anchor="end" font-size="17" fill="#666">$5.0T</text>
<text x="601.6" y="216.40" text-anchor="end" font-size="17" fill="#666">$7.5T</text>
<text x="601.6" y="158.50" text-anchor="end" font-size="17" fill="#666">$10.0T</text>
<text x="601.6" y="100.60" text-anchor="end" font-size="17" fill="#666">$12.5T</text>
<rect x="616.00" y="143.24" width="61.20" height="240.86" fill="#6B5499"/>
<rect x="690.00" y="145.55" width="61.30" height="238.55" fill="#1F96E8"/>
<rect x="764.10" y="171.03" width="61.40" height="213.07" fill="#DC3D7B"/>
<rect x="837.90" y="245.14" width="61.60" height="138.96" fill="#FFB000"/>
<rect x="912.20" y="300.72" width="58.40" height="83.38" fill="#1A428A"/>
<rect x="606.75" y="381.70" width="374.50" height="4.8" fill="#555"/>
<text x="613.75" y="133.25" font-size="16.8" textLength="56.25" lengthAdjust="spacingAndGlyphs" font-weight="bold" fill="#4a4a4a">$10.4T</text>
<text x="686.25" y="135.50" font-size="16.8" textLength="55.75" lengthAdjust="spacingAndGlyphs" font-weight="bold" fill="#4a4a4a">$10.3T</text>
<text x="769.50" y="160.20" font-size="16.8" textLength="46.00" lengthAdjust="spacingAndGlyphs" font-weight="bold" fill="#4a4a4a">$9.2T</text>
<text x="840.50" y="235.00" font-size="16.8" textLength="46.50" lengthAdjust="spacingAndGlyphs" font-weight="bold" fill="#4a4a4a">$6.0T</text>
<text x="911.25" y="290.50" font-size="16.8" textLength="46.25" lengthAdjust="spacingAndGlyphs" font-weight="bold" fill="#4a4a4a">$3.6T</text>
<text x="611.25" y="407.50" font-size="16.9" textLength="71.75" lengthAdjust="spacingAndGlyphs" fill="#666">Boomers</text>
<text x="697.50" y="407.50" font-size="16.9" textLength="46.25" lengthAdjust="spacingAndGlyphs" fill="#666">Gen X</text>
<text x="753.75" y="407.50" font-size="16.9" textLength="82.00" lengthAdjust="spacingAndGlyphs" fill="#666">Millennials</text>
<text x="845.75" y="407.50" font-size="16.9" textLength="45.50" lengthAdjust="spacingAndGlyphs" fill="#666">Gen Z</text>
<text x="918.25" y="407.50" font-size="16.9" textLength="44.25" lengthAdjust="spacingAndGlyphs" fill="#666">Alpha</text>
<text transform="translate(545,243.00) rotate(-90)" x="-58" y="0" textLength="116" lengthAdjust="spacingAndGlyphs" font-size="16.9" fill="#666">Total spending</text>
<path d="M886.5,424.75 a6,6 0 0 1 6,-6 h91 a6,6 0 0 1 6,6 v12.5 a6,6 0 0 1 -6,6 h-97 z" fill="#2563EB"/>
<text x="897.50" y="435.50" font-size="12.9" textLength="80.25" lengthAdjust="spacingAndGlyphs" font-weight="bold" fill="#fff">Nominal USD</text>
<line x1="606.75" x2="972.8" y1="720.85" y2="720.85" stroke="#ededed" stroke-width="1.2"/>
<line x1="606.75" x2="972.8" y1="663.40" y2="663.40" stroke="#ededed" stroke-width="1.2"/>
<line x1="606.75" x2="972.8" y1="605.95" y2="605.95" stroke="#ededed" stroke-width="1.2"/>
<line x1="606.75" x2="972.8" y1="548.50" y2="548.50" stroke="#ededed" stroke-width="1.2"/>
<line x1="606.75" x2="972.8" y1="491.05" y2="491.05" stroke="#ededed" stroke-width="1.2"/>
<text x="601.6" y="784.30" text-anchor="end" font-size="17" fill="#666">$0.0T</text>
<text x="601.6" y="726.85" text-anchor="end" font-size="17" fill="#666">$2.5T</text>
<text x="601.6" y="669.40" text-anchor="end" font-size="17" fill="#666">$5.0T</text>
<text x="601.6" y="611.95" text-anchor="end" font-size="17" fill="#666">$7.5T</text>
<text x="601.6" y="554.50" text-anchor="end" font-size="17" fill="#666">$10.0T</text>
<text x="601.6" y="497.05" text-anchor="end" font-size="17" fill="#666">$12.5T</text>
<rect x="616.25" y="704.76" width="60.75" height="73.54" fill="#6B5499"/>
<rect x="689.90" y="665.70" width="60.80" height="112.60" fill="#1F96E8"/>
<rect x="763.20" y="651.91" width="60.80" height="126.39" fill="#DC3D7B"/>
<rect x="836.50" y="665.70" width="60.80" height="112.60" fill="#FFB000"/>
<rect x="909.80" y="707.06" width="58.40" height="71.24" fill="#1A428A"/>
<rect x="606.75" y="775.90" width="371.75" height="4.8" fill="#555"/>
<text x="620.75" y="694.50" font-size="16.8" textLength="45.00" lengthAdjust="spacingAndGlyphs" font-weight="bold" fill="#4a4a4a">$3.2T</text>
<text x="694.40" y="657.00" font-size="16.8" textLength="45.60" lengthAdjust="spacingAndGlyphs" font-weight="bold" fill="#4a4a4a">$4.9T</text>
<text x="766.25" y="643.00" font-size="16.8" textLength="45.00" lengthAdjust="spacingAndGlyphs" font-weight="bold" fill="#4a4a4a">$5.5T</text>
<text x="839.50" y="657.20" font-size="16.8" textLength="45.50" lengthAdjust="spacingAndGlyphs" font-weight="bold" fill="#4a4a4a">$4.9T</text>
<text x="913.20" y="697.90" font-size="16.8" textLength="44.50" lengthAdjust="spacingAndGlyphs" font-weight="bold" fill="#4a4a4a">$3.1T</text>
<text x="611.25" y="801.70" font-size="16.9" textLength="70.75" lengthAdjust="spacingAndGlyphs" fill="#666">Boomers</text>
<text x="697.00" y="801.70" font-size="16.9" textLength="45.50" lengthAdjust="spacingAndGlyphs" fill="#666">Gen X</text>
<text x="753.00" y="801.70" font-size="16.9" textLength="81.60" lengthAdjust="spacingAndGlyphs" fill="#666">Millennials</text>
<text x="845.90" y="801.70" font-size="16.9" textLength="45.10" lengthAdjust="spacingAndGlyphs" fill="#666">Gen Z</text>
<text x="916.60" y="801.70" font-size="16.9" textLength="44.00" lengthAdjust="spacingAndGlyphs" fill="#666">Alpha</text>
<text transform="translate(545,638.00) rotate(-90)" x="-58" y="0" textLength="116" lengthAdjust="spacingAndGlyphs" font-size="16.9" fill="#666">Total spending</text>
<path d="M886.2,817.5 a6,6 0 0 1 6,-6 h91.9 a6,6 0 0 1 6,6 v12.7 a6,6 0 0 1 -6,6 h-97.9 z" fill="#2563EB"/>
<text x="897.60" y="828.80" font-size="12.9" textLength="80.90" lengthAdjust="spacingAndGlyphs" font-weight="bold" fill="#fff">Nominal USD</text>
</svg>
</body></html>
